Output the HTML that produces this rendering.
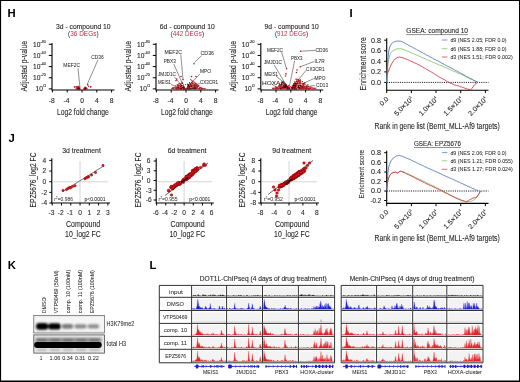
<!DOCTYPE html>
<html><head><meta charset="utf-8"><style>
html,body{margin:0;padding:0;background:#fff;}
svg{display:block;will-change:transform;}
text{font-family:"Liberation Sans", sans-serif;}
</style></head><body>
<svg width="520" height="382" viewBox="0 0 520 382">
<rect x="0.00" y="0.00" width="520.00" height="382.00" fill="#000" stroke="none" stroke-width="1" />
<rect x="1.10" y="1.00" width="517.90" height="379.50" fill="#fff" stroke="none" stroke-width="1" />
<text x="7.60" y="16.69" font-size="11.3" font-weight="bold" fill="#000">H</text>
<text x="349.40" y="17.09" font-size="11.3" font-weight="bold" fill="#000">I</text>
<text x="8.60" y="141.89" font-size="11.3" font-weight="bold" fill="#000">J</text>
<text x="7.80" y="269.09" font-size="11.3" font-weight="bold" fill="#000">K</text>
<text x="149.40" y="268.89" font-size="11.3" font-weight="bold" fill="#000">L</text>
<text x="56.00" y="28.76" font-size="6.6" fill="#231f20" stroke="#231f20" stroke-width="0.1" font-weight="normal" textLength="54.60" lengthAdjust="spacingAndGlyphs" >3d - compound 10</text>
<text x="68.00" y="36.16" font-size="6.6" textLength="30.60" lengthAdjust="spacingAndGlyphs" fill="#231f20">(<tspan fill="#c1304e">36 DEGs</tspan>)</text>
<text transform="translate(26.78,91.50) rotate(-90)" x="0" y="0" font-size="8.6" fill="#231f20" stroke="#231f20" stroke-width="0.1" textLength="50.50" lengthAdjust="spacingAndGlyphs">Adjusted p-value</text>
<line x1="52.00" y1="43.00" x2="52.00" y2="90.50" stroke="#000" stroke-width="1.1" />
<line x1="48.80" y1="44.30" x2="52.00" y2="44.30" stroke="#000" stroke-width="1" />
<text x="33.00" y="46.60" font-size="6.4" fill="#231f20" stroke="#231f20" stroke-width="0.1" textLength="7.4" lengthAdjust="spacingAndGlyphs">10</text>
<text x="40.60" y="42.70" font-size="3.6" fill="#231f20" stroke="#231f20" stroke-width="0.08" textLength="5.2" lengthAdjust="spacingAndGlyphs">-80</text>
<line x1="48.80" y1="55.45" x2="52.00" y2="55.45" stroke="#000" stroke-width="1" />
<text x="33.00" y="57.75" font-size="6.4" fill="#231f20" stroke="#231f20" stroke-width="0.1" textLength="7.4" lengthAdjust="spacingAndGlyphs">10</text>
<text x="40.60" y="53.85" font-size="3.6" fill="#231f20" stroke="#231f20" stroke-width="0.08" textLength="5.2" lengthAdjust="spacingAndGlyphs">-60</text>
<line x1="48.80" y1="66.60" x2="52.00" y2="66.60" stroke="#000" stroke-width="1" />
<text x="33.00" y="68.90" font-size="6.4" fill="#231f20" stroke="#231f20" stroke-width="0.1" textLength="7.4" lengthAdjust="spacingAndGlyphs">10</text>
<text x="40.60" y="65.00" font-size="3.6" fill="#231f20" stroke="#231f20" stroke-width="0.08" textLength="5.2" lengthAdjust="spacingAndGlyphs">-40</text>
<line x1="48.80" y1="77.75" x2="52.00" y2="77.75" stroke="#000" stroke-width="1" />
<text x="33.00" y="80.05" font-size="6.4" fill="#231f20" stroke="#231f20" stroke-width="0.1" textLength="7.4" lengthAdjust="spacingAndGlyphs">10</text>
<text x="40.60" y="76.15" font-size="3.6" fill="#231f20" stroke="#231f20" stroke-width="0.08" textLength="5.2" lengthAdjust="spacingAndGlyphs">-20</text>
<line x1="48.80" y1="88.90" x2="52.00" y2="88.90" stroke="#000" stroke-width="1" />
<text x="35.60" y="91.20" font-size="6.4" fill="#231f20" stroke="#231f20" stroke-width="0.1" textLength="7.4" lengthAdjust="spacingAndGlyphs">10</text>
<text x="43.20" y="87.30" font-size="3.6" fill="#231f20" stroke="#231f20" stroke-width="0.08" textLength="2.6" lengthAdjust="spacingAndGlyphs">0</text>
<line x1="52.00" y1="90.00" x2="114.50" y2="90.00" stroke="#000" stroke-width="1.1" />
<line x1="52.40" y1="90.00" x2="52.40" y2="92.50" stroke="#000" stroke-width="1" />
<text x="51.70" y="102.80" font-size="6.7" fill="#231f20" stroke="#231f20" stroke-width="0.1" font-weight="normal" text-anchor="middle">-8</text>
<line x1="67.20" y1="90.00" x2="67.20" y2="92.50" stroke="#000" stroke-width="1" />
<text x="66.50" y="102.80" font-size="6.7" fill="#231f20" stroke="#231f20" stroke-width="0.1" font-weight="normal" text-anchor="middle">-4</text>
<line x1="82.00" y1="90.00" x2="82.00" y2="92.50" stroke="#000" stroke-width="1" />
<text x="82.00" y="102.80" font-size="6.7" fill="#231f20" stroke="#231f20" stroke-width="0.1" font-weight="normal" text-anchor="middle">0</text>
<line x1="96.80" y1="90.00" x2="96.80" y2="92.50" stroke="#000" stroke-width="1" />
<text x="96.80" y="102.80" font-size="6.7" fill="#231f20" stroke="#231f20" stroke-width="0.1" font-weight="normal" text-anchor="middle">4</text>
<line x1="111.60" y1="90.00" x2="111.60" y2="92.50" stroke="#000" stroke-width="1" />
<text x="111.60" y="102.80" font-size="6.7" fill="#231f20" stroke="#231f20" stroke-width="0.1" font-weight="normal" text-anchor="middle">8</text>
<text x="56.90" y="114.85" font-size="8.8" fill="#231f20" stroke="#231f20" stroke-width="0.1" font-weight="normal" textLength="51.90" lengthAdjust="spacingAndGlyphs" >Log2 fold change</text>
<text x="63.30" y="67.13" font-size="5.4" fill="#231f20" stroke="#231f20" stroke-width="0.04" font-weight="normal" textLength="16.70" lengthAdjust="spacingAndGlyphs" >MEF2C</text>
<line x1="78.00" y1="68.30" x2="80.00" y2="88.10" stroke="#222" stroke-width="0.5" />
<text x="91.30" y="58.63" font-size="5.4" fill="#231f20" stroke="#231f20" stroke-width="0.04" font-weight="normal" textLength="12.30" lengthAdjust="spacingAndGlyphs" >CD36</text>
<line x1="98.00" y1="59.80" x2="87.40" y2="84.00" stroke="#222" stroke-width="0.5" />
<circle cx="87.70" cy="84.80" r="0.8" fill="#b21f24"/>
<circle cx="90.60" cy="86.80" r="0.8" fill="#b21f24"/>
<circle cx="74.50" cy="87.00" r="0.8" fill="#b21f24"/>
<path d="M75.2,89.6 C76.5,86.5 77.5,85.6 78.6,85.8 C79.6,86.2 80.3,87.5 80.8,89.6 Z" fill="#c8121a"/>
<path d="M82.8,89.6 C83.8,87.5 84.6,86.3 85.3,86.4 C86.2,86.6 87.2,88 88.4,89.6 Z" fill="#c8121a"/>
<path d="M77,89.6 L78.8,87.2 L80.4,89.6 Z M83.6,89.6 L85.2,87.6 L86.6,89.6 Z" fill="#3a0606"/>
<circle cx="74.90" cy="87.00" r="0.7" fill="#c8121a"/>
<circle cx="87.50" cy="84.60" r="0.7" fill="#c8121a"/>
<circle cx="88.60" cy="86.20" r="0.7" fill="#c8121a"/>
<circle cx="90.80" cy="87.00" r="0.7" fill="#c8121a"/>
<circle cx="76.20" cy="86.80" r="0.7" fill="#c8121a"/>
<text x="159.80" y="28.76" font-size="6.6" fill="#231f20" stroke="#231f20" stroke-width="0.1" font-weight="normal" textLength="55.00" lengthAdjust="spacingAndGlyphs" >6d - compound 10</text>
<text x="170.70" y="36.16" font-size="6.6" textLength="33.30" lengthAdjust="spacingAndGlyphs" fill="#231f20">(<tspan fill="#c1304e">442 DEGs</tspan>)</text>
<text transform="translate(130.78,91.50) rotate(-90)" x="0" y="0" font-size="8.6" fill="#231f20" stroke="#231f20" stroke-width="0.1" textLength="50.50" lengthAdjust="spacingAndGlyphs">Adjusted p-value</text>
<line x1="156.00" y1="43.00" x2="156.00" y2="90.50" stroke="#000" stroke-width="1.1" />
<line x1="152.80" y1="44.30" x2="156.00" y2="44.30" stroke="#000" stroke-width="1" />
<text x="137.00" y="46.60" font-size="6.4" fill="#231f20" stroke="#231f20" stroke-width="0.1" textLength="7.4" lengthAdjust="spacingAndGlyphs">10</text>
<text x="144.60" y="42.70" font-size="3.6" fill="#231f20" stroke="#231f20" stroke-width="0.08" textLength="5.2" lengthAdjust="spacingAndGlyphs">-80</text>
<line x1="152.80" y1="55.45" x2="156.00" y2="55.45" stroke="#000" stroke-width="1" />
<text x="137.00" y="57.75" font-size="6.4" fill="#231f20" stroke="#231f20" stroke-width="0.1" textLength="7.4" lengthAdjust="spacingAndGlyphs">10</text>
<text x="144.60" y="53.85" font-size="3.6" fill="#231f20" stroke="#231f20" stroke-width="0.08" textLength="5.2" lengthAdjust="spacingAndGlyphs">-60</text>
<line x1="152.80" y1="66.60" x2="156.00" y2="66.60" stroke="#000" stroke-width="1" />
<text x="137.00" y="68.90" font-size="6.4" fill="#231f20" stroke="#231f20" stroke-width="0.1" textLength="7.4" lengthAdjust="spacingAndGlyphs">10</text>
<text x="144.60" y="65.00" font-size="3.6" fill="#231f20" stroke="#231f20" stroke-width="0.08" textLength="5.2" lengthAdjust="spacingAndGlyphs">-40</text>
<line x1="152.80" y1="77.75" x2="156.00" y2="77.75" stroke="#000" stroke-width="1" />
<text x="137.00" y="80.05" font-size="6.4" fill="#231f20" stroke="#231f20" stroke-width="0.1" textLength="7.4" lengthAdjust="spacingAndGlyphs">10</text>
<text x="144.60" y="76.15" font-size="3.6" fill="#231f20" stroke="#231f20" stroke-width="0.08" textLength="5.2" lengthAdjust="spacingAndGlyphs">-20</text>
<line x1="152.80" y1="88.90" x2="156.00" y2="88.90" stroke="#000" stroke-width="1" />
<text x="139.60" y="91.20" font-size="6.4" fill="#231f20" stroke="#231f20" stroke-width="0.1" textLength="7.4" lengthAdjust="spacingAndGlyphs">10</text>
<text x="147.20" y="87.30" font-size="3.6" fill="#231f20" stroke="#231f20" stroke-width="0.08" textLength="2.6" lengthAdjust="spacingAndGlyphs">0</text>
<line x1="156.00" y1="90.00" x2="218.50" y2="90.00" stroke="#000" stroke-width="1.1" />
<line x1="156.40" y1="90.00" x2="156.40" y2="92.50" stroke="#000" stroke-width="1" />
<text x="155.70" y="102.80" font-size="6.7" fill="#231f20" stroke="#231f20" stroke-width="0.1" font-weight="normal" text-anchor="middle">-8</text>
<line x1="171.20" y1="90.00" x2="171.20" y2="92.50" stroke="#000" stroke-width="1" />
<text x="170.50" y="102.80" font-size="6.7" fill="#231f20" stroke="#231f20" stroke-width="0.1" font-weight="normal" text-anchor="middle">-4</text>
<line x1="186.00" y1="90.00" x2="186.00" y2="92.50" stroke="#000" stroke-width="1" />
<text x="186.00" y="102.80" font-size="6.7" fill="#231f20" stroke="#231f20" stroke-width="0.1" font-weight="normal" text-anchor="middle">0</text>
<line x1="200.80" y1="90.00" x2="200.80" y2="92.50" stroke="#000" stroke-width="1" />
<text x="200.80" y="102.80" font-size="6.7" fill="#231f20" stroke="#231f20" stroke-width="0.1" font-weight="normal" text-anchor="middle">4</text>
<line x1="215.60" y1="90.00" x2="215.60" y2="92.50" stroke="#000" stroke-width="1" />
<text x="215.60" y="102.80" font-size="6.7" fill="#231f20" stroke="#231f20" stroke-width="0.1" font-weight="normal" text-anchor="middle">8</text>
<text x="160.90" y="114.85" font-size="8.8" fill="#231f20" stroke="#231f20" stroke-width="0.1" font-weight="normal" textLength="51.90" lengthAdjust="spacingAndGlyphs" >Log2 fold change</text>
<path d="M186.00,89.60 L183.60,84.88 L182.40,89.60 Z" fill="#1e0c0c"/>
<circle cx="185.44" cy="88.76" r="0.62" fill="#b21f24"/>
<circle cx="181.75" cy="87.32" r="0.62" fill="#b21f24"/>
<circle cx="179.03" cy="85.87" r="0.62" fill="#b21f24"/>
<circle cx="178.83" cy="83.85" r="0.62" fill="#b21f24"/>
<circle cx="179.77" cy="88.78" r="0.62" fill="#b21f24"/>
<circle cx="184.90" cy="88.85" r="0.62" fill="#b21f24"/>
<circle cx="180.84" cy="84.23" r="0.62" fill="#b21f24"/>
<circle cx="184.41" cy="87.52" r="0.62" fill="#b21f24"/>
<circle cx="183.43" cy="84.99" r="0.62" fill="#b21f24"/>
<circle cx="182.90" cy="86.90" r="0.62" fill="#b21f24"/>
<circle cx="181.14" cy="88.56" r="0.62" fill="#b21f24"/>
<circle cx="175.78" cy="87.76" r="0.62" fill="#b21f24"/>
<circle cx="175.83" cy="85.63" r="0.62" fill="#b21f24"/>
<circle cx="180.70" cy="86.24" r="0.62" fill="#b21f24"/>
<circle cx="177.62" cy="87.69" r="0.62" fill="#b21f24"/>
<circle cx="178.62" cy="87.45" r="0.62" fill="#b21f24"/>
<circle cx="181.11" cy="83.49" r="0.62" fill="#b21f24"/>
<circle cx="178.35" cy="88.09" r="0.62" fill="#b21f24"/>
<circle cx="177.29" cy="84.63" r="0.62" fill="#b21f24"/>
<circle cx="180.38" cy="86.56" r="0.62" fill="#b21f24"/>
<circle cx="182.59" cy="83.45" r="0.62" fill="#b21f24"/>
<circle cx="175.85" cy="88.10" r="0.62" fill="#b21f24"/>
<circle cx="179.80" cy="85.31" r="0.62" fill="#b21f24"/>
<circle cx="179.54" cy="87.85" r="0.62" fill="#b21f24"/>
<circle cx="179.79" cy="83.52" r="0.62" fill="#b21f24"/>
<circle cx="181.99" cy="89.30" r="0.62" fill="#b21f24"/>
<circle cx="182.17" cy="82.28" r="0.62" fill="#b21f24"/>
<circle cx="182.99" cy="88.52" r="0.62" fill="#b21f24"/>
<circle cx="176.66" cy="87.74" r="0.62" fill="#b21f24"/>
<circle cx="176.40" cy="89.05" r="0.62" fill="#b21f24"/>
<circle cx="181.54" cy="86.47" r="0.62" fill="#b21f24"/>
<circle cx="180.58" cy="87.79" r="0.62" fill="#b21f24"/>
<circle cx="183.31" cy="87.55" r="0.62" fill="#b21f24"/>
<circle cx="180.70" cy="85.01" r="0.62" fill="#b21f24"/>
<circle cx="180.39" cy="88.01" r="0.62" fill="#b21f24"/>
<circle cx="178.09" cy="84.58" r="0.62" fill="#b21f24"/>
<circle cx="176.34" cy="88.31" r="0.62" fill="#b21f24"/>
<circle cx="179.37" cy="89.02" r="0.62" fill="#b21f24"/>
<circle cx="184.72" cy="89.23" r="0.62" fill="#b21f24"/>
<circle cx="185.51" cy="84.53" r="0.62" fill="#b21f24"/>
<circle cx="179.54" cy="88.06" r="0.62" fill="#b21f24"/>
<circle cx="181.66" cy="85.73" r="0.62" fill="#b21f24"/>
<circle cx="177.84" cy="85.83" r="0.62" fill="#b21f24"/>
<circle cx="182.62" cy="85.50" r="0.62" fill="#b21f24"/>
<circle cx="183.40" cy="88.67" r="0.62" fill="#b21f24"/>
<circle cx="177.56" cy="85.89" r="0.62" fill="#b21f24"/>
<circle cx="182.20" cy="82.87" r="0.62" fill="#b21f24"/>
<circle cx="177.58" cy="85.65" r="0.62" fill="#b21f24"/>
<circle cx="177.82" cy="86.11" r="0.62" fill="#b21f24"/>
<circle cx="175.88" cy="87.36" r="0.62" fill="#b21f24"/>
<circle cx="180.27" cy="84.36" r="0.62" fill="#b21f24"/>
<circle cx="178.17" cy="89.16" r="0.62" fill="#b21f24"/>
<circle cx="182.07" cy="87.87" r="0.62" fill="#b21f24"/>
<circle cx="178.44" cy="86.69" r="0.62" fill="#b21f24"/>
<circle cx="181.09" cy="89.30" r="0.62" fill="#b21f24"/>
<circle cx="176.90" cy="89.16" r="0.62" fill="#b21f24"/>
<circle cx="178.58" cy="85.46" r="0.62" fill="#b21f24"/>
<circle cx="185.15" cy="88.65" r="0.62" fill="#b21f24"/>
<circle cx="183.74" cy="86.18" r="0.62" fill="#b21f24"/>
<circle cx="181.55" cy="85.75" r="0.62" fill="#b21f24"/>
<circle cx="177.98" cy="88.45" r="0.6" fill="#b21f24"/>
<circle cx="174.01" cy="88.68" r="0.6" fill="#b21f24"/>
<circle cx="176.46" cy="88.43" r="0.6" fill="#b21f24"/>
<circle cx="172.61" cy="88.03" r="0.6" fill="#b21f24"/>
<circle cx="172.81" cy="88.00" r="0.6" fill="#b21f24"/>
<circle cx="178.53" cy="88.72" r="0.6" fill="#b21f24"/>
<circle cx="176.80" cy="88.69" r="0.6" fill="#b21f24"/>
<circle cx="177.35" cy="88.19" r="0.6" fill="#b21f24"/>
<circle cx="172.93" cy="88.30" r="0.6" fill="#b21f24"/>
<circle cx="173.84" cy="88.88" r="0.6" fill="#b21f24"/>
<circle cx="178.00" cy="87.80" r="0.6" fill="#b21f24"/>
<circle cx="179.88" cy="88.50" r="0.6" fill="#b21f24"/>
<circle cx="180.60" cy="88.90" r="0.6" fill="#b21f24"/>
<circle cx="173.14" cy="87.81" r="0.6" fill="#b21f24"/>
<circle cx="175.37" cy="88.85" r="0.6" fill="#b21f24"/>
<circle cx="183.06" cy="87.44" r="0.6" fill="#1e0808"/>
<circle cx="182.21" cy="87.27" r="0.6" fill="#1e0808"/>
<circle cx="180.12" cy="86.70" r="0.6" fill="#1e0808"/>
<circle cx="181.08" cy="88.41" r="0.6" fill="#1e0808"/>
<circle cx="183.78" cy="88.74" r="0.6" fill="#1e0808"/>
<circle cx="181.34" cy="88.50" r="0.6" fill="#1e0808"/>
<circle cx="181.44" cy="85.24" r="0.6" fill="#1e0808"/>
<path d="M186.00,89.60 L188.50,83.78 L191.10,89.60 Z" fill="#1e0c0c"/>
<circle cx="195.48" cy="87.42" r="0.62" fill="#b21f24"/>
<circle cx="189.37" cy="88.80" r="0.62" fill="#b21f24"/>
<circle cx="187.51" cy="84.11" r="0.62" fill="#b21f24"/>
<circle cx="194.87" cy="87.35" r="0.62" fill="#b21f24"/>
<circle cx="188.31" cy="85.60" r="0.62" fill="#b21f24"/>
<circle cx="197.54" cy="87.76" r="0.62" fill="#b21f24"/>
<circle cx="189.86" cy="87.56" r="0.62" fill="#b21f24"/>
<circle cx="195.63" cy="83.20" r="0.62" fill="#b21f24"/>
<circle cx="193.61" cy="87.68" r="0.62" fill="#b21f24"/>
<circle cx="192.54" cy="85.83" r="0.62" fill="#b21f24"/>
<circle cx="195.25" cy="85.73" r="0.62" fill="#b21f24"/>
<circle cx="200.42" cy="87.65" r="0.62" fill="#b21f24"/>
<circle cx="194.77" cy="87.58" r="0.62" fill="#b21f24"/>
<circle cx="196.61" cy="87.87" r="0.62" fill="#b21f24"/>
<circle cx="197.74" cy="86.38" r="0.62" fill="#b21f24"/>
<circle cx="185.09" cy="88.41" r="0.62" fill="#b21f24"/>
<circle cx="190.83" cy="85.84" r="0.62" fill="#b21f24"/>
<circle cx="192.05" cy="85.82" r="0.62" fill="#b21f24"/>
<circle cx="199.75" cy="89.13" r="0.62" fill="#b21f24"/>
<circle cx="196.64" cy="86.01" r="0.62" fill="#b21f24"/>
<circle cx="192.97" cy="81.29" r="0.62" fill="#b21f24"/>
<circle cx="194.23" cy="84.64" r="0.62" fill="#b21f24"/>
<circle cx="196.27" cy="88.55" r="0.62" fill="#b21f24"/>
<circle cx="190.62" cy="84.52" r="0.62" fill="#b21f24"/>
<circle cx="196.67" cy="83.97" r="0.62" fill="#b21f24"/>
<circle cx="197.95" cy="86.48" r="0.62" fill="#b21f24"/>
<circle cx="198.22" cy="85.48" r="0.62" fill="#b21f24"/>
<circle cx="196.84" cy="85.29" r="0.62" fill="#b21f24"/>
<circle cx="193.14" cy="87.49" r="0.62" fill="#b21f24"/>
<circle cx="191.93" cy="86.14" r="0.62" fill="#b21f24"/>
<circle cx="199.99" cy="88.33" r="0.62" fill="#b21f24"/>
<circle cx="188.50" cy="86.07" r="0.62" fill="#b21f24"/>
<circle cx="194.42" cy="83.97" r="0.62" fill="#b21f24"/>
<circle cx="195.48" cy="83.47" r="0.62" fill="#b21f24"/>
<circle cx="190.93" cy="88.89" r="0.62" fill="#b21f24"/>
<circle cx="194.07" cy="85.03" r="0.62" fill="#b21f24"/>
<circle cx="192.14" cy="87.84" r="0.62" fill="#b21f24"/>
<circle cx="192.09" cy="82.43" r="0.62" fill="#b21f24"/>
<circle cx="188.37" cy="85.06" r="0.62" fill="#b21f24"/>
<circle cx="187.79" cy="86.09" r="0.62" fill="#b21f24"/>
<circle cx="197.72" cy="85.73" r="0.62" fill="#b21f24"/>
<circle cx="191.58" cy="85.10" r="0.62" fill="#b21f24"/>
<circle cx="191.12" cy="85.43" r="0.62" fill="#b21f24"/>
<circle cx="186.72" cy="88.25" r="0.62" fill="#b21f24"/>
<circle cx="188.45" cy="87.58" r="0.62" fill="#b21f24"/>
<circle cx="193.09" cy="83.33" r="0.62" fill="#b21f24"/>
<circle cx="198.62" cy="86.72" r="0.62" fill="#b21f24"/>
<circle cx="202.05" cy="88.61" r="0.62" fill="#b21f24"/>
<circle cx="194.40" cy="87.17" r="0.62" fill="#b21f24"/>
<circle cx="190.83" cy="86.31" r="0.62" fill="#b21f24"/>
<circle cx="193.44" cy="83.17" r="0.62" fill="#b21f24"/>
<circle cx="196.51" cy="87.27" r="0.62" fill="#b21f24"/>
<circle cx="190.38" cy="85.34" r="0.62" fill="#b21f24"/>
<circle cx="198.94" cy="85.29" r="0.62" fill="#b21f24"/>
<circle cx="194.56" cy="85.05" r="0.62" fill="#b21f24"/>
<circle cx="193.05" cy="84.76" r="0.62" fill="#b21f24"/>
<circle cx="188.07" cy="89.07" r="0.62" fill="#b21f24"/>
<circle cx="191.19" cy="85.25" r="0.62" fill="#b21f24"/>
<circle cx="190.76" cy="79.51" r="0.62" fill="#b21f24"/>
<circle cx="191.61" cy="88.19" r="0.62" fill="#b21f24"/>
<circle cx="192.67" cy="88.29" r="0.62" fill="#b21f24"/>
<circle cx="191.91" cy="82.48" r="0.62" fill="#b21f24"/>
<circle cx="201.57" cy="89.21" r="0.62" fill="#b21f24"/>
<circle cx="190.90" cy="83.69" r="0.62" fill="#b21f24"/>
<circle cx="191.76" cy="80.74" r="0.62" fill="#b21f24"/>
<circle cx="190.23" cy="86.52" r="0.62" fill="#b21f24"/>
<circle cx="189.02" cy="88.01" r="0.62" fill="#b21f24"/>
<circle cx="189.22" cy="89.07" r="0.62" fill="#b21f24"/>
<circle cx="188.17" cy="86.96" r="0.62" fill="#b21f24"/>
<circle cx="201.66" cy="88.89" r="0.62" fill="#b21f24"/>
<circle cx="192.29" cy="83.39" r="0.62" fill="#b21f24"/>
<circle cx="194.42" cy="85.55" r="0.62" fill="#b21f24"/>
<circle cx="193.82" cy="87.29" r="0.62" fill="#b21f24"/>
<circle cx="187.54" cy="87.70" r="0.62" fill="#b21f24"/>
<circle cx="194.19" cy="86.29" r="0.62" fill="#b21f24"/>
<circle cx="189.43" cy="86.67" r="0.62" fill="#b21f24"/>
<circle cx="192.02" cy="84.79" r="0.62" fill="#b21f24"/>
<circle cx="199.96" cy="87.52" r="0.62" fill="#b21f24"/>
<circle cx="189.75" cy="83.59" r="0.62" fill="#b21f24"/>
<circle cx="196.25" cy="86.92" r="0.62" fill="#b21f24"/>
<circle cx="187.26" cy="88.90" r="0.62" fill="#b21f24"/>
<circle cx="192.77" cy="81.02" r="0.62" fill="#b21f24"/>
<circle cx="193.20" cy="88.40" r="0.62" fill="#b21f24"/>
<circle cx="196.46" cy="86.09" r="0.62" fill="#b21f24"/>
<circle cx="194.55" cy="82.11" r="0.62" fill="#b21f24"/>
<circle cx="196.15" cy="86.29" r="0.62" fill="#b21f24"/>
<circle cx="200.11" cy="87.36" r="0.62" fill="#b21f24"/>
<circle cx="195.84" cy="87.13" r="0.62" fill="#b21f24"/>
<circle cx="192.98" cy="85.14" r="0.62" fill="#b21f24"/>
<circle cx="194.40" cy="86.95" r="0.62" fill="#b21f24"/>
<circle cx="197.46" cy="87.05" r="0.62" fill="#b21f24"/>
<circle cx="194.52" cy="84.75" r="0.62" fill="#b21f24"/>
<circle cx="191.37" cy="85.64" r="0.62" fill="#b21f24"/>
<circle cx="201.06" cy="89.30" r="0.62" fill="#b21f24"/>
<circle cx="191.84" cy="85.43" r="0.62" fill="#b21f24"/>
<circle cx="195.40" cy="84.71" r="0.62" fill="#b21f24"/>
<circle cx="191.70" cy="84.16" r="0.62" fill="#b21f24"/>
<circle cx="187.66" cy="84.73" r="0.62" fill="#b21f24"/>
<circle cx="196.84" cy="84.36" r="0.62" fill="#b21f24"/>
<circle cx="193.40" cy="87.26" r="0.62" fill="#b21f24"/>
<circle cx="195.39" cy="88.16" r="0.6" fill="#b21f24"/>
<circle cx="203.95" cy="88.29" r="0.6" fill="#b21f24"/>
<circle cx="201.75" cy="88.37" r="0.6" fill="#b21f24"/>
<circle cx="195.79" cy="88.74" r="0.6" fill="#b21f24"/>
<circle cx="193.59" cy="88.20" r="0.6" fill="#b21f24"/>
<circle cx="194.56" cy="88.25" r="0.6" fill="#b21f24"/>
<circle cx="197.79" cy="88.48" r="0.6" fill="#b21f24"/>
<circle cx="205.17" cy="88.53" r="0.6" fill="#b21f24"/>
<circle cx="198.85" cy="88.54" r="0.6" fill="#b21f24"/>
<circle cx="195.54" cy="88.73" r="0.6" fill="#b21f24"/>
<circle cx="199.59" cy="88.02" r="0.6" fill="#b21f24"/>
<circle cx="193.95" cy="87.87" r="0.6" fill="#b21f24"/>
<circle cx="201.40" cy="88.94" r="0.6" fill="#b21f24"/>
<circle cx="201.81" cy="88.52" r="0.6" fill="#b21f24"/>
<circle cx="199.36" cy="88.88" r="0.6" fill="#b21f24"/>
<circle cx="199.31" cy="88.38" r="0.6" fill="#b21f24"/>
<circle cx="202.78" cy="88.30" r="0.6" fill="#b21f24"/>
<circle cx="201.79" cy="88.12" r="0.6" fill="#b21f24"/>
<circle cx="195.62" cy="88.97" r="0.6" fill="#b21f24"/>
<circle cx="198.90" cy="88.84" r="0.6" fill="#b21f24"/>
<circle cx="194.61" cy="88.61" r="0.6" fill="#b21f24"/>
<circle cx="199.66" cy="88.26" r="0.6" fill="#b21f24"/>
<circle cx="201.04" cy="87.87" r="0.6" fill="#b21f24"/>
<circle cx="194.10" cy="88.33" r="0.6" fill="#b21f24"/>
<circle cx="193.90" cy="88.20" r="0.6" fill="#b21f24"/>
<circle cx="189.20" cy="86.09" r="0.6" fill="#1e0808"/>
<circle cx="194.95" cy="86.93" r="0.6" fill="#1e0808"/>
<circle cx="188.51" cy="85.50" r="0.6" fill="#1e0808"/>
<circle cx="191.29" cy="86.64" r="0.6" fill="#1e0808"/>
<circle cx="190.96" cy="88.49" r="0.6" fill="#1e0808"/>
<circle cx="195.71" cy="88.29" r="0.6" fill="#1e0808"/>
<circle cx="188.85" cy="84.77" r="0.6" fill="#1e0808"/>
<circle cx="189.60" cy="86.58" r="0.6" fill="#1e0808"/>
<circle cx="192.20" cy="88.31" r="0.6" fill="#1e0808"/>
<circle cx="189.69" cy="82.57" r="0.6" fill="#1e0808"/>
<circle cx="190.24" cy="84.61" r="0.6" fill="#1e0808"/>
<circle cx="194.03" cy="88.95" r="0.6" fill="#1e0808"/>
<text x="164.60" y="53.83" font-size="5.4" fill="#231f20" stroke="#231f20" stroke-width="0.04" font-weight="normal" textLength="17.40" lengthAdjust="spacingAndGlyphs" >MEF2C</text>
<line x1="180.80" y1="54.50" x2="183.00" y2="79.20" stroke="#222" stroke-width="0.5" />
<circle cx="183.00" cy="79.60" r="0.8" fill="#b21f24"/>
<text x="200.60" y="54.63" font-size="5.4" fill="#231f20" stroke="#231f20" stroke-width="0.04" font-weight="normal" textLength="13.40" lengthAdjust="spacingAndGlyphs" >CD36</text>
<line x1="201.50" y1="55.60" x2="194.60" y2="62.50" stroke="#222" stroke-width="0.5" />
<circle cx="194.00" cy="63.70" r="0.8" fill="#b21f24"/>
<text x="163.70" y="62.73" font-size="5.4" fill="#231f20" stroke="#231f20" stroke-width="0.04" font-weight="normal" textLength="12.10" lengthAdjust="spacingAndGlyphs" >PBX3</text>
<line x1="173.80" y1="64.00" x2="182.50" y2="83.80" stroke="#222" stroke-width="0.5" />
<text x="200.00" y="73.13" font-size="5.4" fill="#231f20" stroke="#231f20" stroke-width="0.04" font-weight="normal" textLength="11.00" lengthAdjust="spacingAndGlyphs" >MPO</text>
<line x1="199.80" y1="74.00" x2="189.40" y2="85.00" stroke="#222" stroke-width="0.5" />
<circle cx="191.50" cy="76.50" r="0.8" fill="#b21f24"/>
<circle cx="196.00" cy="76.50" r="0.8" fill="#b21f24"/>
<text x="157.90" y="76.13" font-size="5.4" fill="#231f20" stroke="#231f20" stroke-width="0.04" font-weight="normal" textLength="18.10" lengthAdjust="spacingAndGlyphs" >JMJD1C</text>
<line x1="174.40" y1="77.00" x2="181.30" y2="85.00" stroke="#222" stroke-width="0.5" />
<circle cx="181.00" cy="76.50" r="0.8" fill="#b21f24"/>
<circle cx="176.80" cy="79.00" r="0.8" fill="#b21f24"/>
<circle cx="176.00" cy="80.50" r="0.8" fill="#b21f24"/>
<text x="158.00" y="84.43" font-size="5.4" fill="#231f20" stroke="#231f20" stroke-width="0.04" font-weight="normal" textLength="13.00" lengthAdjust="spacingAndGlyphs" >MEIS1</text>
<line x1="171.00" y1="84.40" x2="179.00" y2="87.90" stroke="#222" stroke-width="0.5" />
<circle cx="174.00" cy="87.50" r="0.8" fill="#b21f24"/>
<circle cx="172.00" cy="88.50" r="0.8" fill="#b21f24"/>
<text x="200.00" y="83.93" font-size="5.4" fill="#231f20" stroke="#231f20" stroke-width="0.04" font-weight="normal" textLength="18.00" lengthAdjust="spacingAndGlyphs" >CX3CR1</text>
<line x1="199.80" y1="83.30" x2="192.30" y2="86.70" stroke="#222" stroke-width="0.5" />
<circle cx="202.00" cy="88.50" r="0.8" fill="#b21f24"/>
<circle cx="204.00" cy="88.80" r="0.8" fill="#b21f24"/>
<text x="264.60" y="28.76" font-size="6.6" fill="#231f20" stroke="#231f20" stroke-width="0.1" font-weight="normal" textLength="54.20" lengthAdjust="spacingAndGlyphs" >9d - compound 10</text>
<text x="275.00" y="36.16" font-size="6.6" textLength="33.00" lengthAdjust="spacingAndGlyphs" fill="#231f20">(<tspan fill="#c1304e">912 DEGs</tspan>)</text>
<text transform="translate(235.58,91.50) rotate(-90)" x="0" y="0" font-size="8.6" fill="#231f20" stroke="#231f20" stroke-width="0.1" textLength="50.50" lengthAdjust="spacingAndGlyphs">Adjusted p-value</text>
<line x1="260.80" y1="43.00" x2="260.80" y2="90.50" stroke="#000" stroke-width="1.1" />
<line x1="257.60" y1="44.30" x2="260.80" y2="44.30" stroke="#000" stroke-width="1" />
<text x="241.80" y="46.60" font-size="6.4" fill="#231f20" stroke="#231f20" stroke-width="0.1" textLength="7.4" lengthAdjust="spacingAndGlyphs">10</text>
<text x="249.40" y="42.70" font-size="3.6" fill="#231f20" stroke="#231f20" stroke-width="0.08" textLength="5.2" lengthAdjust="spacingAndGlyphs">-80</text>
<line x1="257.60" y1="55.45" x2="260.80" y2="55.45" stroke="#000" stroke-width="1" />
<text x="241.80" y="57.75" font-size="6.4" fill="#231f20" stroke="#231f20" stroke-width="0.1" textLength="7.4" lengthAdjust="spacingAndGlyphs">10</text>
<text x="249.40" y="53.85" font-size="3.6" fill="#231f20" stroke="#231f20" stroke-width="0.08" textLength="5.2" lengthAdjust="spacingAndGlyphs">-60</text>
<line x1="257.60" y1="66.60" x2="260.80" y2="66.60" stroke="#000" stroke-width="1" />
<text x="241.80" y="68.90" font-size="6.4" fill="#231f20" stroke="#231f20" stroke-width="0.1" textLength="7.4" lengthAdjust="spacingAndGlyphs">10</text>
<text x="249.40" y="65.00" font-size="3.6" fill="#231f20" stroke="#231f20" stroke-width="0.08" textLength="5.2" lengthAdjust="spacingAndGlyphs">-40</text>
<line x1="257.60" y1="77.75" x2="260.80" y2="77.75" stroke="#000" stroke-width="1" />
<text x="241.80" y="80.05" font-size="6.4" fill="#231f20" stroke="#231f20" stroke-width="0.1" textLength="7.4" lengthAdjust="spacingAndGlyphs">10</text>
<text x="249.40" y="76.15" font-size="3.6" fill="#231f20" stroke="#231f20" stroke-width="0.08" textLength="5.2" lengthAdjust="spacingAndGlyphs">-20</text>
<line x1="257.60" y1="88.90" x2="260.80" y2="88.90" stroke="#000" stroke-width="1" />
<text x="244.40" y="91.20" font-size="6.4" fill="#231f20" stroke="#231f20" stroke-width="0.1" textLength="7.4" lengthAdjust="spacingAndGlyphs">10</text>
<text x="252.00" y="87.30" font-size="3.6" fill="#231f20" stroke="#231f20" stroke-width="0.08" textLength="2.6" lengthAdjust="spacingAndGlyphs">0</text>
<line x1="260.80" y1="90.00" x2="323.30" y2="90.00" stroke="#000" stroke-width="1.1" />
<line x1="261.20" y1="90.00" x2="261.20" y2="92.50" stroke="#000" stroke-width="1" />
<text x="260.50" y="102.80" font-size="6.7" fill="#231f20" stroke="#231f20" stroke-width="0.1" font-weight="normal" text-anchor="middle">-8</text>
<line x1="276.00" y1="90.00" x2="276.00" y2="92.50" stroke="#000" stroke-width="1" />
<text x="275.30" y="102.80" font-size="6.7" fill="#231f20" stroke="#231f20" stroke-width="0.1" font-weight="normal" text-anchor="middle">-4</text>
<line x1="290.80" y1="90.00" x2="290.80" y2="92.50" stroke="#000" stroke-width="1" />
<text x="290.80" y="102.80" font-size="6.7" fill="#231f20" stroke="#231f20" stroke-width="0.1" font-weight="normal" text-anchor="middle">0</text>
<line x1="305.60" y1="90.00" x2="305.60" y2="92.50" stroke="#000" stroke-width="1" />
<text x="305.60" y="102.80" font-size="6.7" fill="#231f20" stroke="#231f20" stroke-width="0.1" font-weight="normal" text-anchor="middle">4</text>
<line x1="320.40" y1="90.00" x2="320.40" y2="92.50" stroke="#000" stroke-width="1" />
<text x="320.40" y="102.80" font-size="6.7" fill="#231f20" stroke="#231f20" stroke-width="0.1" font-weight="normal" text-anchor="middle">8</text>
<text x="265.70" y="114.85" font-size="8.8" fill="#231f20" stroke="#231f20" stroke-width="0.1" font-weight="normal" textLength="51.90" lengthAdjust="spacingAndGlyphs" >Log2 fold change</text>
<path d="M290.80,89.60 L286.90,84.88 L286.00,89.60 Z" fill="#1e0c0c"/>
<circle cx="279.58" cy="87.81" r="0.62" fill="#b21f24"/>
<circle cx="286.20" cy="84.40" r="0.62" fill="#b21f24"/>
<circle cx="285.82" cy="87.04" r="0.62" fill="#b21f24"/>
<circle cx="280.89" cy="87.51" r="0.62" fill="#b21f24"/>
<circle cx="284.70" cy="86.12" r="0.62" fill="#b21f24"/>
<circle cx="284.59" cy="83.16" r="0.62" fill="#b21f24"/>
<circle cx="288.48" cy="86.23" r="0.62" fill="#b21f24"/>
<circle cx="286.32" cy="85.57" r="0.62" fill="#b21f24"/>
<circle cx="281.35" cy="84.94" r="0.62" fill="#b21f24"/>
<circle cx="282.71" cy="82.72" r="0.62" fill="#b21f24"/>
<circle cx="281.09" cy="88.38" r="0.62" fill="#b21f24"/>
<circle cx="280.12" cy="85.84" r="0.62" fill="#b21f24"/>
<circle cx="285.36" cy="84.63" r="0.62" fill="#b21f24"/>
<circle cx="289.34" cy="87.61" r="0.62" fill="#b21f24"/>
<circle cx="289.90" cy="87.52" r="0.62" fill="#b21f24"/>
<circle cx="282.30" cy="82.96" r="0.62" fill="#b21f24"/>
<circle cx="288.85" cy="85.42" r="0.62" fill="#b21f24"/>
<circle cx="276.96" cy="88.52" r="0.62" fill="#b21f24"/>
<circle cx="281.74" cy="83.57" r="0.62" fill="#b21f24"/>
<circle cx="285.16" cy="83.86" r="0.62" fill="#b21f24"/>
<circle cx="287.04" cy="88.03" r="0.62" fill="#b21f24"/>
<circle cx="287.01" cy="86.59" r="0.62" fill="#b21f24"/>
<circle cx="282.42" cy="87.30" r="0.62" fill="#b21f24"/>
<circle cx="275.89" cy="89.30" r="0.62" fill="#b21f24"/>
<circle cx="279.22" cy="88.40" r="0.62" fill="#b21f24"/>
<circle cx="280.65" cy="86.03" r="0.62" fill="#b21f24"/>
<circle cx="281.43" cy="88.96" r="0.62" fill="#b21f24"/>
<circle cx="284.97" cy="87.12" r="0.62" fill="#b21f24"/>
<circle cx="285.54" cy="85.29" r="0.62" fill="#b21f24"/>
<circle cx="280.62" cy="88.69" r="0.62" fill="#b21f24"/>
<circle cx="279.07" cy="85.70" r="0.62" fill="#b21f24"/>
<circle cx="284.57" cy="86.83" r="0.62" fill="#b21f24"/>
<circle cx="287.68" cy="87.23" r="0.62" fill="#b21f24"/>
<circle cx="280.66" cy="84.95" r="0.62" fill="#b21f24"/>
<circle cx="278.18" cy="86.79" r="0.62" fill="#b21f24"/>
<circle cx="283.31" cy="82.80" r="0.62" fill="#b21f24"/>
<circle cx="284.99" cy="86.26" r="0.62" fill="#b21f24"/>
<circle cx="282.27" cy="87.33" r="0.62" fill="#b21f24"/>
<circle cx="283.33" cy="86.03" r="0.62" fill="#b21f24"/>
<circle cx="275.86" cy="88.66" r="0.62" fill="#b21f24"/>
<circle cx="281.18" cy="88.44" r="0.62" fill="#b21f24"/>
<circle cx="284.08" cy="83.95" r="0.62" fill="#b21f24"/>
<circle cx="285.26" cy="86.82" r="0.62" fill="#b21f24"/>
<circle cx="279.21" cy="87.91" r="0.62" fill="#b21f24"/>
<circle cx="277.12" cy="87.97" r="0.62" fill="#b21f24"/>
<circle cx="281.33" cy="85.68" r="0.62" fill="#b21f24"/>
<circle cx="277.17" cy="87.76" r="0.62" fill="#b21f24"/>
<circle cx="286.04" cy="84.57" r="0.62" fill="#b21f24"/>
<circle cx="285.76" cy="86.47" r="0.62" fill="#b21f24"/>
<circle cx="283.13" cy="87.06" r="0.62" fill="#b21f24"/>
<circle cx="281.69" cy="84.42" r="0.62" fill="#b21f24"/>
<circle cx="286.47" cy="87.69" r="0.62" fill="#b21f24"/>
<circle cx="284.40" cy="88.33" r="0.62" fill="#b21f24"/>
<circle cx="284.22" cy="87.09" r="0.62" fill="#b21f24"/>
<circle cx="284.76" cy="84.25" r="0.62" fill="#b21f24"/>
<circle cx="281.55" cy="83.54" r="0.62" fill="#b21f24"/>
<circle cx="283.64" cy="86.12" r="0.62" fill="#b21f24"/>
<circle cx="277.91" cy="87.20" r="0.62" fill="#b21f24"/>
<circle cx="283.29" cy="81.96" r="0.62" fill="#b21f24"/>
<circle cx="285.97" cy="89.30" r="0.62" fill="#b21f24"/>
<circle cx="279.94" cy="85.79" r="0.62" fill="#b21f24"/>
<circle cx="288.53" cy="88.75" r="0.62" fill="#b21f24"/>
<circle cx="288.98" cy="89.18" r="0.62" fill="#b21f24"/>
<circle cx="282.70" cy="87.33" r="0.62" fill="#b21f24"/>
<circle cx="280.68" cy="85.10" r="0.62" fill="#b21f24"/>
<circle cx="280.80" cy="87.50" r="0.62" fill="#b21f24"/>
<circle cx="286.65" cy="88.98" r="0.62" fill="#b21f24"/>
<circle cx="279.50" cy="86.57" r="0.62" fill="#b21f24"/>
<circle cx="280.38" cy="85.79" r="0.62" fill="#b21f24"/>
<circle cx="280.88" cy="84.76" r="0.62" fill="#b21f24"/>
<circle cx="282.97" cy="85.79" r="0.62" fill="#b21f24"/>
<circle cx="285.02" cy="84.47" r="0.62" fill="#b21f24"/>
<circle cx="286.60" cy="88.90" r="0.62" fill="#b21f24"/>
<circle cx="276.06" cy="87.01" r="0.62" fill="#b21f24"/>
<circle cx="283.77" cy="86.67" r="0.62" fill="#b21f24"/>
<circle cx="280.98" cy="88.24" r="0.62" fill="#b21f24"/>
<circle cx="284.32" cy="83.34" r="0.62" fill="#b21f24"/>
<circle cx="278.06" cy="88.27" r="0.62" fill="#b21f24"/>
<circle cx="275.74" cy="87.08" r="0.62" fill="#b21f24"/>
<circle cx="283.75" cy="88.49" r="0.62" fill="#b21f24"/>
<circle cx="281.09" cy="86.98" r="0.62" fill="#b21f24"/>
<circle cx="288.37" cy="87.32" r="0.62" fill="#b21f24"/>
<circle cx="284.67" cy="86.11" r="0.62" fill="#b21f24"/>
<circle cx="279.01" cy="86.53" r="0.62" fill="#b21f24"/>
<circle cx="281.16" cy="86.75" r="0.62" fill="#b21f24"/>
<circle cx="282.86" cy="88.27" r="0.62" fill="#b21f24"/>
<circle cx="281.97" cy="82.46" r="0.62" fill="#b21f24"/>
<circle cx="279.53" cy="86.64" r="0.62" fill="#b21f24"/>
<circle cx="277.35" cy="88.80" r="0.62" fill="#b21f24"/>
<circle cx="281.38" cy="88.71" r="0.62" fill="#b21f24"/>
<circle cx="285.36" cy="88.36" r="0.62" fill="#b21f24"/>
<circle cx="284.00" cy="85.25" r="0.62" fill="#b21f24"/>
<circle cx="279.42" cy="84.33" r="0.62" fill="#b21f24"/>
<circle cx="282.00" cy="84.74" r="0.62" fill="#b21f24"/>
<circle cx="281.25" cy="85.90" r="0.62" fill="#b21f24"/>
<circle cx="283.23" cy="85.36" r="0.62" fill="#b21f24"/>
<circle cx="279.02" cy="85.32" r="0.62" fill="#b21f24"/>
<circle cx="281.21" cy="87.77" r="0.62" fill="#b21f24"/>
<circle cx="279.90" cy="86.41" r="0.62" fill="#b21f24"/>
<circle cx="283.59" cy="86.44" r="0.62" fill="#b21f24"/>
<circle cx="276.30" cy="87.85" r="0.6" fill="#b21f24"/>
<circle cx="274.15" cy="88.71" r="0.6" fill="#b21f24"/>
<circle cx="282.12" cy="88.69" r="0.6" fill="#b21f24"/>
<circle cx="282.15" cy="88.15" r="0.6" fill="#b21f24"/>
<circle cx="274.10" cy="87.92" r="0.6" fill="#b21f24"/>
<circle cx="281.34" cy="87.96" r="0.6" fill="#b21f24"/>
<circle cx="280.64" cy="88.49" r="0.6" fill="#b21f24"/>
<circle cx="275.65" cy="88.90" r="0.6" fill="#b21f24"/>
<circle cx="283.29" cy="88.00" r="0.6" fill="#b21f24"/>
<circle cx="280.90" cy="88.57" r="0.6" fill="#b21f24"/>
<circle cx="277.44" cy="88.19" r="0.6" fill="#b21f24"/>
<circle cx="284.32" cy="88.60" r="0.6" fill="#b21f24"/>
<circle cx="279.17" cy="88.42" r="0.6" fill="#b21f24"/>
<circle cx="281.88" cy="88.30" r="0.6" fill="#b21f24"/>
<circle cx="272.94" cy="88.53" r="0.6" fill="#b21f24"/>
<circle cx="277.87" cy="88.86" r="0.6" fill="#b21f24"/>
<circle cx="281.10" cy="88.20" r="0.6" fill="#b21f24"/>
<circle cx="283.05" cy="87.94" r="0.6" fill="#b21f24"/>
<circle cx="273.49" cy="88.88" r="0.6" fill="#b21f24"/>
<circle cx="273.10" cy="88.55" r="0.6" fill="#b21f24"/>
<circle cx="275.13" cy="88.09" r="0.6" fill="#b21f24"/>
<circle cx="280.85" cy="88.19" r="0.6" fill="#b21f24"/>
<circle cx="276.55" cy="88.03" r="0.6" fill="#b21f24"/>
<circle cx="281.21" cy="88.09" r="0.6" fill="#b21f24"/>
<circle cx="272.86" cy="88.19" r="0.6" fill="#b21f24"/>
<circle cx="286.60" cy="86.19" r="0.6" fill="#1e0808"/>
<circle cx="284.16" cy="86.41" r="0.6" fill="#1e0808"/>
<circle cx="285.66" cy="87.52" r="0.6" fill="#1e0808"/>
<circle cx="285.67" cy="86.03" r="0.6" fill="#1e0808"/>
<circle cx="284.73" cy="87.14" r="0.6" fill="#1e0808"/>
<circle cx="285.09" cy="84.69" r="0.6" fill="#1e0808"/>
<circle cx="285.84" cy="85.56" r="0.6" fill="#1e0808"/>
<circle cx="280.81" cy="88.64" r="0.6" fill="#1e0808"/>
<circle cx="284.02" cy="85.49" r="0.6" fill="#1e0808"/>
<circle cx="283.62" cy="86.89" r="0.6" fill="#1e0808"/>
<circle cx="282.80" cy="87.15" r="0.6" fill="#1e0808"/>
<circle cx="287.12" cy="87.36" r="0.6" fill="#1e0808"/>
<path d="M290.80,89.60 L294.05,82.95 L297.40,89.60 Z" fill="#1e0c0c"/>
<circle cx="307.02" cy="87.49" r="0.62" fill="#b21f24"/>
<circle cx="306.52" cy="86.72" r="0.62" fill="#b21f24"/>
<circle cx="296.87" cy="79.39" r="0.62" fill="#b21f24"/>
<circle cx="306.16" cy="86.99" r="0.62" fill="#b21f24"/>
<circle cx="297.99" cy="84.88" r="0.62" fill="#b21f24"/>
<circle cx="297.76" cy="87.94" r="0.62" fill="#b21f24"/>
<circle cx="298.42" cy="86.93" r="0.62" fill="#b21f24"/>
<circle cx="300.71" cy="81.67" r="0.62" fill="#b21f24"/>
<circle cx="297.50" cy="82.72" r="0.62" fill="#b21f24"/>
<circle cx="303.52" cy="84.24" r="0.62" fill="#b21f24"/>
<circle cx="297.03" cy="79.21" r="0.62" fill="#b21f24"/>
<circle cx="303.82" cy="88.18" r="0.62" fill="#b21f24"/>
<circle cx="293.46" cy="84.50" r="0.62" fill="#b21f24"/>
<circle cx="302.15" cy="86.89" r="0.62" fill="#b21f24"/>
<circle cx="307.34" cy="88.38" r="0.62" fill="#b21f24"/>
<circle cx="304.63" cy="83.93" r="0.62" fill="#b21f24"/>
<circle cx="301.59" cy="88.08" r="0.62" fill="#b21f24"/>
<circle cx="294.82" cy="84.02" r="0.62" fill="#b21f24"/>
<circle cx="301.07" cy="86.89" r="0.62" fill="#b21f24"/>
<circle cx="292.46" cy="86.10" r="0.62" fill="#b21f24"/>
<circle cx="297.92" cy="81.25" r="0.62" fill="#b21f24"/>
<circle cx="301.49" cy="87.02" r="0.62" fill="#b21f24"/>
<circle cx="307.50" cy="84.83" r="0.62" fill="#b21f24"/>
<circle cx="304.12" cy="86.79" r="0.62" fill="#b21f24"/>
<circle cx="292.86" cy="87.99" r="0.62" fill="#b21f24"/>
<circle cx="302.51" cy="86.52" r="0.62" fill="#b21f24"/>
<circle cx="302.01" cy="83.27" r="0.62" fill="#b21f24"/>
<circle cx="306.18" cy="87.49" r="0.62" fill="#b21f24"/>
<circle cx="305.96" cy="86.45" r="0.62" fill="#b21f24"/>
<circle cx="300.08" cy="82.45" r="0.62" fill="#b21f24"/>
<circle cx="298.60" cy="80.48" r="0.62" fill="#b21f24"/>
<circle cx="295.57" cy="86.90" r="0.62" fill="#b21f24"/>
<circle cx="293.80" cy="89.30" r="0.62" fill="#b21f24"/>
<circle cx="291.00" cy="88.54" r="0.62" fill="#b21f24"/>
<circle cx="295.92" cy="81.61" r="0.62" fill="#b21f24"/>
<circle cx="312.28" cy="88.97" r="0.62" fill="#b21f24"/>
<circle cx="297.05" cy="83.39" r="0.62" fill="#b21f24"/>
<circle cx="292.67" cy="87.16" r="0.62" fill="#b21f24"/>
<circle cx="304.48" cy="86.46" r="0.62" fill="#b21f24"/>
<circle cx="298.66" cy="85.47" r="0.62" fill="#b21f24"/>
<circle cx="294.34" cy="83.77" r="0.62" fill="#b21f24"/>
<circle cx="295.03" cy="82.53" r="0.62" fill="#b21f24"/>
<circle cx="293.67" cy="87.42" r="0.62" fill="#b21f24"/>
<circle cx="309.82" cy="87.79" r="0.62" fill="#b21f24"/>
<circle cx="294.07" cy="86.78" r="0.62" fill="#b21f24"/>
<circle cx="306.42" cy="85.56" r="0.62" fill="#b21f24"/>
<circle cx="299.22" cy="81.62" r="0.62" fill="#b21f24"/>
<circle cx="302.56" cy="81.51" r="0.62" fill="#b21f24"/>
<circle cx="298.80" cy="85.48" r="0.62" fill="#b21f24"/>
<circle cx="304.88" cy="88.38" r="0.62" fill="#b21f24"/>
<circle cx="303.61" cy="86.94" r="0.62" fill="#b21f24"/>
<circle cx="301.12" cy="85.35" r="0.62" fill="#b21f24"/>
<circle cx="297.31" cy="83.52" r="0.62" fill="#b21f24"/>
<circle cx="299.44" cy="82.89" r="0.62" fill="#b21f24"/>
<circle cx="298.30" cy="79.65" r="0.62" fill="#b21f24"/>
<circle cx="304.64" cy="87.01" r="0.62" fill="#b21f24"/>
<circle cx="301.75" cy="85.59" r="0.62" fill="#b21f24"/>
<circle cx="310.47" cy="88.39" r="0.62" fill="#b21f24"/>
<circle cx="305.62" cy="88.30" r="0.62" fill="#b21f24"/>
<circle cx="305.88" cy="87.27" r="0.62" fill="#b21f24"/>
<circle cx="296.69" cy="81.29" r="0.62" fill="#b21f24"/>
<circle cx="298.41" cy="81.97" r="0.62" fill="#b21f24"/>
<circle cx="298.54" cy="83.33" r="0.62" fill="#b21f24"/>
<circle cx="300.44" cy="80.15" r="0.62" fill="#b21f24"/>
<circle cx="299.02" cy="80.54" r="0.62" fill="#b21f24"/>
<circle cx="298.85" cy="79.88" r="0.62" fill="#b21f24"/>
<circle cx="294.63" cy="87.05" r="0.62" fill="#b21f24"/>
<circle cx="296.62" cy="83.41" r="0.62" fill="#b21f24"/>
<circle cx="308.71" cy="86.80" r="0.62" fill="#b21f24"/>
<circle cx="296.77" cy="81.56" r="0.62" fill="#b21f24"/>
<circle cx="303.36" cy="87.59" r="0.62" fill="#b21f24"/>
<circle cx="301.90" cy="85.68" r="0.62" fill="#b21f24"/>
<circle cx="305.19" cy="89.06" r="0.62" fill="#b21f24"/>
<circle cx="296.87" cy="86.20" r="0.62" fill="#b21f24"/>
<circle cx="290.68" cy="86.72" r="0.62" fill="#b21f24"/>
<circle cx="304.93" cy="82.69" r="0.62" fill="#b21f24"/>
<circle cx="302.58" cy="87.84" r="0.62" fill="#b21f24"/>
<circle cx="292.14" cy="89.30" r="0.62" fill="#b21f24"/>
<circle cx="294.01" cy="86.48" r="0.62" fill="#b21f24"/>
<circle cx="302.98" cy="83.96" r="0.62" fill="#b21f24"/>
<circle cx="301.46" cy="86.78" r="0.62" fill="#b21f24"/>
<circle cx="308.60" cy="86.52" r="0.62" fill="#b21f24"/>
<circle cx="295.86" cy="85.31" r="0.62" fill="#b21f24"/>
<circle cx="294.69" cy="85.55" r="0.62" fill="#b21f24"/>
<circle cx="296.48" cy="85.52" r="0.62" fill="#b21f24"/>
<circle cx="303.08" cy="84.69" r="0.62" fill="#b21f24"/>
<circle cx="303.81" cy="85.15" r="0.62" fill="#b21f24"/>
<circle cx="298.11" cy="85.65" r="0.62" fill="#b21f24"/>
<circle cx="302.92" cy="87.47" r="0.62" fill="#b21f24"/>
<circle cx="295.71" cy="87.78" r="0.62" fill="#b21f24"/>
<circle cx="295.84" cy="88.75" r="0.62" fill="#b21f24"/>
<circle cx="291.71" cy="87.19" r="0.62" fill="#b21f24"/>
<circle cx="303.65" cy="88.72" r="0.62" fill="#b21f24"/>
<circle cx="299.57" cy="80.95" r="0.62" fill="#b21f24"/>
<circle cx="299.81" cy="87.87" r="0.62" fill="#b21f24"/>
<circle cx="295.59" cy="88.36" r="0.62" fill="#b21f24"/>
<circle cx="295.68" cy="86.28" r="0.62" fill="#b21f24"/>
<circle cx="300.60" cy="83.03" r="0.62" fill="#b21f24"/>
<circle cx="296.04" cy="84.70" r="0.62" fill="#b21f24"/>
<circle cx="294.92" cy="84.57" r="0.62" fill="#b21f24"/>
<circle cx="305.11" cy="84.78" r="0.62" fill="#b21f24"/>
<circle cx="292.34" cy="85.34" r="0.62" fill="#b21f24"/>
<circle cx="303.35" cy="84.51" r="0.62" fill="#b21f24"/>
<circle cx="309.31" cy="89.22" r="0.62" fill="#b21f24"/>
<circle cx="298.66" cy="81.30" r="0.62" fill="#b21f24"/>
<circle cx="294.66" cy="81.92" r="0.62" fill="#b21f24"/>
<circle cx="299.74" cy="82.36" r="0.62" fill="#b21f24"/>
<circle cx="305.60" cy="88.39" r="0.62" fill="#b21f24"/>
<circle cx="292.06" cy="87.54" r="0.62" fill="#b21f24"/>
<circle cx="308.35" cy="88.88" r="0.62" fill="#b21f24"/>
<circle cx="300.41" cy="85.08" r="0.62" fill="#b21f24"/>
<circle cx="301.42" cy="85.82" r="0.62" fill="#b21f24"/>
<circle cx="296.55" cy="80.96" r="0.62" fill="#b21f24"/>
<circle cx="292.71" cy="86.64" r="0.62" fill="#b21f24"/>
<circle cx="300.00" cy="87.16" r="0.62" fill="#b21f24"/>
<circle cx="296.82" cy="81.30" r="0.62" fill="#b21f24"/>
<circle cx="299.62" cy="83.64" r="0.62" fill="#b21f24"/>
<circle cx="297.64" cy="81.62" r="0.62" fill="#b21f24"/>
<circle cx="295.84" cy="79.19" r="0.62" fill="#b21f24"/>
<circle cx="292.95" cy="87.06" r="0.62" fill="#b21f24"/>
<circle cx="300.12" cy="79.95" r="0.62" fill="#b21f24"/>
<circle cx="301.05" cy="88.76" r="0.62" fill="#b21f24"/>
<circle cx="294.97" cy="82.60" r="0.62" fill="#b21f24"/>
<circle cx="293.60" cy="88.47" r="0.62" fill="#b21f24"/>
<circle cx="297.73" cy="87.39" r="0.62" fill="#b21f24"/>
<circle cx="306.47" cy="89.30" r="0.62" fill="#b21f24"/>
<circle cx="300.62" cy="83.45" r="0.62" fill="#b21f24"/>
<circle cx="300.78" cy="81.04" r="0.62" fill="#b21f24"/>
<circle cx="303.64" cy="83.37" r="0.62" fill="#b21f24"/>
<circle cx="308.13" cy="86.38" r="0.62" fill="#b21f24"/>
<circle cx="311.14" cy="87.07" r="0.62" fill="#b21f24"/>
<circle cx="297.81" cy="87.34" r="0.62" fill="#b21f24"/>
<circle cx="304.18" cy="88.55" r="0.62" fill="#b21f24"/>
<circle cx="310.62" cy="87.06" r="0.62" fill="#b21f24"/>
<circle cx="303.32" cy="85.28" r="0.62" fill="#b21f24"/>
<circle cx="304.59" cy="83.70" r="0.62" fill="#b21f24"/>
<circle cx="303.61" cy="85.82" r="0.62" fill="#b21f24"/>
<circle cx="307.98" cy="84.89" r="0.62" fill="#b21f24"/>
<circle cx="294.88" cy="89.09" r="0.62" fill="#b21f24"/>
<circle cx="294.13" cy="86.03" r="0.62" fill="#b21f24"/>
<circle cx="306.84" cy="86.78" r="0.62" fill="#b21f24"/>
<circle cx="302.86" cy="83.78" r="0.62" fill="#b21f24"/>
<circle cx="300.35" cy="89.15" r="0.62" fill="#b21f24"/>
<circle cx="301.31" cy="87.39" r="0.62" fill="#b21f24"/>
<circle cx="308.51" cy="89.30" r="0.62" fill="#b21f24"/>
<circle cx="296.52" cy="84.59" r="0.62" fill="#b21f24"/>
<circle cx="297.25" cy="82.19" r="0.62" fill="#b21f24"/>
<circle cx="303.33" cy="86.04" r="0.62" fill="#b21f24"/>
<circle cx="295.47" cy="85.00" r="0.62" fill="#b21f24"/>
<circle cx="300.10" cy="86.36" r="0.62" fill="#b21f24"/>
<circle cx="298.35" cy="88.25" r="0.62" fill="#b21f24"/>
<circle cx="294.41" cy="83.72" r="0.62" fill="#b21f24"/>
<circle cx="296.13" cy="86.78" r="0.62" fill="#b21f24"/>
<circle cx="298.39" cy="81.09" r="0.62" fill="#b21f24"/>
<circle cx="296.52" cy="83.61" r="0.62" fill="#b21f24"/>
<circle cx="300.92" cy="87.13" r="0.62" fill="#b21f24"/>
<circle cx="293.47" cy="84.80" r="0.62" fill="#b21f24"/>
<circle cx="300.39" cy="85.94" r="0.62" fill="#b21f24"/>
<circle cx="300.41" cy="85.02" r="0.62" fill="#b21f24"/>
<circle cx="298.38" cy="89.09" r="0.62" fill="#b21f24"/>
<circle cx="312.03" cy="87.81" r="0.6" fill="#b21f24"/>
<circle cx="300.69" cy="88.99" r="0.6" fill="#b21f24"/>
<circle cx="307.52" cy="88.49" r="0.6" fill="#b21f24"/>
<circle cx="314.36" cy="88.01" r="0.6" fill="#b21f24"/>
<circle cx="305.07" cy="88.50" r="0.6" fill="#b21f24"/>
<circle cx="309.22" cy="87.94" r="0.6" fill="#b21f24"/>
<circle cx="302.93" cy="88.53" r="0.6" fill="#b21f24"/>
<circle cx="301.06" cy="88.23" r="0.6" fill="#b21f24"/>
<circle cx="300.04" cy="87.88" r="0.6" fill="#b21f24"/>
<circle cx="308.24" cy="88.31" r="0.6" fill="#b21f24"/>
<circle cx="301.01" cy="88.72" r="0.6" fill="#b21f24"/>
<circle cx="307.33" cy="87.97" r="0.6" fill="#b21f24"/>
<circle cx="308.49" cy="88.66" r="0.6" fill="#b21f24"/>
<circle cx="315.80" cy="88.21" r="0.6" fill="#b21f24"/>
<circle cx="308.32" cy="88.76" r="0.6" fill="#b21f24"/>
<circle cx="304.53" cy="87.92" r="0.6" fill="#b21f24"/>
<circle cx="301.79" cy="88.36" r="0.6" fill="#b21f24"/>
<circle cx="309.83" cy="88.57" r="0.6" fill="#b21f24"/>
<circle cx="312.28" cy="87.91" r="0.6" fill="#b21f24"/>
<circle cx="313.75" cy="88.11" r="0.6" fill="#b21f24"/>
<circle cx="302.96" cy="88.93" r="0.6" fill="#b21f24"/>
<circle cx="306.74" cy="88.63" r="0.6" fill="#b21f24"/>
<circle cx="302.80" cy="87.95" r="0.6" fill="#b21f24"/>
<circle cx="303.17" cy="88.01" r="0.6" fill="#b21f24"/>
<circle cx="315.07" cy="88.86" r="0.6" fill="#b21f24"/>
<circle cx="314.67" cy="88.52" r="0.6" fill="#b21f24"/>
<circle cx="303.10" cy="88.78" r="0.6" fill="#b21f24"/>
<circle cx="300.22" cy="88.40" r="0.6" fill="#b21f24"/>
<circle cx="305.94" cy="87.98" r="0.6" fill="#b21f24"/>
<circle cx="313.34" cy="88.93" r="0.6" fill="#b21f24"/>
<circle cx="306.22" cy="88.53" r="0.6" fill="#b21f24"/>
<circle cx="302.53" cy="88.70" r="0.6" fill="#b21f24"/>
<circle cx="303.95" cy="88.17" r="0.6" fill="#b21f24"/>
<circle cx="305.21" cy="88.87" r="0.6" fill="#b21f24"/>
<circle cx="303.24" cy="88.47" r="0.6" fill="#b21f24"/>
<circle cx="308.92" cy="88.71" r="0.6" fill="#b21f24"/>
<circle cx="311.14" cy="88.74" r="0.6" fill="#b21f24"/>
<circle cx="310.67" cy="88.27" r="0.6" fill="#b21f24"/>
<circle cx="302.50" cy="88.10" r="0.6" fill="#b21f24"/>
<circle cx="306.10" cy="88.35" r="0.6" fill="#b21f24"/>
<circle cx="298.36" cy="85.90" r="0.6" fill="#1e0808"/>
<circle cx="293.67" cy="85.59" r="0.6" fill="#1e0808"/>
<circle cx="293.93" cy="87.36" r="0.6" fill="#1e0808"/>
<circle cx="299.60" cy="85.07" r="0.6" fill="#1e0808"/>
<circle cx="295.69" cy="83.37" r="0.6" fill="#1e0808"/>
<circle cx="297.34" cy="83.72" r="0.6" fill="#1e0808"/>
<circle cx="291.84" cy="87.59" r="0.6" fill="#1e0808"/>
<circle cx="293.84" cy="83.96" r="0.6" fill="#1e0808"/>
<circle cx="295.75" cy="85.28" r="0.6" fill="#1e0808"/>
<circle cx="302.27" cy="86.82" r="0.6" fill="#1e0808"/>
<circle cx="298.43" cy="86.94" r="0.6" fill="#1e0808"/>
<circle cx="299.42" cy="88.17" r="0.6" fill="#1e0808"/>
<circle cx="299.52" cy="87.85" r="0.6" fill="#1e0808"/>
<circle cx="295.00" cy="85.45" r="0.6" fill="#1e0808"/>
<circle cx="300.42" cy="85.56" r="0.6" fill="#1e0808"/>
<circle cx="295.41" cy="85.79" r="0.6" fill="#1e0808"/>
<circle cx="293.16" cy="87.44" r="0.6" fill="#1e0808"/>
<circle cx="298.78" cy="87.16" r="0.6" fill="#1e0808"/>
<circle cx="295.63" cy="83.63" r="0.6" fill="#1e0808"/>
<text x="267.00" y="51.93" font-size="5.4" fill="#231f20" stroke="#231f20" stroke-width="0.04" font-weight="normal" textLength="16.00" lengthAdjust="spacingAndGlyphs" >MEF2C</text>
<line x1="281.60" y1="52.20" x2="286.60" y2="68.80" stroke="#222" stroke-width="0.5" />
<circle cx="286.60" cy="68.80" r="0.8" fill="#b21f24"/>
<circle cx="286.00" cy="73.90" r="0.8" fill="#b21f24"/>
<circle cx="285.50" cy="76.00" r="0.8" fill="#b21f24"/>
<text x="315.60" y="52.13" font-size="5.4" fill="#231f20" stroke="#231f20" stroke-width="0.04" font-weight="normal" textLength="12.40" lengthAdjust="spacingAndGlyphs" >CD36</text>
<line x1="315.50" y1="50.40" x2="300.60" y2="51.20" stroke="#222" stroke-width="0.5" />
<circle cx="300.60" cy="51.20" r="0.8" fill="#b21f24"/>
<text x="291.00" y="60.23" font-size="5.4" fill="#231f20" stroke="#231f20" stroke-width="0.04" font-weight="normal" textLength="11.50" lengthAdjust="spacingAndGlyphs" >PBX3</text>
<line x1="294.60" y1="60.90" x2="288.80" y2="89.00" stroke="#222" stroke-width="0.5" />
<text x="264.00" y="63.93" font-size="5.4" fill="#231f20" stroke="#231f20" stroke-width="0.04" font-weight="normal" textLength="18.00" lengthAdjust="spacingAndGlyphs" >JMJD1C</text>
<line x1="274.40" y1="65.20" x2="288.10" y2="88.30" stroke="#222" stroke-width="0.5" />
<text x="314.60" y="62.93" font-size="5.4" fill="#231f20" stroke="#231f20" stroke-width="0.04" font-weight="normal" textLength="10.00" lengthAdjust="spacingAndGlyphs" >IL7R</text>
<line x1="314.00" y1="61.60" x2="300.30" y2="66.70" stroke="#222" stroke-width="0.5" />
<circle cx="300.30" cy="66.70" r="0.8" fill="#b21f24"/>
<circle cx="297.00" cy="70.00" r="0.8" fill="#b21f24"/>
<circle cx="296.50" cy="72.50" r="0.8" fill="#b21f24"/>
<text x="306.00" y="71.33" font-size="5.4" fill="#231f20" stroke="#231f20" stroke-width="0.04" font-weight="normal" textLength="18.60" lengthAdjust="spacingAndGlyphs" >CX3CR1</text>
<line x1="306.10" y1="70.30" x2="296.70" y2="81.80" stroke="#222" stroke-width="0.5" />
<text x="264.60" y="75.53" font-size="5.4" fill="#231f20" stroke="#231f20" stroke-width="0.04" font-weight="normal" textLength="13.40" lengthAdjust="spacingAndGlyphs" >MEIS1</text>
<line x1="275.80" y1="76.00" x2="286.00" y2="84.00" stroke="#222" stroke-width="0.5" />
<text x="314.60" y="79.63" font-size="5.4" fill="#231f20" stroke="#231f20" stroke-width="0.04" font-weight="normal" textLength="11.00" lengthAdjust="spacingAndGlyphs" >MPO</text>
<line x1="314.80" y1="78.20" x2="301.80" y2="84.00" stroke="#222" stroke-width="0.5" />
<text x="262.00" y="85.43" font-size="5.4" fill="#231f20" stroke="#231f20" stroke-width="0.04" font-weight="normal" textLength="22.00" lengthAdjust="spacingAndGlyphs" >HOXA6</text>
<line x1="271.50" y1="84.00" x2="277.30" y2="87.50" stroke="#222" stroke-width="0.5" />
<text x="316.00" y="86.93" font-size="5.4" fill="#231f20" stroke="#231f20" stroke-width="0.04" font-weight="normal" textLength="12.00" lengthAdjust="spacingAndGlyphs" >CD13</text>
<line x1="314.80" y1="85.40" x2="306.10" y2="86.80" stroke="#222" stroke-width="0.5" />
<text x="406.30" y="32.83" font-size="6.8" fill="#231f20" stroke="#231f20" stroke-width="0.1" font-weight="normal" textLength="61.70" lengthAdjust="spacingAndGlyphs" >GSEA: compound 10</text>
<line x1="406.30" y1="34.60" x2="468.00" y2="34.60" stroke="#231f20" stroke-width="0.5" />
<line x1="441.80" y1="40.00" x2="447.40" y2="40.00" stroke="#4a6fb5" stroke-width="0.7" />
<text x="450.40" y="42.00" font-size="5.6" fill="#231f20" stroke="#231f20" stroke-width="0.04" font-weight="normal" textLength="56.10" lengthAdjust="spacingAndGlyphs" >d9 (NES 2.05; FDR 0.0)</text>
<line x1="441.80" y1="48.70" x2="447.40" y2="48.70" stroke="#79c05a" stroke-width="0.7" />
<text x="450.40" y="50.70" font-size="5.6" fill="#231f20" stroke="#231f20" stroke-width="0.04" font-weight="normal" textLength="56.10" lengthAdjust="spacingAndGlyphs" >d6 (NES 1.88; FDR 0.0)</text>
<line x1="441.80" y1="57.00" x2="447.40" y2="57.00" stroke="#d0283c" stroke-width="0.7" />
<text x="450.40" y="59.00" font-size="5.6" fill="#231f20" stroke="#231f20" stroke-width="0.04" font-weight="normal" textLength="62.30" lengthAdjust="spacingAndGlyphs" >d3 (NES 1.51; FDR 0.002)</text>
<line x1="386.70" y1="38.20" x2="386.70" y2="90.70" stroke="#000" stroke-width="1.1" />
<line x1="384.20" y1="40.20" x2="386.70" y2="40.20" stroke="#000" stroke-width="1" />
<text x="381.10" y="42.56" font-size="6.6" fill="#231f20" stroke="#231f20" stroke-width="0.1" text-anchor="end" textLength="10.0" lengthAdjust="spacingAndGlyphs">0.8</text>
<line x1="384.20" y1="50.80" x2="386.70" y2="50.80" stroke="#000" stroke-width="1" />
<text x="381.10" y="53.16" font-size="6.6" fill="#231f20" stroke="#231f20" stroke-width="0.1" text-anchor="end" textLength="10.0" lengthAdjust="spacingAndGlyphs">0.6</text>
<line x1="384.20" y1="61.30" x2="386.70" y2="61.30" stroke="#000" stroke-width="1" />
<text x="381.10" y="63.66" font-size="6.6" fill="#231f20" stroke="#231f20" stroke-width="0.1" text-anchor="end" textLength="10.0" lengthAdjust="spacingAndGlyphs">0.4</text>
<line x1="384.20" y1="71.90" x2="386.70" y2="71.90" stroke="#000" stroke-width="1" />
<text x="381.10" y="74.26" font-size="6.6" fill="#231f20" stroke="#231f20" stroke-width="0.1" text-anchor="end" textLength="10.0" lengthAdjust="spacingAndGlyphs">0.2</text>
<line x1="384.20" y1="82.40" x2="386.70" y2="82.40" stroke="#000" stroke-width="1" />
<text x="381.10" y="84.76" font-size="6.6" fill="#231f20" stroke="#231f20" stroke-width="0.1" text-anchor="end" textLength="10.0" lengthAdjust="spacingAndGlyphs">0.0</text>
<line x1="386.70" y1="82.40" x2="488.50" y2="82.40" stroke="#000" stroke-width="0.9" stroke-dasharray="1.1,1.1"/>
<line x1="386.70" y1="90.20" x2="488.50" y2="90.20" stroke="#000" stroke-width="1.1" />
<line x1="386.70" y1="90.20" x2="386.70" y2="93.00" stroke="#000" stroke-width="1" />
<text transform="translate(389.10,99.40) rotate(-45)" x="0" y="0" font-size="7.0" fill="#231f20" stroke="#231f20" stroke-width="0.1" text-anchor="end">0.0</text>
<line x1="411.37" y1="90.20" x2="411.37" y2="93.00" stroke="#000" stroke-width="1" />
<text transform="translate(413.77,99.40) rotate(-45)" x="0" y="0" font-size="7.0" fill="#231f20" stroke="#231f20" stroke-width="0.1" text-anchor="end">5.0×10<tspan font-size="3.8" dy="-2.8" stroke-width="0.05">3</tspan></text>
<line x1="436.04" y1="90.20" x2="436.04" y2="93.00" stroke="#000" stroke-width="1" />
<text transform="translate(438.44,99.40) rotate(-45)" x="0" y="0" font-size="7.0" fill="#231f20" stroke="#231f20" stroke-width="0.1" text-anchor="end">1.0×10<tspan font-size="3.8" dy="-2.8" stroke-width="0.05">4</tspan></text>
<line x1="460.71" y1="90.20" x2="460.71" y2="93.00" stroke="#000" stroke-width="1" />
<text transform="translate(463.11,99.40) rotate(-45)" x="0" y="0" font-size="7.0" fill="#231f20" stroke="#231f20" stroke-width="0.1" text-anchor="end">1.5×10<tspan font-size="3.8" dy="-2.8" stroke-width="0.05">4</tspan></text>
<line x1="485.38" y1="90.20" x2="485.38" y2="93.00" stroke="#000" stroke-width="1" />
<text transform="translate(487.78,99.40) rotate(-45)" x="0" y="0" font-size="7.0" fill="#231f20" stroke="#231f20" stroke-width="0.1" text-anchor="end">2.0×10<tspan font-size="3.8" dy="-2.8" stroke-width="0.05">4</tspan></text>
<text x="374.60" y="128.61" font-size="8.4" fill="#231f20" stroke="#231f20" stroke-width="0.1" font-weight="normal" textLength="125.20" lengthAdjust="spacingAndGlyphs" >Rank in gene list (Bernt_MLL-Af9 targets)</text>
<text transform="translate(366.38,90.40) rotate(-90)" x="0" y="0" font-size="8.6" fill="#231f20" stroke="#231f20" stroke-width="0.1" textLength="53.10" lengthAdjust="spacingAndGlyphs">Enrichment score</text>
<path d="M386.70,82.58 L387.14,75.00 L387.80,65.82 L388.29,61.82 L388.85,58.82 L389.50,56.09 L389.94,54.77 L390.42,53.60 L390.93,52.89 L391.46,52.19 L392.00,51.53 L392.47,50.88 L392.96,50.60 L393.47,50.27 L393.98,50.14 L394.49,50.02 L395.00,49.78 L395.50,49.42 L396.00,49.23 L396.50,49.04 L397.00,48.86 L397.50,48.78 L398.00,48.89 L398.49,48.76 L398.96,48.73 L399.44,48.89 L399.93,48.73 L400.44,48.76 L401.00,48.69 L401.38,48.66 L401.67,48.81 L401.94,48.78 L402.25,48.99 L402.65,49.30 L403.20,49.37 L403.97,49.46 L405.00,50.16 L405.33,50.25 L405.67,50.37 L406.03,50.59 L406.41,50.69 L406.81,50.87 L407.22,50.87 L407.64,51.30 L408.08,51.48 L408.53,51.35 L409.00,51.79 L409.48,51.98 L409.97,52.09 L410.47,52.34 L410.98,52.54 L411.50,52.94 L412.03,53.01 L412.57,53.37 L413.11,53.42 L413.66,53.88 L414.22,54.13 L414.79,54.20 L415.35,54.49 L415.93,54.88 L416.50,55.06 L417.08,55.22 L417.66,55.37 L418.25,55.66 L418.83,56.07 L419.42,56.11 L420.00,56.66 L420.44,56.60 L420.89,57.05 L421.34,57.01 L421.80,57.47 L422.26,57.57 L422.73,57.70 L423.20,57.91 L423.68,58.17 L424.16,58.36 L424.65,58.47 L425.14,58.64 L425.63,58.98 L426.13,59.37 L426.63,59.46 L427.13,59.47 L427.64,59.99 L428.15,60.17 L428.66,60.47 L429.17,60.41 L429.69,60.86 L430.20,60.81 L430.72,61.28 L431.24,61.36 L431.76,61.57 L432.28,62.06 L432.80,61.98 L433.32,62.37 L433.84,62.74 L434.36,62.72 L434.88,62.94 L435.40,63.43 L435.92,63.48 L436.44,63.82 L436.95,63.78 L437.47,64.13 L437.98,64.28 L438.49,64.71 L438.99,64.69 L439.50,65.26 L440.00,65.11 L440.50,65.61 L441.01,65.55 L441.53,65.87 L442.05,66.32 L442.57,66.28 L443.10,66.52 L443.63,66.95 L444.16,67.06 L444.70,67.16 L445.23,67.77 L445.77,67.67 L446.31,67.85 L446.86,68.21 L447.40,68.55 L447.94,68.84 L448.48,68.82 L449.02,69.14 L449.56,69.25 L450.09,69.65 L450.62,70.01 L451.15,70.22 L451.68,70.52 L452.20,70.68 L452.72,70.95 L453.23,71.11 L453.74,71.24 L454.24,71.36 L454.74,71.74 L455.22,71.82 L455.70,71.94 L456.18,72.29 L456.64,72.66 L457.10,72.56 L457.54,72.94 L457.98,73.06 L458.41,73.29 L458.82,73.33 L459.23,73.84 L459.62,73.73 L460.00,74.04 L460.73,74.30 L461.42,74.45 L462.07,74.97 L462.68,75.09 L463.26,75.33 L463.81,75.58 L464.34,75.89 L464.84,76.11 L465.32,76.56 L465.78,76.73 L466.23,77.15 L466.66,77.34 L467.08,77.58 L467.50,77.48 L467.91,77.77 L468.32,77.89 L468.73,78.23 L469.15,78.44 L469.57,78.72 L470.00,78.88 L470.59,78.98 L471.18,79.32 L471.78,79.63 L472.37,79.70 L472.96,79.98 L473.54,80.39 L474.10,80.52 L474.64,81.01 L475.16,81.05 L475.65,81.21 L476.10,81.45 L476.52,81.65 L476.89,81.81 L477.22,82.08 L477.50,82.20" fill="none" stroke="#79c05a" stroke-width="0.9" stroke-linejoin="round"/>
<path d="M386.70,75.40 L387.12,74.44 L387.74,72.80 L388.50,71.04 L388.93,70.00 L389.41,68.59 L389.93,67.31 L390.46,66.38 L390.99,64.95 L391.50,63.89 L392.00,63.27 L392.50,62.21 L393.00,61.57 L393.50,60.71 L394.00,60.13 L394.50,59.36 L395.00,59.06 L395.50,58.73 L396.00,58.24 L396.50,58.04 L397.00,57.77 L397.50,57.33 L397.99,57.45 L398.48,57.30 L398.97,57.14 L399.46,57.03 L399.97,57.40 L400.50,57.29 L400.86,57.40 L401.10,57.44 L401.31,57.36 L401.60,57.48 L402.07,57.40 L402.84,57.85 L404.00,58.18 L404.31,58.50 L404.63,58.61 L404.97,58.44 L405.32,58.60 L405.67,58.77 L406.05,59.22 L406.43,59.17 L406.83,59.41 L407.23,59.44 L407.65,59.70 L408.09,59.83 L408.53,60.00 L408.99,60.28 L409.46,60.48 L409.94,60.81 L410.43,60.94 L410.94,61.25 L411.45,61.45 L411.99,61.74 L412.53,61.86 L413.08,61.91 L413.65,62.45 L414.23,62.77 L414.82,63.03 L415.43,63.18 L416.04,63.54 L416.67,63.66 L417.31,64.23 L417.97,64.46 L418.63,64.69 L419.31,64.96 L420.00,65.64 L420.40,65.91 L420.81,65.78 L421.23,66.29 L421.66,66.38 L422.11,66.53 L422.56,66.84 L423.03,67.30 L423.51,67.61 L423.99,67.56 L424.48,68.07 L424.99,68.14 L425.50,68.70 L426.01,68.85 L426.54,69.38 L427.07,69.73 L427.60,69.86 L428.14,70.38 L428.69,70.43 L429.24,70.66 L429.79,71.20 L430.35,71.31 L430.91,71.71 L431.47,72.13 L432.04,72.55 L432.60,72.71 L433.17,73.00 L433.74,73.67 L434.30,73.79 L434.87,74.39 L435.44,74.71 L436.00,74.84 L436.56,75.21 L437.12,75.57 L437.68,75.95 L438.24,76.26 L438.79,76.58 L439.33,76.93 L439.87,77.38 L440.41,77.53 L440.94,77.81 L441.46,78.23 L441.98,78.35 L442.49,78.67 L442.99,79.24 L443.49,79.34 L443.97,79.63 L444.45,79.70 L444.91,80.12 L445.37,80.45 L445.82,80.48 L446.25,80.96 L446.67,81.21 L447.09,81.21 L447.48,81.65 L447.87,81.80 L448.24,82.08 L448.60,82.14 L449.48,82.74 L450.30,83.16 L451.06,83.24 L451.77,83.58 L452.43,84.12 L453.04,84.50 L453.62,84.44 L454.15,84.73 L454.66,84.96 L455.14,85.01 L455.59,85.17 L456.02,85.28 L456.43,85.42 L456.83,85.61 L457.22,85.60 L457.60,85.73 L457.98,85.99 L458.37,85.79 L458.76,86.12 L459.16,86.31 L459.57,86.27 L460.00,86.39 L460.60,86.84 L461.20,86.83 L461.78,87.02 L462.36,87.32 L462.92,87.63 L463.47,87.58 L464.00,87.86 L464.52,88.05 L465.03,88.42 L465.52,88.42 L465.98,88.74 L466.43,88.61 L466.86,88.81 L467.26,89.06 L467.64,89.26 L468.00,89.18 L468.79,89.30 L469.37,89.42 L469.81,89.67 L470.19,89.53 L470.56,89.66 L471.00,89.44 L471.49,88.76 L471.98,88.22 L472.47,87.74 L472.96,86.93 L473.47,86.27 L474.00,85.44 L474.50,84.83 L475.07,84.34 L475.65,84.00 L476.22,83.27 L476.74,82.83 L477.18,82.46 L477.50,82.20" fill="none" stroke="#d0283c" stroke-width="0.9" stroke-linejoin="round"/>
<path d="M386.70,82.25 L387.06,73.09 L387.60,62.11 L388.23,54.96 L389.00,50.00 L389.45,48.10 L389.93,46.76 L390.45,45.70 L391.00,44.44 L391.47,43.72 L391.96,43.49 L392.48,42.88 L392.99,42.64 L393.50,42.00 L393.99,41.89 L394.48,41.78 L394.96,41.42 L395.47,41.58 L396.00,41.46 L396.47,41.04 L396.96,40.99 L397.47,41.17 L397.98,41.33 L398.49,41.12 L399.00,41.09 L399.44,41.19 L399.81,41.03 L400.19,41.12 L400.63,41.28 L401.21,41.48 L402.00,41.69 L402.34,41.84 L402.68,42.00 L403.02,42.25 L403.37,42.36 L403.73,42.43 L404.11,42.96 L404.51,43.06 L404.94,43.32 L405.40,43.39 L405.90,43.98 L406.45,44.22 L407.04,44.25 L407.69,44.69 L408.39,45.22 L409.16,45.63 L410.00,46.17 L410.36,46.16 L410.73,46.52 L411.11,46.67 L411.51,46.73 L411.93,47.07 L412.35,47.42 L412.79,47.64 L413.23,47.74 L413.69,48.02 L414.16,48.05 L414.63,48.39 L415.12,48.88 L415.61,48.99 L416.11,49.17 L416.62,49.59 L417.14,49.93 L417.66,50.20 L418.18,50.37 L418.71,50.68 L419.25,51.00 L419.79,51.40 L420.33,51.59 L420.88,51.83 L421.42,52.17 L421.97,52.28 L422.52,52.58 L423.07,53.14 L423.62,53.55 L424.17,53.69 L424.72,53.91 L425.26,54.12 L425.81,54.54 L426.35,55.03 L426.89,55.23 L427.42,55.43 L427.95,55.84 L428.47,55.87 L428.99,56.26 L429.50,56.71 L430.00,56.83 L430.50,57.05 L431.00,57.24 L431.50,57.62 L432.00,58.06 L432.50,57.94 L433.00,58.52 L433.50,58.81 L434.00,59.10 L434.50,59.31 L435.00,59.61 L435.50,59.76 L436.00,60.04 L436.50,60.26 L437.00,60.37 L437.50,60.97 L438.00,61.12 L438.50,61.23 L439.00,61.62 L439.50,61.88 L440.00,62.10 L440.50,62.36 L441.00,62.71 L441.50,63.01 L442.00,63.27 L442.50,63.48 L443.00,63.57 L443.50,63.92 L444.00,64.16 L444.50,64.59 L445.00,64.97 L445.50,65.21 L446.00,65.48 L446.50,65.76 L447.00,65.80 L447.50,66.30 L448.00,66.50 L448.50,66.53 L449.00,66.77 L449.50,67.04 L450.00,67.60 L450.50,67.67 L451.01,67.89 L451.53,68.37 L452.06,68.54 L452.59,68.71 L453.12,69.03 L453.66,69.47 L454.20,69.61 L454.75,69.95 L455.29,70.42 L455.84,70.61 L456.39,70.85 L456.95,71.21 L457.50,71.32 L458.05,71.76 L458.60,72.07 L459.15,72.27 L459.70,72.53 L460.24,73.14 L460.78,73.27 L461.32,73.44 L461.85,73.88 L462.38,74.25 L462.90,74.21 L463.42,74.49 L463.92,74.81 L464.43,75.31 L464.92,75.35 L465.40,75.82 L465.88,76.07 L466.34,76.26 L466.80,76.38 L467.24,76.92 L467.68,77.08 L468.10,77.19 L468.51,77.29 L468.90,77.67 L469.28,77.77 L469.65,78.04 L470.00,78.13 L470.88,78.72 L471.68,78.92 L472.42,79.41 L473.09,80.04 L473.70,80.33 L474.26,80.40 L474.77,80.89 L475.22,80.91 L475.64,81.39 L476.02,81.51 L476.36,81.56 L476.68,81.66 L476.97,81.72 L477.24,82.21 L477.50,82.20" fill="none" stroke="#4a6fb5" stroke-width="0.9" stroke-linejoin="round"/>
<text x="414.00" y="145.73" font-size="6.8" fill="#231f20" stroke="#231f20" stroke-width="0.1" font-weight="normal" textLength="46.90" lengthAdjust="spacingAndGlyphs" >GSEA: EPZ5676</text>
<line x1="414.00" y1="147.50" x2="460.90" y2="147.50" stroke="#231f20" stroke-width="0.5" />
<line x1="441.80" y1="152.60" x2="447.40" y2="152.60" stroke="#4a6fb5" stroke-width="0.7" />
<text x="450.40" y="154.60" font-size="5.6" fill="#231f20" stroke="#231f20" stroke-width="0.04" font-weight="normal" textLength="56.10" lengthAdjust="spacingAndGlyphs" >d9 (NES 2.06; FDR 0.0)</text>
<line x1="441.80" y1="160.80" x2="447.40" y2="160.80" stroke="#79c05a" stroke-width="0.7" />
<text x="450.40" y="162.80" font-size="5.6" fill="#231f20" stroke="#231f20" stroke-width="0.04" font-weight="normal" textLength="62.40" lengthAdjust="spacingAndGlyphs" >d6 (NES 1.21; FDR 0.055)</text>
<line x1="441.80" y1="169.30" x2="447.40" y2="169.30" stroke="#d0283c" stroke-width="0.7" />
<text x="450.40" y="171.30" font-size="5.6" fill="#231f20" stroke="#231f20" stroke-width="0.04" font-weight="normal" textLength="62.40" lengthAdjust="spacingAndGlyphs" >d3 (NES 1.27; FDR 0.024)</text>
<line x1="386.70" y1="150.70" x2="386.70" y2="203.90" stroke="#000" stroke-width="1.1" />
<line x1="384.20" y1="152.70" x2="386.70" y2="152.70" stroke="#000" stroke-width="1" />
<text x="381.10" y="155.06" font-size="6.6" fill="#231f20" stroke="#231f20" stroke-width="0.1" text-anchor="end" textLength="10.0" lengthAdjust="spacingAndGlyphs">0.8</text>
<line x1="384.20" y1="162.40" x2="386.70" y2="162.40" stroke="#000" stroke-width="1" />
<text x="381.10" y="164.76" font-size="6.6" fill="#231f20" stroke="#231f20" stroke-width="0.1" text-anchor="end" textLength="10.0" lengthAdjust="spacingAndGlyphs">0.6</text>
<line x1="384.20" y1="172.00" x2="386.70" y2="172.00" stroke="#000" stroke-width="1" />
<text x="381.10" y="174.36" font-size="6.6" fill="#231f20" stroke="#231f20" stroke-width="0.1" text-anchor="end" textLength="10.0" lengthAdjust="spacingAndGlyphs">0.4</text>
<line x1="384.20" y1="181.50" x2="386.70" y2="181.50" stroke="#000" stroke-width="1" />
<text x="381.10" y="183.86" font-size="6.6" fill="#231f20" stroke="#231f20" stroke-width="0.1" text-anchor="end" textLength="10.0" lengthAdjust="spacingAndGlyphs">0.2</text>
<line x1="384.20" y1="191.00" x2="386.70" y2="191.00" stroke="#000" stroke-width="1" />
<text x="381.10" y="193.36" font-size="6.6" fill="#231f20" stroke="#231f20" stroke-width="0.1" text-anchor="end" textLength="10.0" lengthAdjust="spacingAndGlyphs">0.0</text>
<line x1="384.20" y1="200.50" x2="386.70" y2="200.50" stroke="#000" stroke-width="1" />
<text x="381.10" y="202.86" font-size="6.6" fill="#231f20" stroke="#231f20" stroke-width="0.1" text-anchor="end" textLength="10.6" lengthAdjust="spacingAndGlyphs">-0.2</text>
<line x1="386.70" y1="191.00" x2="488.50" y2="191.00" stroke="#000" stroke-width="0.9" stroke-dasharray="1.1,1.1"/>
<line x1="386.70" y1="203.40" x2="488.50" y2="203.40" stroke="#000" stroke-width="1.1" />
<line x1="386.70" y1="203.40" x2="386.70" y2="206.20" stroke="#000" stroke-width="1" />
<text transform="translate(389.10,212.60) rotate(-45)" x="0" y="0" font-size="7.0" fill="#231f20" stroke="#231f20" stroke-width="0.1" text-anchor="end">0.0</text>
<line x1="411.37" y1="203.40" x2="411.37" y2="206.20" stroke="#000" stroke-width="1" />
<text transform="translate(413.77,212.60) rotate(-45)" x="0" y="0" font-size="7.0" fill="#231f20" stroke="#231f20" stroke-width="0.1" text-anchor="end">5.0×10<tspan font-size="3.8" dy="-2.8" stroke-width="0.05">3</tspan></text>
<line x1="436.04" y1="203.40" x2="436.04" y2="206.20" stroke="#000" stroke-width="1" />
<text transform="translate(438.44,212.60) rotate(-45)" x="0" y="0" font-size="7.0" fill="#231f20" stroke="#231f20" stroke-width="0.1" text-anchor="end">1.0×10<tspan font-size="3.8" dy="-2.8" stroke-width="0.05">4</tspan></text>
<line x1="460.71" y1="203.40" x2="460.71" y2="206.20" stroke="#000" stroke-width="1" />
<text transform="translate(463.11,212.60) rotate(-45)" x="0" y="0" font-size="7.0" fill="#231f20" stroke="#231f20" stroke-width="0.1" text-anchor="end">1.5×10<tspan font-size="3.8" dy="-2.8" stroke-width="0.05">4</tspan></text>
<line x1="485.38" y1="203.40" x2="485.38" y2="206.20" stroke="#000" stroke-width="1" />
<text transform="translate(487.78,212.60) rotate(-45)" x="0" y="0" font-size="7.0" fill="#231f20" stroke="#231f20" stroke-width="0.1" text-anchor="end">2.0×10<tspan font-size="3.8" dy="-2.8" stroke-width="0.05">4</tspan></text>
<text x="374.60" y="240.61" font-size="8.4" fill="#231f20" stroke="#231f20" stroke-width="0.1" font-weight="normal" textLength="125.20" lengthAdjust="spacingAndGlyphs" >Rank in gene list (Bernt_MLL-Af9 targets)</text>
<text transform="translate(363.76,198.60) rotate(-90)" x="0" y="0" font-size="8.0" fill="#231f20" stroke="#231f20" stroke-width="0.1" textLength="48.60" lengthAdjust="spacingAndGlyphs">Enrichment score</text>
<path d="M386.70,188.05 L387.16,184.48 L388.00,180.12 L388.39,178.99 L388.84,177.73 L389.33,176.67 L389.86,175.27 L390.42,174.53 L391.00,173.98 L391.46,173.42 L391.95,173.18 L392.47,172.60 L393.00,172.55 L393.53,172.32 L394.05,172.34 L394.54,172.28 L395.00,172.01 L395.57,172.11 L396.11,172.29 L396.62,172.77 L397.11,172.94 L397.57,172.85 L398.00,173.12 L398.52,172.55 L398.94,172.19 L399.38,171.45 L400.00,171.10 L400.32,171.39 L400.58,171.08 L400.83,171.05 L401.12,171.38 L401.53,171.43 L402.11,171.38 L402.91,171.95 L404.00,172.22 L404.32,172.40 L404.66,172.36 L405.02,172.80 L405.39,172.86 L405.78,173.14 L406.19,173.28 L406.61,173.23 L407.04,173.44 L407.49,173.56 L407.95,173.76 L408.42,173.94 L408.90,174.25 L409.40,174.59 L409.90,174.58 L410.41,175.08 L410.94,175.19 L411.47,175.42 L412.01,175.87 L412.55,175.98 L413.11,176.17 L413.66,176.50 L414.23,176.85 L414.80,176.86 L415.37,177.49 L415.94,177.38 L416.52,177.94 L417.10,178.25 L417.68,178.20 L418.26,178.78 L418.84,178.89 L419.42,179.25 L420.00,179.30 L420.45,179.53 L420.90,179.81 L421.36,180.34 L421.83,180.27 L422.31,180.72 L422.80,181.03 L423.29,181.28 L423.79,181.28 L424.30,181.53 L424.81,181.85 L425.32,182.21 L425.84,182.20 L426.36,182.71 L426.89,182.99 L427.42,183.28 L427.95,183.22 L428.48,183.85 L429.02,183.77 L429.55,184.14 L430.09,184.51 L430.62,184.90 L431.16,184.94 L431.69,185.44 L432.23,185.56 L432.76,185.73 L433.29,186.00 L433.81,186.21 L434.33,186.43 L434.85,186.73 L435.36,187.20 L435.87,187.58 L436.38,187.50 L436.87,187.71 L437.36,188.33 L437.85,188.40 L438.32,188.59 L438.79,188.76 L439.25,189.14 L439.70,189.47 L440.15,189.54 L440.58,189.75 L441.00,189.82 L441.62,190.49 L442.23,190.45 L442.82,190.95 L443.40,191.39 L443.97,191.41 L444.54,191.96 L445.09,192.34 L445.63,192.51 L446.16,192.86 L446.68,192.87 L447.19,193.29 L447.70,193.45 L448.20,194.00 L448.69,194.06 L449.17,194.39 L449.65,194.87 L450.12,195.07 L450.58,195.37 L451.04,195.41 L451.50,195.67 L451.95,196.01 L452.39,196.15 L452.83,196.31 L453.27,196.58 L453.71,196.71 L454.14,197.02 L454.57,197.48 L455.00,197.68 L455.59,197.84 L456.18,198.08 L456.75,198.30 L457.30,198.49 L457.85,198.83 L458.39,199.30 L458.92,199.60 L459.43,199.65 L459.94,200.06 L460.44,200.29 L460.93,200.48 L461.41,200.68 L461.88,200.92 L462.35,200.95 L462.80,201.25 L463.26,201.24 L463.70,201.47 L464.14,201.71 L464.57,201.78 L465.00,201.72 L465.60,202.08 L466.17,202.02 L466.73,202.02 L467.28,201.79 L467.80,201.97 L468.31,201.79 L468.81,201.87 L469.30,201.69 L469.77,201.71 L470.23,201.50 L470.69,201.41 L471.13,201.08 L471.57,201.03 L472.00,200.90 L472.59,200.67 L473.15,200.19 L473.69,200.07 L474.22,199.74 L474.72,199.29 L475.20,199.00 L475.67,198.57 L476.13,197.95 L476.57,197.49 L477.00,196.87 L477.61,196.34 L478.21,195.45 L478.79,194.26 L479.32,193.34 L479.80,192.43 L480.20,191.65 L480.50,191.00" fill="none" stroke="#79c05a" stroke-width="0.9" stroke-linejoin="round"/>
<path d="M386.70,188.15 L387.16,184.55 L388.00,179.99 L388.39,178.69 L388.84,177.38 L389.33,176.58 L389.86,175.44 L390.42,174.68 L391.00,173.74 L391.46,173.50 L391.95,172.91 L392.47,172.91 L393.00,172.68 L393.53,172.38 L394.05,172.34 L394.54,172.34 L395.00,172.05 L395.57,172.25 L396.11,172.53 L396.62,172.49 L397.11,172.98 L397.57,173.08 L398.00,173.17 L398.52,172.60 L398.94,171.92 L399.38,171.73 L400.00,171.45 L400.32,171.24 L400.58,171.03 L400.83,171.09 L401.12,171.36 L401.53,171.32 L402.11,171.88 L402.91,172.05 L404.00,172.35 L404.32,172.73 L404.66,172.74 L405.01,173.19 L405.38,173.36 L405.77,173.35 L406.17,173.62 L406.59,173.85 L407.02,174.12 L407.46,174.42 L407.91,174.18 L408.38,174.58 L408.86,174.94 L409.35,175.04 L409.85,175.44 L410.36,175.45 L410.88,176.11 L411.40,176.20 L411.94,176.27 L412.48,176.82 L413.03,176.92 L413.59,177.15 L414.15,177.58 L414.72,177.69 L415.30,178.02 L415.88,178.64 L416.46,178.85 L417.04,178.80 L417.63,179.47 L418.22,179.39 L418.81,179.84 L419.41,180.41 L420.00,180.56 L420.44,180.62 L420.88,180.87 L421.34,181.10 L421.81,181.19 L422.28,181.85 L422.77,181.61 L423.26,182.03 L423.76,182.43 L424.26,182.50 L424.77,183.04 L425.29,182.92 L425.81,183.53 L426.34,183.74 L426.87,183.88 L427.40,184.24 L427.94,184.28 L428.48,184.72 L429.02,184.96 L429.56,185.08 L430.10,185.31 L430.64,185.69 L431.19,185.80 L431.73,185.89 L432.27,186.48 L432.81,186.50 L433.35,186.86 L433.88,187.26 L434.41,187.21 L434.94,187.38 L435.46,187.68 L435.98,188.16 L436.49,188.29 L436.99,188.48 L437.49,188.81 L437.98,189.28 L438.47,189.18 L438.94,189.48 L439.41,189.94 L439.87,190.03 L440.32,190.07 L440.75,190.38 L441.18,190.59 L441.60,190.63 L442.00,190.94 L442.66,191.23 L443.30,191.79 L443.92,191.86 L444.52,192.33 L445.09,192.78 L445.66,193.04 L446.20,193.04 L446.73,193.43 L447.24,193.56 L447.75,193.86 L448.24,194.16 L448.72,194.56 L449.19,194.88 L449.65,194.80 L450.11,194.89 L450.56,195.35 L451.00,195.38 L451.44,195.59 L451.88,196.18 L452.32,196.07 L452.76,196.58 L453.20,196.61 L453.64,197.11 L454.09,197.27 L454.54,197.08 L455.00,197.35 L455.55,197.96 L456.10,198.03 L456.66,198.17 L457.22,198.59 L457.78,198.84 L458.33,198.90 L458.89,199.12 L459.44,199.15 L459.99,199.50 L460.53,199.60 L461.06,200.04 L461.59,200.22 L462.10,200.17 L462.60,200.58 L463.09,200.48 L463.56,200.63 L464.01,201.03 L464.45,201.06 L464.87,201.38 L465.27,201.34 L465.65,201.45 L466.00,201.21 L466.84,201.60 L467.52,201.12 L468.06,201.15 L468.50,200.99 L468.88,200.64 L469.23,200.28 L469.60,199.73 L470.00,199.60 L470.55,199.37 L471.06,198.77 L471.53,198.92 L472.00,198.65 L472.48,198.19 L473.00,198.14 L473.47,197.85 L473.95,197.71 L474.44,197.91 L474.94,197.53 L475.45,197.79 L475.97,197.64 L476.50,196.89 L477.00,196.67 L477.56,195.50 L478.14,195.03 L478.72,193.83 L479.27,193.26 L479.77,192.16 L480.19,191.71 L480.50,191.00" fill="none" stroke="#d0283c" stroke-width="0.9" stroke-linejoin="round"/>
<path d="M386.70,190.92 L387.22,181.94 L388.00,171.97 L388.43,168.84 L388.89,166.46 L389.41,164.67 L390.00,163.13 L390.43,162.06 L390.89,161.18 L391.38,160.27 L391.89,159.71 L392.43,159.03 L393.00,158.40 L393.45,157.94 L393.93,157.55 L394.43,157.36 L394.94,156.96 L395.46,156.62 L395.98,156.33 L396.49,155.90 L397.00,155.74 L397.47,155.69 L397.88,155.61 L398.28,155.58 L398.69,155.56 L399.13,155.35 L399.65,155.59 L400.26,155.75 L401.00,155.90 L401.37,155.92 L401.78,156.14 L402.20,156.17 L402.64,156.59 L403.11,156.75 L403.59,156.84 L404.09,156.97 L404.60,157.36 L405.12,157.48 L405.66,157.80 L406.20,158.02 L406.74,158.15 L407.29,158.37 L407.84,158.66 L408.38,158.86 L408.93,159.02 L409.47,159.30 L410.00,159.69 L410.47,159.67 L410.91,159.88 L411.35,160.26 L411.78,160.35 L412.20,160.63 L412.61,160.81 L413.03,160.98 L413.45,161.38 L413.88,161.35 L414.31,161.63 L414.76,161.79 L415.23,162.15 L415.72,162.28 L416.23,162.56 L416.77,162.94 L417.34,163.09 L417.95,163.45 L418.59,163.86 L419.27,163.94 L420.00,164.27 L420.38,164.50 L420.77,164.84 L421.18,164.98 L421.60,165.06 L422.02,165.29 L422.46,165.45 L422.90,165.74 L423.36,165.82 L423.82,166.24 L424.30,166.51 L424.78,166.75 L425.26,166.91 L425.76,167.21 L426.26,167.16 L426.77,167.47 L427.28,167.91 L427.80,168.09 L428.32,168.22 L428.85,168.63 L429.38,168.77 L429.91,169.08 L430.44,169.17 L430.98,169.38 L431.52,169.71 L432.06,169.86 L432.60,170.18 L433.14,170.61 L433.69,170.67 L434.23,170.82 L434.77,171.07 L435.30,171.36 L435.84,171.79 L436.37,171.91 L436.90,172.13 L437.43,172.31 L437.96,172.81 L438.47,172.88 L438.99,173.05 L439.50,173.24 L440.00,173.47 L440.50,173.73 L441.00,174.11 L441.50,174.18 L442.01,174.37 L442.51,174.74 L443.01,174.89 L443.52,175.34 L444.02,175.31 L444.53,175.66 L445.04,175.96 L445.54,176.08 L446.05,176.48 L446.55,176.55 L447.06,176.71 L447.57,176.99 L448.07,177.10 L448.58,177.45 L449.08,177.62 L449.59,178.04 L450.09,178.25 L450.60,178.38 L451.10,178.46 L451.61,178.75 L452.11,178.98 L452.61,179.19 L453.11,179.42 L453.61,179.84 L454.11,179.84 L454.61,180.04 L455.11,180.53 L455.60,180.64 L456.10,180.99 L456.59,181.03 L457.08,181.40 L457.57,181.55 L458.06,181.81 L458.55,182.02 L459.03,182.16 L459.52,182.26 L460.00,182.51 L460.53,182.95 L461.06,183.20 L461.61,183.45 L462.16,183.53 L462.72,183.88 L463.29,184.18 L463.86,184.39 L464.44,184.70 L465.02,184.88 L465.60,185.18 L466.18,185.46 L466.77,185.60 L467.35,186.06 L467.93,186.33 L468.51,186.33 L469.09,186.86 L469.66,187.12 L470.22,187.29 L470.78,187.35 L471.33,187.86 L471.87,187.87 L472.40,188.37 L472.92,188.51 L473.43,188.56 L473.92,188.82 L474.40,189.18 L474.87,189.37 L475.32,189.63 L475.76,189.88 L476.17,189.86 L476.57,189.97 L476.95,190.42 L477.30,190.31 L477.64,190.72 L477.95,190.63 L478.24,190.97 L478.50,191.00" fill="none" stroke="#4a6fb5" stroke-width="0.9" stroke-linejoin="round"/>
<text x="62.30" y="153.23" font-size="6.8" fill="#231f20" stroke="#231f20" stroke-width="0.1" font-weight="normal" textLength="38.50" lengthAdjust="spacingAndGlyphs" >3d treatment</text>
<line x1="80.04" y1="161.00" x2="80.04" y2="203.00" stroke="#d4d4d4" stroke-width="1.0" />
<line x1="53.30" y1="181.80" x2="107.80" y2="181.80" stroke="#d4d4d4" stroke-width="1.0" />
<line x1="51.80" y1="158.30" x2="51.80" y2="203.50" stroke="#000" stroke-width="1.1" />
<line x1="49.30" y1="160.40" x2="51.80" y2="160.40" stroke="#000" stroke-width="1" />
<text x="44.30" y="162.76" font-size="6.6" fill="#231f20" stroke="#231f20" stroke-width="0.1" font-weight="normal" text-anchor="middle">4</text>
<line x1="49.30" y1="171.05" x2="51.80" y2="171.05" stroke="#000" stroke-width="1" />
<text x="44.30" y="173.41" font-size="6.6" fill="#231f20" stroke="#231f20" stroke-width="0.1" font-weight="normal" text-anchor="middle">2</text>
<line x1="49.30" y1="181.70" x2="51.80" y2="181.70" stroke="#000" stroke-width="1" />
<text x="44.30" y="184.06" font-size="6.6" fill="#231f20" stroke="#231f20" stroke-width="0.1" font-weight="normal" text-anchor="middle">0</text>
<line x1="49.30" y1="192.35" x2="51.80" y2="192.35" stroke="#000" stroke-width="1" />
<text x="44.30" y="194.71" font-size="6.6" fill="#231f20" stroke="#231f20" stroke-width="0.1" font-weight="normal" text-anchor="middle">-2</text>
<line x1="49.30" y1="203.00" x2="51.80" y2="203.00" stroke="#000" stroke-width="1" />
<text x="44.30" y="205.36" font-size="6.6" fill="#231f20" stroke="#231f20" stroke-width="0.1" font-weight="normal" text-anchor="middle">-4</text>
<line x1="51.80" y1="203.00" x2="110.08" y2="203.00" stroke="#000" stroke-width="1.1" />
<line x1="52.20" y1="203.00" x2="52.20" y2="205.50" stroke="#000" stroke-width="1" />
<text x="51.40" y="215.16" font-size="6.6" fill="#231f20" stroke="#231f20" stroke-width="0.1" font-weight="normal" text-anchor="middle">-3</text>
<line x1="61.48" y1="203.00" x2="61.48" y2="205.50" stroke="#000" stroke-width="1" />
<text x="60.68" y="215.16" font-size="6.6" fill="#231f20" stroke="#231f20" stroke-width="0.1" font-weight="normal" text-anchor="middle">-2</text>
<line x1="70.76" y1="203.00" x2="70.76" y2="205.50" stroke="#000" stroke-width="1" />
<text x="69.96" y="215.16" font-size="6.6" fill="#231f20" stroke="#231f20" stroke-width="0.1" font-weight="normal" text-anchor="middle">-1</text>
<line x1="80.04" y1="203.00" x2="80.04" y2="205.50" stroke="#000" stroke-width="1" />
<text x="80.04" y="215.16" font-size="6.6" fill="#231f20" stroke="#231f20" stroke-width="0.1" font-weight="normal" text-anchor="middle">0</text>
<line x1="89.32" y1="203.00" x2="89.32" y2="205.50" stroke="#000" stroke-width="1" />
<text x="89.32" y="215.16" font-size="6.6" fill="#231f20" stroke="#231f20" stroke-width="0.1" font-weight="normal" text-anchor="middle">1</text>
<line x1="98.60" y1="203.00" x2="98.60" y2="205.50" stroke="#000" stroke-width="1" />
<text x="98.60" y="215.16" font-size="6.6" fill="#231f20" stroke="#231f20" stroke-width="0.1" font-weight="normal" text-anchor="middle">2</text>
<line x1="107.88" y1="203.00" x2="107.88" y2="205.50" stroke="#000" stroke-width="1" />
<text x="107.88" y="215.16" font-size="6.6" fill="#231f20" stroke="#231f20" stroke-width="0.1" font-weight="normal" text-anchor="middle">3</text>
<text x="66.00" y="226.95" font-size="8.8" fill="#231f20" stroke="#231f20" stroke-width="0.1" font-weight="normal" textLength="34.20" lengthAdjust="spacingAndGlyphs" >Compound</text>
<text x="65.10" y="236.95" font-size="8.8" fill="#231f20" stroke="#231f20" stroke-width="0.1" font-weight="normal" textLength="35.70" lengthAdjust="spacingAndGlyphs" >10_log2 FC</text>
<text transform="translate(36.48,207.50) rotate(-90)" x="0" y="0" font-size="8.6" fill="#231f20" stroke="#231f20" stroke-width="0.1" textLength="55.00" lengthAdjust="spacingAndGlyphs">EPZ5676_log2 FC</text>
<text x="54.20" y="200.52" font-size="4.8" fill="#231f20" textLength="18.70" lengthAdjust="spacingAndGlyphs">r<tspan font-size="3.2" dy="-1.6">2</tspan><tspan dy="1.6">=</tspan>0.986</text>
<text x="84.40" y="200.52" font-size="4.8" fill="#231f20" stroke="#231f20" stroke-width="0.04" font-weight="normal" textLength="21.20" lengthAdjust="spacingAndGlyphs" >p&lt;0.0001</text>
<line x1="62.70" y1="191.50" x2="103.30" y2="166.20" stroke="#222" stroke-width="0.6" />
<circle cx="63.00" cy="190.50" r="1.2" fill="#e8121a" stroke="#6a0606" stroke-width="0.4"/>
<circle cx="66.50" cy="189.50" r="1.2" fill="#e8121a" stroke="#6a0606" stroke-width="0.4"/>
<circle cx="68.00" cy="188.50" r="1.2" fill="#e8121a" stroke="#6a0606" stroke-width="0.4"/>
<circle cx="69.50" cy="187.50" r="1.2" fill="#e8121a" stroke="#6a0606" stroke-width="0.4"/>
<circle cx="70.50" cy="187.80" r="1.2" fill="#e8121a" stroke="#6a0606" stroke-width="0.4"/>
<circle cx="72.50" cy="186.50" r="1.2" fill="#e8121a" stroke="#6a0606" stroke-width="0.4"/>
<circle cx="75.00" cy="185.80" r="1.2" fill="#e8121a" stroke="#6a0606" stroke-width="0.4"/>
<circle cx="85.00" cy="178.80" r="1.2" fill="#e8121a" stroke="#6a0606" stroke-width="0.4"/>
<circle cx="86.50" cy="177.80" r="1.2" fill="#e8121a" stroke="#6a0606" stroke-width="0.4"/>
<circle cx="88.50" cy="176.80" r="1.2" fill="#e8121a" stroke="#6a0606" stroke-width="0.4"/>
<circle cx="88.00" cy="177.00" r="1.2" fill="#e8121a" stroke="#6a0606" stroke-width="0.4"/>
<circle cx="91.50" cy="175.00" r="1.2" fill="#e8121a" stroke="#6a0606" stroke-width="0.4"/>
<circle cx="95.50" cy="172.50" r="1.2" fill="#e8121a" stroke="#6a0606" stroke-width="0.4"/>
<circle cx="103.00" cy="165.50" r="1.2" fill="#e8121a" stroke="#6a0606" stroke-width="0.4"/>
<text x="167.70" y="153.23" font-size="6.8" fill="#231f20" stroke="#231f20" stroke-width="0.1" font-weight="normal" textLength="38.80" lengthAdjust="spacingAndGlyphs" >6d treatment</text>
<line x1="184.11" y1="161.00" x2="184.11" y2="203.00" stroke="#d4d4d4" stroke-width="1.0" />
<line x1="157.70" y1="181.80" x2="212.20" y2="181.80" stroke="#d4d4d4" stroke-width="1.0" />
<line x1="156.20" y1="158.30" x2="156.20" y2="203.50" stroke="#000" stroke-width="1.1" />
<line x1="153.70" y1="161.00" x2="156.20" y2="161.00" stroke="#000" stroke-width="1" />
<text x="148.70" y="163.36" font-size="6.6" fill="#231f20" stroke="#231f20" stroke-width="0.1" font-weight="normal" text-anchor="middle">6</text>
<line x1="153.70" y1="170.75" x2="156.20" y2="170.75" stroke="#000" stroke-width="1" />
<text x="148.70" y="173.11" font-size="6.6" fill="#231f20" stroke="#231f20" stroke-width="0.1" font-weight="normal" text-anchor="middle">3</text>
<line x1="153.70" y1="180.50" x2="156.20" y2="180.50" stroke="#000" stroke-width="1" />
<text x="148.70" y="182.86" font-size="6.6" fill="#231f20" stroke="#231f20" stroke-width="0.1" font-weight="normal" text-anchor="middle">0</text>
<line x1="153.70" y1="190.25" x2="156.20" y2="190.25" stroke="#000" stroke-width="1" />
<text x="148.70" y="192.61" font-size="6.6" fill="#231f20" stroke="#231f20" stroke-width="0.1" font-weight="normal" text-anchor="middle">-3</text>
<line x1="153.70" y1="200.00" x2="156.20" y2="200.00" stroke="#000" stroke-width="1" />
<text x="148.70" y="202.36" font-size="6.6" fill="#231f20" stroke="#231f20" stroke-width="0.1" font-weight="normal" text-anchor="middle">-6</text>
<line x1="156.20" y1="203.00" x2="213.82" y2="203.00" stroke="#000" stroke-width="1.1" />
<line x1="156.60" y1="203.00" x2="156.60" y2="205.50" stroke="#000" stroke-width="1" />
<text x="155.80" y="215.16" font-size="6.6" fill="#231f20" stroke="#231f20" stroke-width="0.1" font-weight="normal" text-anchor="middle">-6</text>
<line x1="165.77" y1="203.00" x2="165.77" y2="205.50" stroke="#000" stroke-width="1" />
<text x="164.97" y="215.16" font-size="6.6" fill="#231f20" stroke="#231f20" stroke-width="0.1" font-weight="normal" text-anchor="middle">-4</text>
<line x1="174.94" y1="203.00" x2="174.94" y2="205.50" stroke="#000" stroke-width="1" />
<text x="174.14" y="215.16" font-size="6.6" fill="#231f20" stroke="#231f20" stroke-width="0.1" font-weight="normal" text-anchor="middle">-2</text>
<line x1="184.11" y1="203.00" x2="184.11" y2="205.50" stroke="#000" stroke-width="1" />
<text x="184.11" y="215.16" font-size="6.6" fill="#231f20" stroke="#231f20" stroke-width="0.1" font-weight="normal" text-anchor="middle">0</text>
<line x1="193.28" y1="203.00" x2="193.28" y2="205.50" stroke="#000" stroke-width="1" />
<text x="193.28" y="215.16" font-size="6.6" fill="#231f20" stroke="#231f20" stroke-width="0.1" font-weight="normal" text-anchor="middle">2</text>
<line x1="202.45" y1="203.00" x2="202.45" y2="205.50" stroke="#000" stroke-width="1" />
<text x="202.45" y="215.16" font-size="6.6" fill="#231f20" stroke="#231f20" stroke-width="0.1" font-weight="normal" text-anchor="middle">4</text>
<line x1="211.62" y1="203.00" x2="211.62" y2="205.50" stroke="#000" stroke-width="1" />
<text x="211.62" y="215.16" font-size="6.6" fill="#231f20" stroke="#231f20" stroke-width="0.1" font-weight="normal" text-anchor="middle">6</text>
<text x="170.40" y="226.95" font-size="8.8" fill="#231f20" stroke="#231f20" stroke-width="0.1" font-weight="normal" textLength="34.20" lengthAdjust="spacingAndGlyphs" >Compound</text>
<text x="169.50" y="236.95" font-size="8.8" fill="#231f20" stroke="#231f20" stroke-width="0.1" font-weight="normal" textLength="35.70" lengthAdjust="spacingAndGlyphs" >10_log2 FC</text>
<text transform="translate(140.78,207.50) rotate(-90)" x="0" y="0" font-size="8.6" fill="#231f20" stroke="#231f20" stroke-width="0.1" textLength="55.00" lengthAdjust="spacingAndGlyphs">EPZ5676_log2 FC</text>
<text x="158.50" y="200.52" font-size="4.8" fill="#231f20" textLength="19.20" lengthAdjust="spacingAndGlyphs">r<tspan font-size="3.2" dy="-1.6">2</tspan><tspan dy="1.6">=</tspan>0.955</text>
<text x="189.20" y="200.52" font-size="4.8" fill="#231f20" stroke="#231f20" stroke-width="0.04" font-weight="normal" textLength="21.20" lengthAdjust="spacingAndGlyphs" >p&lt;0.0001</text>
<line x1="165.00" y1="195.50" x2="208.00" y2="163.00" stroke="#222" stroke-width="0.7" />
<circle cx="176.91" cy="183.93" r="1.3" fill="#e8121a" stroke="#6a0606" stroke-width="0.4"/>
<circle cx="173.75" cy="187.54" r="1.3" fill="#e8121a" stroke="#6a0606" stroke-width="0.4"/>
<circle cx="174.39" cy="186.30" r="1.3" fill="#e8121a" stroke="#6a0606" stroke-width="0.4"/>
<circle cx="178.89" cy="182.62" r="1.3" fill="#e8121a" stroke="#6a0606" stroke-width="0.4"/>
<circle cx="173.88" cy="186.56" r="1.3" fill="#e8121a" stroke="#6a0606" stroke-width="0.4"/>
<circle cx="183.29" cy="182.29" r="1.3" fill="#e8121a" stroke="#6a0606" stroke-width="0.4"/>
<circle cx="172.37" cy="187.22" r="1.3" fill="#e8121a" stroke="#6a0606" stroke-width="0.4"/>
<circle cx="176.75" cy="185.03" r="1.3" fill="#e8121a" stroke="#6a0606" stroke-width="0.4"/>
<circle cx="172.35" cy="188.19" r="1.3" fill="#e8121a" stroke="#6a0606" stroke-width="0.4"/>
<circle cx="172.97" cy="188.84" r="1.3" fill="#e8121a" stroke="#6a0606" stroke-width="0.4"/>
<circle cx="173.51" cy="186.86" r="1.3" fill="#e8121a" stroke="#6a0606" stroke-width="0.4"/>
<circle cx="175.49" cy="185.38" r="1.3" fill="#e8121a" stroke="#6a0606" stroke-width="0.4"/>
<circle cx="180.48" cy="183.14" r="1.3" fill="#e8121a" stroke="#6a0606" stroke-width="0.4"/>
<circle cx="182.17" cy="181.35" r="1.3" fill="#e8121a" stroke="#6a0606" stroke-width="0.4"/>
<circle cx="179.24" cy="182.92" r="1.3" fill="#e8121a" stroke="#6a0606" stroke-width="0.4"/>
<circle cx="170.74" cy="187.53" r="1.3" fill="#e8121a" stroke="#6a0606" stroke-width="0.4"/>
<circle cx="183.21" cy="180.37" r="1.3" fill="#e8121a" stroke="#6a0606" stroke-width="0.4"/>
<circle cx="175.48" cy="184.93" r="1.3" fill="#e8121a" stroke="#6a0606" stroke-width="0.4"/>
<circle cx="173.96" cy="187.20" r="1.3" fill="#e8121a" stroke="#6a0606" stroke-width="0.4"/>
<circle cx="177.45" cy="184.44" r="1.3" fill="#e8121a" stroke="#6a0606" stroke-width="0.4"/>
<circle cx="171.74" cy="188.08" r="1.3" fill="#e8121a" stroke="#6a0606" stroke-width="0.4"/>
<circle cx="178.88" cy="184.22" r="1.3" fill="#e8121a" stroke="#6a0606" stroke-width="0.4"/>
<circle cx="176.37" cy="185.13" r="1.3" fill="#e8121a" stroke="#6a0606" stroke-width="0.4"/>
<circle cx="179.47" cy="184.30" r="1.3" fill="#e8121a" stroke="#6a0606" stroke-width="0.4"/>
<circle cx="173.01" cy="187.63" r="1.3" fill="#e8121a" stroke="#6a0606" stroke-width="0.4"/>
<circle cx="179.87" cy="183.88" r="1.3" fill="#e8121a" stroke="#6a0606" stroke-width="0.4"/>
<circle cx="175.21" cy="186.29" r="1.3" fill="#e8121a" stroke="#6a0606" stroke-width="0.4"/>
<circle cx="183.69" cy="179.25" r="1.3" fill="#e8121a" stroke="#6a0606" stroke-width="0.4"/>
<circle cx="173.74" cy="187.28" r="1.3" fill="#e8121a" stroke="#6a0606" stroke-width="0.4"/>
<circle cx="172.88" cy="186.57" r="1.3" fill="#e8121a" stroke="#6a0606" stroke-width="0.4"/>
<circle cx="173.15" cy="187.83" r="1.3" fill="#e8121a" stroke="#6a0606" stroke-width="0.4"/>
<circle cx="176.18" cy="185.44" r="1.3" fill="#e8121a" stroke="#6a0606" stroke-width="0.4"/>
<circle cx="171.25" cy="186.37" r="1.3" fill="#e8121a" stroke="#6a0606" stroke-width="0.4"/>
<circle cx="183.98" cy="180.37" r="1.3" fill="#e8121a" stroke="#6a0606" stroke-width="0.4"/>
<circle cx="174.71" cy="185.86" r="1.3" fill="#e8121a" stroke="#6a0606" stroke-width="0.4"/>
<circle cx="180.44" cy="183.30" r="1.3" fill="#e8121a" stroke="#6a0606" stroke-width="0.4"/>
<circle cx="177.38" cy="184.08" r="1.3" fill="#e8121a" stroke="#6a0606" stroke-width="0.4"/>
<circle cx="183.13" cy="181.20" r="1.3" fill="#e8121a" stroke="#6a0606" stroke-width="0.4"/>
<circle cx="175.13" cy="186.17" r="1.3" fill="#e8121a" stroke="#6a0606" stroke-width="0.4"/>
<circle cx="183.23" cy="179.95" r="1.3" fill="#e8121a" stroke="#6a0606" stroke-width="0.4"/>
<circle cx="180.96" cy="182.83" r="1.3" fill="#e8121a" stroke="#6a0606" stroke-width="0.4"/>
<circle cx="174.17" cy="185.69" r="1.3" fill="#e8121a" stroke="#6a0606" stroke-width="0.4"/>
<circle cx="173.15" cy="187.51" r="1.3" fill="#e8121a" stroke="#6a0606" stroke-width="0.4"/>
<circle cx="175.59" cy="184.58" r="1.3" fill="#e8121a" stroke="#6a0606" stroke-width="0.4"/>
<circle cx="177.72" cy="182.80" r="1.3" fill="#e8121a" stroke="#6a0606" stroke-width="0.4"/>
<circle cx="169.00" cy="191.00" r="1.3" fill="#e8121a" stroke="#6a0606" stroke-width="0.4"/>
<circle cx="171.50" cy="195.00" r="1.3" fill="#e8121a" stroke="#6a0606" stroke-width="0.4"/>
<circle cx="168.50" cy="190.50" r="1.3" fill="#e8121a" stroke="#6a0606" stroke-width="0.4"/>
<circle cx="196.47" cy="168.97" r="1.3" fill="#e8121a" stroke="#6a0606" stroke-width="0.4"/>
<circle cx="191.73" cy="174.06" r="1.3" fill="#e8121a" stroke="#6a0606" stroke-width="0.4"/>
<circle cx="192.93" cy="172.72" r="1.3" fill="#e8121a" stroke="#6a0606" stroke-width="0.4"/>
<circle cx="194.29" cy="171.28" r="1.3" fill="#e8121a" stroke="#6a0606" stroke-width="0.4"/>
<circle cx="193.29" cy="172.75" r="1.3" fill="#e8121a" stroke="#6a0606" stroke-width="0.4"/>
<circle cx="195.92" cy="170.38" r="1.3" fill="#e8121a" stroke="#6a0606" stroke-width="0.4"/>
<circle cx="195.25" cy="170.58" r="1.3" fill="#e8121a" stroke="#6a0606" stroke-width="0.4"/>
<circle cx="191.04" cy="174.98" r="1.3" fill="#e8121a" stroke="#6a0606" stroke-width="0.4"/>
<circle cx="193.49" cy="170.95" r="1.3" fill="#e8121a" stroke="#6a0606" stroke-width="0.4"/>
<circle cx="186.35" cy="177.04" r="1.3" fill="#e8121a" stroke="#6a0606" stroke-width="0.4"/>
<circle cx="190.74" cy="175.18" r="1.3" fill="#e8121a" stroke="#6a0606" stroke-width="0.4"/>
<circle cx="188.74" cy="175.78" r="1.3" fill="#e8121a" stroke="#6a0606" stroke-width="0.4"/>
<circle cx="187.18" cy="178.08" r="1.3" fill="#e8121a" stroke="#6a0606" stroke-width="0.4"/>
<circle cx="193.23" cy="170.24" r="1.3" fill="#e8121a" stroke="#6a0606" stroke-width="0.4"/>
<circle cx="189.80" cy="176.30" r="1.3" fill="#e8121a" stroke="#6a0606" stroke-width="0.4"/>
<circle cx="191.60" cy="175.08" r="1.3" fill="#e8121a" stroke="#6a0606" stroke-width="0.4"/>
<circle cx="189.97" cy="175.79" r="1.3" fill="#e8121a" stroke="#6a0606" stroke-width="0.4"/>
<circle cx="197.02" cy="169.80" r="1.3" fill="#e8121a" stroke="#6a0606" stroke-width="0.4"/>
<circle cx="189.28" cy="176.65" r="1.3" fill="#e8121a" stroke="#6a0606" stroke-width="0.4"/>
<circle cx="187.38" cy="177.82" r="1.3" fill="#e8121a" stroke="#6a0606" stroke-width="0.4"/>
<circle cx="194.55" cy="172.24" r="1.3" fill="#e8121a" stroke="#6a0606" stroke-width="0.4"/>
<circle cx="192.25" cy="173.13" r="1.3" fill="#e8121a" stroke="#6a0606" stroke-width="0.4"/>
<circle cx="189.76" cy="175.28" r="1.3" fill="#e8121a" stroke="#6a0606" stroke-width="0.4"/>
<circle cx="187.60" cy="175.81" r="1.3" fill="#e8121a" stroke="#6a0606" stroke-width="0.4"/>
<circle cx="189.08" cy="174.66" r="1.3" fill="#e8121a" stroke="#6a0606" stroke-width="0.4"/>
<circle cx="196.99" cy="167.78" r="1.3" fill="#e8121a" stroke="#6a0606" stroke-width="0.4"/>
<circle cx="188.82" cy="175.58" r="1.3" fill="#e8121a" stroke="#6a0606" stroke-width="0.4"/>
<circle cx="191.82" cy="173.61" r="1.3" fill="#e8121a" stroke="#6a0606" stroke-width="0.4"/>
<circle cx="187.62" cy="178.14" r="1.3" fill="#e8121a" stroke="#6a0606" stroke-width="0.4"/>
<circle cx="188.57" cy="177.98" r="1.3" fill="#e8121a" stroke="#6a0606" stroke-width="0.4"/>
<circle cx="188.25" cy="177.25" r="1.3" fill="#e8121a" stroke="#6a0606" stroke-width="0.4"/>
<circle cx="188.84" cy="176.29" r="1.3" fill="#e8121a" stroke="#6a0606" stroke-width="0.4"/>
<circle cx="189.81" cy="176.69" r="1.3" fill="#e8121a" stroke="#6a0606" stroke-width="0.4"/>
<circle cx="194.91" cy="169.25" r="1.3" fill="#e8121a" stroke="#6a0606" stroke-width="0.4"/>
<circle cx="189.86" cy="174.55" r="1.3" fill="#e8121a" stroke="#6a0606" stroke-width="0.4"/>
<circle cx="190.65" cy="174.51" r="1.3" fill="#e8121a" stroke="#6a0606" stroke-width="0.4"/>
<circle cx="189.66" cy="175.26" r="1.3" fill="#e8121a" stroke="#6a0606" stroke-width="0.4"/>
<circle cx="189.52" cy="177.19" r="1.3" fill="#e8121a" stroke="#6a0606" stroke-width="0.4"/>
<circle cx="192.09" cy="175.04" r="1.3" fill="#e8121a" stroke="#6a0606" stroke-width="0.4"/>
<circle cx="195.48" cy="170.18" r="1.3" fill="#e8121a" stroke="#6a0606" stroke-width="0.4"/>
<circle cx="194.70" cy="171.29" r="1.3" fill="#e8121a" stroke="#6a0606" stroke-width="0.4"/>
<circle cx="195.56" cy="170.23" r="1.3" fill="#e8121a" stroke="#6a0606" stroke-width="0.4"/>
<circle cx="196.27" cy="170.43" r="1.3" fill="#e8121a" stroke="#6a0606" stroke-width="0.4"/>
<circle cx="185.54" cy="179.56" r="1.3" fill="#e8121a" stroke="#6a0606" stroke-width="0.4"/>
<circle cx="194.54" cy="171.49" r="1.3" fill="#e8121a" stroke="#6a0606" stroke-width="0.4"/>
<circle cx="188.66" cy="176.93" r="1.3" fill="#e8121a" stroke="#6a0606" stroke-width="0.4"/>
<circle cx="193.36" cy="173.70" r="1.3" fill="#e8121a" stroke="#6a0606" stroke-width="0.4"/>
<circle cx="192.09" cy="172.77" r="1.3" fill="#e8121a" stroke="#6a0606" stroke-width="0.4"/>
<circle cx="192.46" cy="172.60" r="1.3" fill="#e8121a" stroke="#6a0606" stroke-width="0.4"/>
<circle cx="193.28" cy="171.51" r="1.3" fill="#e8121a" stroke="#6a0606" stroke-width="0.4"/>
<circle cx="190.38" cy="174.48" r="1.3" fill="#e8121a" stroke="#6a0606" stroke-width="0.4"/>
<circle cx="195.69" cy="171.34" r="1.3" fill="#e8121a" stroke="#6a0606" stroke-width="0.4"/>
<circle cx="190.37" cy="174.77" r="1.3" fill="#e8121a" stroke="#6a0606" stroke-width="0.4"/>
<circle cx="196.45" cy="168.67" r="1.3" fill="#e8121a" stroke="#6a0606" stroke-width="0.4"/>
<circle cx="189.40" cy="174.10" r="1.3" fill="#e8121a" stroke="#6a0606" stroke-width="0.4"/>
<circle cx="195.84" cy="170.45" r="1.3" fill="#e8121a" stroke="#6a0606" stroke-width="0.4"/>
<circle cx="186.50" cy="178.52" r="1.3" fill="#e8121a" stroke="#6a0606" stroke-width="0.4"/>
<circle cx="185.46" cy="179.41" r="1.3" fill="#e8121a" stroke="#6a0606" stroke-width="0.4"/>
<circle cx="192.46" cy="170.57" r="1.3" fill="#e8121a" stroke="#6a0606" stroke-width="0.4"/>
<circle cx="195.44" cy="168.90" r="1.3" fill="#e8121a" stroke="#6a0606" stroke-width="0.4"/>
<circle cx="186.98" cy="179.42" r="1.3" fill="#e8121a" stroke="#6a0606" stroke-width="0.4"/>
<circle cx="192.20" cy="174.60" r="1.3" fill="#e8121a" stroke="#6a0606" stroke-width="0.4"/>
<circle cx="190.21" cy="174.24" r="1.3" fill="#e8121a" stroke="#6a0606" stroke-width="0.4"/>
<circle cx="188.58" cy="177.68" r="1.3" fill="#e8121a" stroke="#6a0606" stroke-width="0.4"/>
<circle cx="197.00" cy="170.24" r="1.3" fill="#e8121a" stroke="#6a0606" stroke-width="0.4"/>
<circle cx="197.32" cy="168.84" r="1.3" fill="#e8121a" stroke="#6a0606" stroke-width="0.4"/>
<circle cx="196.10" cy="168.48" r="1.3" fill="#e8121a" stroke="#6a0606" stroke-width="0.4"/>
<circle cx="185.98" cy="179.47" r="1.3" fill="#e8121a" stroke="#6a0606" stroke-width="0.4"/>
<circle cx="193.21" cy="172.01" r="1.3" fill="#e8121a" stroke="#6a0606" stroke-width="0.4"/>
<circle cx="190.28" cy="174.71" r="1.3" fill="#e8121a" stroke="#6a0606" stroke-width="0.4"/>
<circle cx="197.61" cy="168.14" r="1.3" fill="#e8121a" stroke="#6a0606" stroke-width="0.4"/>
<circle cx="192.78" cy="171.97" r="1.3" fill="#e8121a" stroke="#6a0606" stroke-width="0.4"/>
<circle cx="188.58" cy="176.22" r="1.3" fill="#e8121a" stroke="#6a0606" stroke-width="0.4"/>
<circle cx="186.16" cy="176.39" r="1.3" fill="#e8121a" stroke="#6a0606" stroke-width="0.4"/>
<circle cx="195.21" cy="171.30" r="1.3" fill="#e8121a" stroke="#6a0606" stroke-width="0.4"/>
<circle cx="185.29" cy="178.29" r="1.3" fill="#e8121a" stroke="#6a0606" stroke-width="0.4"/>
<circle cx="186.91" cy="176.67" r="1.3" fill="#e8121a" stroke="#6a0606" stroke-width="0.4"/>
<circle cx="192.76" cy="172.70" r="1.3" fill="#e8121a" stroke="#6a0606" stroke-width="0.4"/>
<circle cx="189.50" cy="176.24" r="1.3" fill="#e8121a" stroke="#6a0606" stroke-width="0.4"/>
<circle cx="191.49" cy="173.54" r="1.3" fill="#e8121a" stroke="#6a0606" stroke-width="0.4"/>
<circle cx="200.50" cy="167.50" r="1.3" fill="#e8121a" stroke="#6a0606" stroke-width="0.4"/>
<circle cx="203.50" cy="165.50" r="1.3" fill="#e8121a" stroke="#6a0606" stroke-width="0.4"/>
<circle cx="205.30" cy="165.20" r="1.3" fill="#e8121a" stroke="#6a0606" stroke-width="0.4"/>
<circle cx="204.00" cy="164.00" r="1.3" fill="#e8121a" stroke="#6a0606" stroke-width="0.4"/>
<line x1="181.00" y1="182.50" x2="188.00" y2="177.50" stroke="#000" stroke-width="1.2" />
<text x="272.30" y="153.23" font-size="6.8" fill="#231f20" stroke="#231f20" stroke-width="0.1" font-weight="normal" textLength="38.90" lengthAdjust="spacingAndGlyphs" >9d treatment</text>
<line x1="289.00" y1="161.00" x2="289.00" y2="203.00" stroke="#d4d4d4" stroke-width="1.0" />
<line x1="262.30" y1="181.80" x2="316.80" y2="181.80" stroke="#d4d4d4" stroke-width="1.0" />
<line x1="260.80" y1="158.30" x2="260.80" y2="203.50" stroke="#000" stroke-width="1.1" />
<line x1="258.30" y1="160.40" x2="260.80" y2="160.40" stroke="#000" stroke-width="1" />
<text x="253.30" y="162.76" font-size="6.6" fill="#231f20" stroke="#231f20" stroke-width="0.1" font-weight="normal" text-anchor="middle">8</text>
<line x1="258.30" y1="171.05" x2="260.80" y2="171.05" stroke="#000" stroke-width="1" />
<text x="253.30" y="173.41" font-size="6.6" fill="#231f20" stroke="#231f20" stroke-width="0.1" font-weight="normal" text-anchor="middle">4</text>
<line x1="258.30" y1="181.70" x2="260.80" y2="181.70" stroke="#000" stroke-width="1" />
<text x="253.30" y="184.06" font-size="6.6" fill="#231f20" stroke="#231f20" stroke-width="0.1" font-weight="normal" text-anchor="middle">0</text>
<line x1="258.30" y1="192.35" x2="260.80" y2="192.35" stroke="#000" stroke-width="1" />
<text x="253.30" y="194.71" font-size="6.6" fill="#231f20" stroke="#231f20" stroke-width="0.1" font-weight="normal" text-anchor="middle">-4</text>
<line x1="258.30" y1="203.00" x2="260.80" y2="203.00" stroke="#000" stroke-width="1" />
<text x="253.30" y="205.36" font-size="6.6" fill="#231f20" stroke="#231f20" stroke-width="0.1" font-weight="normal" text-anchor="middle">-8</text>
<line x1="260.80" y1="203.00" x2="319.00" y2="203.00" stroke="#000" stroke-width="1.1" />
<line x1="261.20" y1="203.00" x2="261.20" y2="205.50" stroke="#000" stroke-width="1" />
<text x="260.40" y="215.16" font-size="6.6" fill="#231f20" stroke="#231f20" stroke-width="0.1" font-weight="normal" text-anchor="middle">-8</text>
<line x1="275.10" y1="203.00" x2="275.10" y2="205.50" stroke="#000" stroke-width="1" />
<text x="274.30" y="215.16" font-size="6.6" fill="#231f20" stroke="#231f20" stroke-width="0.1" font-weight="normal" text-anchor="middle">-4</text>
<line x1="289.00" y1="203.00" x2="289.00" y2="205.50" stroke="#000" stroke-width="1" />
<text x="289.00" y="215.16" font-size="6.6" fill="#231f20" stroke="#231f20" stroke-width="0.1" font-weight="normal" text-anchor="middle">0</text>
<line x1="302.90" y1="203.00" x2="302.90" y2="205.50" stroke="#000" stroke-width="1" />
<text x="302.90" y="215.16" font-size="6.6" fill="#231f20" stroke="#231f20" stroke-width="0.1" font-weight="normal" text-anchor="middle">4</text>
<line x1="316.80" y1="203.00" x2="316.80" y2="205.50" stroke="#000" stroke-width="1" />
<text x="316.80" y="215.16" font-size="6.6" fill="#231f20" stroke="#231f20" stroke-width="0.1" font-weight="normal" text-anchor="middle">8</text>
<text x="275.00" y="226.95" font-size="8.8" fill="#231f20" stroke="#231f20" stroke-width="0.1" font-weight="normal" textLength="34.20" lengthAdjust="spacingAndGlyphs" >Compound</text>
<text x="274.10" y="236.95" font-size="8.8" fill="#231f20" stroke="#231f20" stroke-width="0.1" font-weight="normal" textLength="35.70" lengthAdjust="spacingAndGlyphs" >10_log2 FC</text>
<text transform="translate(245.08,207.50) rotate(-90)" x="0" y="0" font-size="8.6" fill="#231f20" stroke="#231f20" stroke-width="0.1" textLength="55.00" lengthAdjust="spacingAndGlyphs">EPZ5676_log2 FC</text>
<text x="263.70" y="200.52" font-size="4.8" fill="#231f20" textLength="19.20" lengthAdjust="spacingAndGlyphs">r<tspan font-size="3.2" dy="-1.6">2</tspan><tspan dy="1.6">=</tspan>0.952</text>
<text x="294.40" y="200.52" font-size="4.8" fill="#231f20" stroke="#231f20" stroke-width="0.04" font-weight="normal" textLength="21.20" lengthAdjust="spacingAndGlyphs" >p&lt;0.0001</text>
<line x1="268.00" y1="194.50" x2="313.00" y2="160.50" stroke="#222" stroke-width="0.7" />
<circle cx="280.83" cy="185.07" r="1.3" fill="#e8121a" stroke="#6a0606" stroke-width="0.4"/>
<circle cx="287.91" cy="182.47" r="1.3" fill="#e8121a" stroke="#6a0606" stroke-width="0.4"/>
<circle cx="281.52" cy="186.17" r="1.3" fill="#e8121a" stroke="#6a0606" stroke-width="0.4"/>
<circle cx="280.31" cy="185.70" r="1.3" fill="#e8121a" stroke="#6a0606" stroke-width="0.4"/>
<circle cx="282.49" cy="184.20" r="1.3" fill="#e8121a" stroke="#6a0606" stroke-width="0.4"/>
<circle cx="285.17" cy="184.06" r="1.3" fill="#e8121a" stroke="#6a0606" stroke-width="0.4"/>
<circle cx="279.76" cy="186.78" r="1.3" fill="#e8121a" stroke="#6a0606" stroke-width="0.4"/>
<circle cx="286.20" cy="182.99" r="1.3" fill="#e8121a" stroke="#6a0606" stroke-width="0.4"/>
<circle cx="288.05" cy="181.89" r="1.3" fill="#e8121a" stroke="#6a0606" stroke-width="0.4"/>
<circle cx="287.60" cy="181.29" r="1.3" fill="#e8121a" stroke="#6a0606" stroke-width="0.4"/>
<circle cx="284.93" cy="183.29" r="1.3" fill="#e8121a" stroke="#6a0606" stroke-width="0.4"/>
<circle cx="283.63" cy="184.41" r="1.3" fill="#e8121a" stroke="#6a0606" stroke-width="0.4"/>
<circle cx="285.55" cy="182.98" r="1.3" fill="#e8121a" stroke="#6a0606" stroke-width="0.4"/>
<circle cx="285.61" cy="182.20" r="1.3" fill="#e8121a" stroke="#6a0606" stroke-width="0.4"/>
<circle cx="279.85" cy="185.80" r="1.3" fill="#e8121a" stroke="#6a0606" stroke-width="0.4"/>
<circle cx="281.55" cy="186.08" r="1.3" fill="#e8121a" stroke="#6a0606" stroke-width="0.4"/>
<circle cx="281.81" cy="184.67" r="1.3" fill="#e8121a" stroke="#6a0606" stroke-width="0.4"/>
<circle cx="283.53" cy="185.18" r="1.3" fill="#e8121a" stroke="#6a0606" stroke-width="0.4"/>
<circle cx="281.82" cy="185.59" r="1.3" fill="#e8121a" stroke="#6a0606" stroke-width="0.4"/>
<circle cx="283.11" cy="185.64" r="1.3" fill="#e8121a" stroke="#6a0606" stroke-width="0.4"/>
<circle cx="289.15" cy="181.01" r="1.3" fill="#e8121a" stroke="#6a0606" stroke-width="0.4"/>
<circle cx="288.43" cy="182.17" r="1.3" fill="#e8121a" stroke="#6a0606" stroke-width="0.4"/>
<circle cx="286.35" cy="182.98" r="1.3" fill="#e8121a" stroke="#6a0606" stroke-width="0.4"/>
<circle cx="281.31" cy="184.92" r="1.3" fill="#e8121a" stroke="#6a0606" stroke-width="0.4"/>
<circle cx="287.49" cy="182.24" r="1.3" fill="#e8121a" stroke="#6a0606" stroke-width="0.4"/>
<circle cx="288.23" cy="181.60" r="1.3" fill="#e8121a" stroke="#6a0606" stroke-width="0.4"/>
<circle cx="280.31" cy="186.88" r="1.3" fill="#e8121a" stroke="#6a0606" stroke-width="0.4"/>
<circle cx="287.06" cy="183.17" r="1.3" fill="#e8121a" stroke="#6a0606" stroke-width="0.4"/>
<circle cx="284.54" cy="183.25" r="1.3" fill="#e8121a" stroke="#6a0606" stroke-width="0.4"/>
<circle cx="286.73" cy="182.67" r="1.3" fill="#e8121a" stroke="#6a0606" stroke-width="0.4"/>
<circle cx="280.46" cy="185.81" r="1.3" fill="#e8121a" stroke="#6a0606" stroke-width="0.4"/>
<circle cx="281.70" cy="186.39" r="1.3" fill="#e8121a" stroke="#6a0606" stroke-width="0.4"/>
<circle cx="284.56" cy="183.69" r="1.3" fill="#e8121a" stroke="#6a0606" stroke-width="0.4"/>
<circle cx="283.67" cy="184.32" r="1.3" fill="#e8121a" stroke="#6a0606" stroke-width="0.4"/>
<circle cx="279.13" cy="187.09" r="1.3" fill="#e8121a" stroke="#6a0606" stroke-width="0.4"/>
<circle cx="282.89" cy="185.11" r="1.3" fill="#e8121a" stroke="#6a0606" stroke-width="0.4"/>
<circle cx="279.97" cy="185.83" r="1.3" fill="#e8121a" stroke="#6a0606" stroke-width="0.4"/>
<circle cx="287.38" cy="182.92" r="1.3" fill="#e8121a" stroke="#6a0606" stroke-width="0.4"/>
<circle cx="283.88" cy="184.88" r="1.3" fill="#e8121a" stroke="#6a0606" stroke-width="0.4"/>
<circle cx="283.35" cy="184.04" r="1.3" fill="#e8121a" stroke="#6a0606" stroke-width="0.4"/>
<circle cx="279.40" cy="185.31" r="1.3" fill="#e8121a" stroke="#6a0606" stroke-width="0.4"/>
<circle cx="287.32" cy="182.84" r="1.3" fill="#e8121a" stroke="#6a0606" stroke-width="0.4"/>
<circle cx="288.30" cy="182.26" r="1.3" fill="#e8121a" stroke="#6a0606" stroke-width="0.4"/>
<circle cx="283.11" cy="184.93" r="1.3" fill="#e8121a" stroke="#6a0606" stroke-width="0.4"/>
<circle cx="281.25" cy="185.62" r="1.3" fill="#e8121a" stroke="#6a0606" stroke-width="0.4"/>
<circle cx="273.50" cy="187.00" r="1.3" fill="#e8121a" stroke="#6a0606" stroke-width="0.4"/>
<circle cx="275.00" cy="190.00" r="1.3" fill="#e8121a" stroke="#6a0606" stroke-width="0.4"/>
<circle cx="277.00" cy="193.00" r="1.3" fill="#e8121a" stroke="#6a0606" stroke-width="0.4"/>
<circle cx="276.50" cy="196.00" r="1.3" fill="#e8121a" stroke="#6a0606" stroke-width="0.4"/>
<circle cx="278.50" cy="190.00" r="1.3" fill="#e8121a" stroke="#6a0606" stroke-width="0.4"/>
<circle cx="296.75" cy="176.73" r="1.3" fill="#e8121a" stroke="#6a0606" stroke-width="0.4"/>
<circle cx="298.93" cy="174.97" r="1.3" fill="#e8121a" stroke="#6a0606" stroke-width="0.4"/>
<circle cx="293.29" cy="176.65" r="1.3" fill="#e8121a" stroke="#6a0606" stroke-width="0.4"/>
<circle cx="295.97" cy="176.03" r="1.3" fill="#e8121a" stroke="#6a0606" stroke-width="0.4"/>
<circle cx="292.13" cy="178.41" r="1.3" fill="#e8121a" stroke="#6a0606" stroke-width="0.4"/>
<circle cx="302.68" cy="171.56" r="1.3" fill="#e8121a" stroke="#6a0606" stroke-width="0.4"/>
<circle cx="296.02" cy="176.09" r="1.3" fill="#e8121a" stroke="#6a0606" stroke-width="0.4"/>
<circle cx="296.12" cy="174.47" r="1.3" fill="#e8121a" stroke="#6a0606" stroke-width="0.4"/>
<circle cx="304.62" cy="170.73" r="1.3" fill="#e8121a" stroke="#6a0606" stroke-width="0.4"/>
<circle cx="291.66" cy="178.46" r="1.3" fill="#e8121a" stroke="#6a0606" stroke-width="0.4"/>
<circle cx="302.89" cy="170.36" r="1.3" fill="#e8121a" stroke="#6a0606" stroke-width="0.4"/>
<circle cx="292.14" cy="179.47" r="1.3" fill="#e8121a" stroke="#6a0606" stroke-width="0.4"/>
<circle cx="292.70" cy="177.29" r="1.3" fill="#e8121a" stroke="#6a0606" stroke-width="0.4"/>
<circle cx="294.82" cy="176.29" r="1.3" fill="#e8121a" stroke="#6a0606" stroke-width="0.4"/>
<circle cx="298.98" cy="171.55" r="1.3" fill="#e8121a" stroke="#6a0606" stroke-width="0.4"/>
<circle cx="297.38" cy="175.14" r="1.3" fill="#e8121a" stroke="#6a0606" stroke-width="0.4"/>
<circle cx="297.50" cy="172.80" r="1.3" fill="#e8121a" stroke="#6a0606" stroke-width="0.4"/>
<circle cx="303.35" cy="171.02" r="1.3" fill="#e8121a" stroke="#6a0606" stroke-width="0.4"/>
<circle cx="297.08" cy="174.64" r="1.3" fill="#e8121a" stroke="#6a0606" stroke-width="0.4"/>
<circle cx="294.54" cy="177.20" r="1.3" fill="#e8121a" stroke="#6a0606" stroke-width="0.4"/>
<circle cx="291.78" cy="178.83" r="1.3" fill="#e8121a" stroke="#6a0606" stroke-width="0.4"/>
<circle cx="301.45" cy="173.34" r="1.3" fill="#e8121a" stroke="#6a0606" stroke-width="0.4"/>
<circle cx="302.63" cy="172.43" r="1.3" fill="#e8121a" stroke="#6a0606" stroke-width="0.4"/>
<circle cx="295.42" cy="174.28" r="1.3" fill="#e8121a" stroke="#6a0606" stroke-width="0.4"/>
<circle cx="301.80" cy="172.15" r="1.3" fill="#e8121a" stroke="#6a0606" stroke-width="0.4"/>
<circle cx="294.46" cy="177.49" r="1.3" fill="#e8121a" stroke="#6a0606" stroke-width="0.4"/>
<circle cx="298.46" cy="174.73" r="1.3" fill="#e8121a" stroke="#6a0606" stroke-width="0.4"/>
<circle cx="296.81" cy="175.28" r="1.3" fill="#e8121a" stroke="#6a0606" stroke-width="0.4"/>
<circle cx="295.72" cy="176.06" r="1.3" fill="#e8121a" stroke="#6a0606" stroke-width="0.4"/>
<circle cx="292.73" cy="177.98" r="1.3" fill="#e8121a" stroke="#6a0606" stroke-width="0.4"/>
<circle cx="296.27" cy="176.74" r="1.3" fill="#e8121a" stroke="#6a0606" stroke-width="0.4"/>
<circle cx="298.14" cy="174.69" r="1.3" fill="#e8121a" stroke="#6a0606" stroke-width="0.4"/>
<circle cx="303.01" cy="170.16" r="1.3" fill="#e8121a" stroke="#6a0606" stroke-width="0.4"/>
<circle cx="295.83" cy="175.32" r="1.3" fill="#e8121a" stroke="#6a0606" stroke-width="0.4"/>
<circle cx="298.83" cy="175.30" r="1.3" fill="#e8121a" stroke="#6a0606" stroke-width="0.4"/>
<circle cx="293.63" cy="178.58" r="1.3" fill="#e8121a" stroke="#6a0606" stroke-width="0.4"/>
<circle cx="294.20" cy="177.18" r="1.3" fill="#e8121a" stroke="#6a0606" stroke-width="0.4"/>
<circle cx="297.33" cy="174.66" r="1.3" fill="#e8121a" stroke="#6a0606" stroke-width="0.4"/>
<circle cx="300.27" cy="171.71" r="1.3" fill="#e8121a" stroke="#6a0606" stroke-width="0.4"/>
<circle cx="304.14" cy="171.64" r="1.3" fill="#e8121a" stroke="#6a0606" stroke-width="0.4"/>
<circle cx="292.13" cy="178.34" r="1.3" fill="#e8121a" stroke="#6a0606" stroke-width="0.4"/>
<circle cx="291.24" cy="177.20" r="1.3" fill="#e8121a" stroke="#6a0606" stroke-width="0.4"/>
<circle cx="294.19" cy="175.91" r="1.3" fill="#e8121a" stroke="#6a0606" stroke-width="0.4"/>
<circle cx="293.89" cy="177.01" r="1.3" fill="#e8121a" stroke="#6a0606" stroke-width="0.4"/>
<circle cx="296.08" cy="175.14" r="1.3" fill="#e8121a" stroke="#6a0606" stroke-width="0.4"/>
<circle cx="293.97" cy="178.49" r="1.3" fill="#e8121a" stroke="#6a0606" stroke-width="0.4"/>
<circle cx="295.82" cy="176.41" r="1.3" fill="#e8121a" stroke="#6a0606" stroke-width="0.4"/>
<circle cx="290.98" cy="180.07" r="1.3" fill="#e8121a" stroke="#6a0606" stroke-width="0.4"/>
<circle cx="300.91" cy="172.07" r="1.3" fill="#e8121a" stroke="#6a0606" stroke-width="0.4"/>
<circle cx="299.69" cy="171.92" r="1.3" fill="#e8121a" stroke="#6a0606" stroke-width="0.4"/>
<circle cx="295.03" cy="177.82" r="1.3" fill="#e8121a" stroke="#6a0606" stroke-width="0.4"/>
<circle cx="299.24" cy="174.70" r="1.3" fill="#e8121a" stroke="#6a0606" stroke-width="0.4"/>
<circle cx="298.94" cy="172.18" r="1.3" fill="#e8121a" stroke="#6a0606" stroke-width="0.4"/>
<circle cx="303.74" cy="169.86" r="1.3" fill="#e8121a" stroke="#6a0606" stroke-width="0.4"/>
<circle cx="297.14" cy="173.88" r="1.3" fill="#e8121a" stroke="#6a0606" stroke-width="0.4"/>
<circle cx="304.22" cy="168.55" r="1.3" fill="#e8121a" stroke="#6a0606" stroke-width="0.4"/>
<circle cx="293.71" cy="175.38" r="1.3" fill="#e8121a" stroke="#6a0606" stroke-width="0.4"/>
<circle cx="300.29" cy="172.58" r="1.3" fill="#e8121a" stroke="#6a0606" stroke-width="0.4"/>
<circle cx="297.93" cy="173.58" r="1.3" fill="#e8121a" stroke="#6a0606" stroke-width="0.4"/>
<circle cx="301.41" cy="172.66" r="1.3" fill="#e8121a" stroke="#6a0606" stroke-width="0.4"/>
<circle cx="295.74" cy="174.28" r="1.3" fill="#e8121a" stroke="#6a0606" stroke-width="0.4"/>
<circle cx="292.05" cy="178.81" r="1.3" fill="#e8121a" stroke="#6a0606" stroke-width="0.4"/>
<circle cx="296.99" cy="175.69" r="1.3" fill="#e8121a" stroke="#6a0606" stroke-width="0.4"/>
<circle cx="293.14" cy="178.06" r="1.3" fill="#e8121a" stroke="#6a0606" stroke-width="0.4"/>
<circle cx="293.30" cy="177.83" r="1.3" fill="#e8121a" stroke="#6a0606" stroke-width="0.4"/>
<circle cx="292.29" cy="178.59" r="1.3" fill="#e8121a" stroke="#6a0606" stroke-width="0.4"/>
<circle cx="296.36" cy="175.82" r="1.3" fill="#e8121a" stroke="#6a0606" stroke-width="0.4"/>
<circle cx="290.48" cy="179.27" r="1.3" fill="#e8121a" stroke="#6a0606" stroke-width="0.4"/>
<circle cx="293.09" cy="175.75" r="1.3" fill="#e8121a" stroke="#6a0606" stroke-width="0.4"/>
<circle cx="298.56" cy="172.73" r="1.3" fill="#e8121a" stroke="#6a0606" stroke-width="0.4"/>
<circle cx="301.30" cy="171.96" r="1.3" fill="#e8121a" stroke="#6a0606" stroke-width="0.4"/>
<circle cx="290.61" cy="178.29" r="1.3" fill="#e8121a" stroke="#6a0606" stroke-width="0.4"/>
<circle cx="297.32" cy="174.49" r="1.3" fill="#e8121a" stroke="#6a0606" stroke-width="0.4"/>
<circle cx="300.75" cy="171.85" r="1.3" fill="#e8121a" stroke="#6a0606" stroke-width="0.4"/>
<circle cx="294.93" cy="176.90" r="1.3" fill="#e8121a" stroke="#6a0606" stroke-width="0.4"/>
<circle cx="297.91" cy="174.60" r="1.3" fill="#e8121a" stroke="#6a0606" stroke-width="0.4"/>
<circle cx="301.17" cy="173.42" r="1.3" fill="#e8121a" stroke="#6a0606" stroke-width="0.4"/>
<circle cx="291.17" cy="179.19" r="1.3" fill="#e8121a" stroke="#6a0606" stroke-width="0.4"/>
<circle cx="293.55" cy="177.20" r="1.3" fill="#e8121a" stroke="#6a0606" stroke-width="0.4"/>
<circle cx="295.28" cy="177.18" r="1.3" fill="#e8121a" stroke="#6a0606" stroke-width="0.4"/>
<circle cx="290.98" cy="178.19" r="1.3" fill="#e8121a" stroke="#6a0606" stroke-width="0.4"/>
<circle cx="295.83" cy="175.24" r="1.3" fill="#e8121a" stroke="#6a0606" stroke-width="0.4"/>
<circle cx="295.18" cy="176.22" r="1.3" fill="#e8121a" stroke="#6a0606" stroke-width="0.4"/>
<circle cx="303.11" cy="171.11" r="1.3" fill="#e8121a" stroke="#6a0606" stroke-width="0.4"/>
<circle cx="300.90" cy="172.04" r="1.3" fill="#e8121a" stroke="#6a0606" stroke-width="0.4"/>
<circle cx="296.43" cy="175.40" r="1.3" fill="#e8121a" stroke="#6a0606" stroke-width="0.4"/>
<circle cx="298.23" cy="174.42" r="1.3" fill="#e8121a" stroke="#6a0606" stroke-width="0.4"/>
<circle cx="303.27" cy="171.36" r="1.3" fill="#e8121a" stroke="#6a0606" stroke-width="0.4"/>
<circle cx="300.65" cy="172.13" r="1.3" fill="#e8121a" stroke="#6a0606" stroke-width="0.4"/>
<circle cx="300.46" cy="171.21" r="1.3" fill="#e8121a" stroke="#6a0606" stroke-width="0.4"/>
<circle cx="309.50" cy="163.00" r="1.3" fill="#e8121a" stroke="#6a0606" stroke-width="0.4"/>
<circle cx="304.00" cy="163.00" r="1.3" fill="#e8121a" stroke="#6a0606" stroke-width="0.4"/>
<circle cx="307.50" cy="165.50" r="1.3" fill="#e8121a" stroke="#6a0606" stroke-width="0.4"/>
<circle cx="306.00" cy="168.00" r="1.3" fill="#e8121a" stroke="#6a0606" stroke-width="0.4"/>
<circle cx="301.00" cy="172.50" r="1.3" fill="#e8121a" stroke="#6a0606" stroke-width="0.4"/>
<line x1="286.00" y1="184.00" x2="292.00" y2="179.00" stroke="#000" stroke-width="1.2" />
<defs>
<filter id="bl1" x="-30%" y="-80%" width="160%" height="260%"><feGaussianBlur stdDeviation="1.0"/></filter>
<filter id="bl2" x="-30%" y="-80%" width="160%" height="260%"><feGaussianBlur stdDeviation="0.6"/></filter>
<linearGradient id="blotbg" x1="0" y1="0" x2="0" y2="1"><stop offset="0" stop-color="#e6e6e6"/><stop offset="0.15" stop-color="#f5f5f5"/><stop offset="0.85" stop-color="#f5f5f5"/><stop offset="1" stop-color="#e2e2e2"/></linearGradient>
</defs>
<text transform="translate(46.22,313.30) rotate(-90)" x="0" y="0" font-size="4.8" fill="#231f20" stroke="#231f20" stroke-width="0.04" textLength="15.90" lengthAdjust="spacingAndGlyphs">DMSO</text>
<text transform="translate(57.82,313.30) rotate(-90)" x="0" y="0" font-size="4.8" fill="#231f20" stroke="#231f20" stroke-width="0.04" textLength="42.90" lengthAdjust="spacingAndGlyphs">VTP50469 (50nM)</text>
<text transform="translate(70.02,313.30) rotate(-90)" x="0" y="0" font-size="4.8" fill="#231f20" stroke="#231f20" stroke-width="0.04" textLength="43.50" lengthAdjust="spacingAndGlyphs">comp. 10 (100nM)</text>
<text transform="translate(81.62,313.30) rotate(-90)" x="0" y="0" font-size="4.8" fill="#231f20" stroke="#231f20" stroke-width="0.04" textLength="43.30" lengthAdjust="spacingAndGlyphs">comp. 11 (100nM)</text>
<text transform="translate(93.82,313.30) rotate(-90)" x="0" y="0" font-size="4.8" fill="#231f20" stroke="#231f20" stroke-width="0.04" textLength="43.10" lengthAdjust="spacingAndGlyphs">EPZ5676 (100nM)</text>
<rect x="33.80" y="315.40" width="70.60" height="17.60" fill="url(#blotbg)" stroke="#5a5a5a" stroke-width="0.7" />
<g filter="url(#bl1)">
<rect x="36.00" y="323.10" width="12.20" height="6.60" rx="3.30" fill="#000"/>
<rect x="48.20" y="323.30" width="12.60" height="6.20" rx="3.10" fill="#000"/>
<rect x="61.80" y="324.10" width="11.40" height="4.60" rx="2.30" fill="#7a7a7a"/>
<rect x="74.40" y="324.30" width="12.20" height="4.20" rx="2.10" fill="#8a8a8a"/>
<rect x="87.60" y="324.30" width="11.60" height="4.20" rx="2.10" fill="#8e8e8e"/>
</g>
<rect x="33.80" y="334.90" width="70.60" height="18.20" fill="#e8e8e8" stroke="#4a4a4a" stroke-width="0.8" />
<g filter="url(#bl1)">
<rect x="35.5" y="337.8" width="66" height="4.6" fill="#8e8e8e"/>
<rect x="37.00" y="338.6" width="9.5" height="3.2" rx="1.2" fill="#707070"/>
<rect x="36.50" y="349.0" width="10.5" height="1.6" rx="0.8" fill="#a0a0a0"/>
<rect x="50.20" y="338.6" width="9.5" height="3.2" rx="1.2" fill="#707070"/>
<rect x="49.70" y="349.0" width="10.5" height="1.6" rx="0.8" fill="#a0a0a0"/>
<rect x="63.40" y="338.6" width="9.5" height="3.2" rx="1.2" fill="#707070"/>
<rect x="62.90" y="349.0" width="10.5" height="1.6" rx="0.8" fill="#a0a0a0"/>
<rect x="76.60" y="338.6" width="9.5" height="3.2" rx="1.2" fill="#707070"/>
<rect x="76.10" y="349.0" width="10.5" height="1.6" rx="0.8" fill="#a0a0a0"/>
<rect x="89.60" y="338.6" width="9.5" height="3.2" rx="1.2" fill="#707070"/>
<rect x="89.10" y="349.0" width="10.5" height="1.6" rx="0.8" fill="#a0a0a0"/>
</g>
<g filter="url(#bl2)">
<rect x="34.2" y="342.0" width="67.5" height="6.0" rx="2.4" fill="#000"/>
</g>
<text x="106.60" y="326.29" font-size="6.4" fill="#231f20" stroke="#231f20" stroke-width="0.04" font-weight="normal" textLength="27.70" lengthAdjust="spacingAndGlyphs" >H3K79me2</text>
<text x="106.60" y="346.09" font-size="6.4" fill="#231f20" stroke="#231f20" stroke-width="0.04" font-weight="normal" textLength="19.60" lengthAdjust="spacingAndGlyphs" >total H3</text>
<text x="39.80" y="360.22" font-size="6.2" fill="#231f20" stroke="#231f20" stroke-width="0.04" font-weight="normal" textLength="2.60" lengthAdjust="spacingAndGlyphs" >1</text>
<text x="49.50" y="360.22" font-size="6.2" fill="#231f20" stroke="#231f20" stroke-width="0.04" font-weight="normal" textLength="10.80" lengthAdjust="spacingAndGlyphs" >1.06</text>
<text x="62.20" y="360.22" font-size="6.2" fill="#231f20" stroke="#231f20" stroke-width="0.04" font-weight="normal" textLength="10.70" lengthAdjust="spacingAndGlyphs" >0.34</text>
<text x="74.90" y="360.22" font-size="6.2" fill="#231f20" stroke="#231f20" stroke-width="0.04" font-weight="normal" textLength="10.30" lengthAdjust="spacingAndGlyphs" >0.31</text>
<text x="88.00" y="360.22" font-size="6.2" fill="#231f20" stroke="#231f20" stroke-width="0.04" font-weight="normal" textLength="10.80" lengthAdjust="spacingAndGlyphs" >0.22</text>
<text x="199.80" y="280.73" font-size="6.8" fill="#231f20" stroke="#231f20" stroke-width="0.1" font-weight="normal" textLength="126.80" lengthAdjust="spacingAndGlyphs" >DOT1L-ChIPseq (4 days of drug treatment)</text>
<rect x="193.30" y="287.30" width="31.60" height="8.70" fill="#f3f3f3" stroke="none" stroke-width="1" />
<rect x="193.30" y="299.20" width="31.60" height="10.00" fill="#f3f3f3" stroke="none" stroke-width="1" />
<rect x="193.30" y="312.40" width="31.60" height="9.70" fill="#f3f3f3" stroke="none" stroke-width="1" />
<rect x="193.30" y="325.30" width="31.60" height="9.80" fill="#f3f3f3" stroke="none" stroke-width="1" />
<rect x="193.30" y="338.30" width="31.60" height="9.70" fill="#f3f3f3" stroke="none" stroke-width="1" />
<rect x="193.30" y="351.20" width="31.60" height="10.30" fill="#f3f3f3" stroke="none" stroke-width="1" />
<rect x="228.30" y="287.30" width="32.50" height="8.70" fill="#f3f3f3" stroke="none" stroke-width="1" />
<rect x="228.30" y="299.20" width="32.50" height="10.00" fill="#f3f3f3" stroke="none" stroke-width="1" />
<rect x="228.30" y="312.40" width="32.50" height="9.70" fill="#f3f3f3" stroke="none" stroke-width="1" />
<rect x="228.30" y="325.30" width="32.50" height="9.80" fill="#f3f3f3" stroke="none" stroke-width="1" />
<rect x="228.30" y="338.30" width="32.50" height="9.70" fill="#f3f3f3" stroke="none" stroke-width="1" />
<rect x="228.30" y="351.20" width="32.50" height="10.30" fill="#f3f3f3" stroke="none" stroke-width="1" />
<rect x="264.20" y="287.30" width="32.50" height="8.70" fill="#f3f3f3" stroke="none" stroke-width="1" />
<rect x="264.20" y="299.20" width="32.50" height="10.00" fill="#f3f3f3" stroke="none" stroke-width="1" />
<rect x="264.20" y="312.40" width="32.50" height="9.70" fill="#f3f3f3" stroke="none" stroke-width="1" />
<rect x="264.20" y="325.30" width="32.50" height="9.80" fill="#f3f3f3" stroke="none" stroke-width="1" />
<rect x="264.20" y="338.30" width="32.50" height="9.70" fill="#f3f3f3" stroke="none" stroke-width="1" />
<rect x="264.20" y="351.20" width="32.50" height="10.30" fill="#f3f3f3" stroke="none" stroke-width="1" />
<rect x="300.10" y="287.30" width="32.80" height="8.70" fill="#f3f3f3" stroke="none" stroke-width="1" />
<rect x="300.10" y="299.20" width="32.80" height="10.00" fill="#f3f3f3" stroke="none" stroke-width="1" />
<rect x="300.10" y="312.40" width="32.80" height="9.70" fill="#f3f3f3" stroke="none" stroke-width="1" />
<rect x="300.10" y="325.30" width="32.80" height="9.80" fill="#f3f3f3" stroke="none" stroke-width="1" />
<rect x="300.10" y="338.30" width="32.80" height="9.70" fill="#f3f3f3" stroke="none" stroke-width="1" />
<rect x="300.10" y="351.20" width="32.80" height="10.30" fill="#f3f3f3" stroke="none" stroke-width="1" />
<path d="M192.40,296.00 L192.40,295.99 L192.90,295.83 L193.40,295.18 L193.90,295.37 L194.40,295.29 L194.90,295.85 L195.40,295.08 L195.90,295.73 L196.40,296.00 L196.90,295.83 L197.40,296.00 L197.90,294.54 L198.40,294.47 L198.90,295.93 L199.40,295.95 L199.90,295.18 L200.40,295.98 L200.90,295.99 L201.40,295.99 L201.90,295.92 L202.40,295.56 L202.90,294.39 L203.40,295.98 L203.90,294.43 L204.40,295.69 L204.90,294.68 L205.40,295.01 L205.90,295.99 L206.40,295.51 L206.90,296.00 L207.40,296.00 L207.90,295.89 L208.40,295.17 L208.90,295.67 L209.40,295.99 L209.90,294.93 L210.40,294.63 L210.90,295.98 L211.40,295.84 L211.90,295.53 L212.40,294.68 L212.90,296.00 L213.40,295.69 L213.90,294.36 L214.40,295.59 L214.90,295.34 L215.40,295.16 L215.90,295.77 L216.40,295.96 L216.90,295.63 L217.40,295.73 L217.90,295.93 L218.40,294.88 L218.90,295.91 L219.40,295.80 L219.90,295.21 L220.40,295.03 L220.90,294.73 L221.40,295.50 L221.90,295.97 L222.40,294.90 L222.90,294.65 L223.40,295.34 L223.90,295.19 L224.40,295.76 L224.90,295.78 L225.40,295.64 L225.80,296.00 Z" fill="#222" stroke="#222" stroke-width="0.25" stroke-linejoin="round"/>
<path d="M192.40,309.20 L192.40,309.03 L192.90,308.26 L193.40,309.16 L193.90,308.28 L194.40,308.74 L194.90,308.75 L195.40,309.20 L195.90,309.02 L196.40,308.24 L196.48,308.05 L196.90,306.35 L197.20,305.35 L197.40,304.09 L197.80,299.20 L197.90,300.14 L198.40,303.29 L198.90,306.96 L199.40,306.01 L199.90,308.01 L200.13,307.43 L200.40,307.42 L200.90,308.02 L201.15,307.27 L201.40,308.47 L201.90,308.05 L202.33,308.76 L202.40,307.58 L202.90,308.00 L203.05,308.85 L203.40,309.05 L203.90,308.82 L204.11,308.54 L204.38,308.99 L204.40,309.05 L204.90,308.72 L204.99,307.88 L205.10,308.56 L205.40,306.33 L205.70,306.18 L205.90,307.05 L206.30,308.59 L206.40,307.35 L206.90,308.09 L207.39,309.01 L207.40,309.05 L207.90,308.77 L208.40,308.19 L208.86,309.11 L208.90,308.75 L209.40,307.72 L209.70,308.01 L209.90,306.80 L210.30,303.47 L210.40,304.90 L210.90,308.11 L211.40,308.49 L211.90,308.86 L212.40,308.96 L212.90,309.15 L213.40,308.05 L213.90,309.17 L214.40,308.76 L214.90,308.20 L215.40,309.11 L215.90,309.20 L216.40,309.19 L216.90,309.20 L217.40,309.19 L217.90,309.16 L217.99,309.10 L218.40,308.91 L218.80,308.56 L218.90,307.93 L219.40,305.77 L219.90,307.89 L220.00,308.68 L220.40,308.60 L220.90,308.89 L220.94,309.12 L221.26,308.89 L221.40,309.04 L221.90,308.34 L222.40,306.07 L222.50,306.18 L222.90,307.80 L223.10,308.29 L223.40,308.72 L223.90,309.06 L223.92,309.05 L224.40,307.78 L224.90,308.63 L225.40,309.08 L225.80,309.20 Z" fill="#1f1fd6" stroke="#1f1fd6" stroke-width="0.25" stroke-linejoin="round"/>
<path d="M192.40,322.10 L192.40,322.10 L192.90,322.03 L193.40,322.10 L193.90,321.99 L194.40,322.03 L194.90,322.08 L195.40,322.03 L195.90,322.05 L196.40,322.10 L196.90,322.06 L197.40,322.03 L197.90,322.06 L198.40,321.90 L198.90,321.98 L199.40,322.08 L199.90,322.10 L200.40,322.10 L200.90,321.94 L201.40,322.00 L201.90,322.03 L202.40,322.07 L202.90,322.06 L203.40,322.10 L203.90,322.06 L204.40,322.10 L204.90,322.03 L205.40,322.02 L205.90,322.01 L206.40,322.10 L206.90,322.10 L207.40,322.09 L207.90,322.00 L208.40,322.06 L208.90,321.97 L209.40,322.08 L209.90,322.08 L210.40,321.88 L210.90,322.10 L211.40,322.10 L211.90,322.04 L212.40,322.02 L212.90,322.08 L213.40,322.05 L213.90,322.07 L214.40,322.01 L214.90,321.89 L215.40,321.93 L215.90,322.02 L216.40,322.07 L216.90,321.84 L217.40,322.07 L217.90,322.03 L218.40,321.90 L218.90,322.00 L219.40,322.08 L219.90,321.98 L220.40,322.04 L220.90,321.87 L221.40,322.03 L221.90,322.05 L222.40,321.82 L222.90,322.06 L223.40,322.08 L223.90,321.85 L224.40,321.85 L224.90,322.10 L225.40,322.10 L225.80,322.10 Z" fill="#b0b0b0" stroke="#b0b0b0" stroke-width="0.25" stroke-linejoin="round"/>
<path d="M192.40,335.10 L192.40,335.06 L192.90,334.92 L193.40,335.10 L193.90,334.98 L194.40,335.07 L194.90,335.10 L195.40,333.86 L195.90,334.57 L196.13,333.47 L196.40,334.01 L196.90,331.82 L197.00,331.10 L197.40,326.02 L197.60,323.90 L197.90,328.81 L198.20,329.30 L198.40,330.91 L198.85,329.87 L198.90,330.02 L199.40,331.89 L199.52,331.53 L199.90,332.64 L200.40,333.02 L200.65,331.41 L200.90,333.13 L201.33,333.61 L201.40,333.89 L201.90,333.33 L202.06,332.31 L202.40,333.96 L202.67,333.90 L202.90,334.10 L203.34,334.43 L203.40,334.41 L203.90,334.55 L204.25,334.19 L204.40,334.63 L204.90,334.56 L205.10,334.54 L205.40,334.54 L205.90,334.42 L206.13,334.76 L206.40,334.41 L206.90,334.00 L207.20,334.65 L207.40,333.44 L207.90,335.05 L208.40,333.86 L208.90,335.09 L209.40,335.02 L209.90,334.23 L210.40,335.10 L210.90,334.73 L211.40,333.97 L211.58,333.66 L211.90,334.48 L212.40,334.66 L212.90,333.33 L213.00,332.70 L213.40,334.24 L213.60,334.61 L213.90,333.72 L214.40,334.65 L214.48,335.03 L214.90,334.95 L215.40,335.06 L215.90,334.05 L216.40,335.06 L216.90,334.49 L217.40,334.44 L217.90,335.05 L218.40,335.07 L218.90,334.87 L219.40,335.00 L219.90,334.76 L220.40,334.75 L220.80,333.58 L220.90,333.55 L221.40,330.10 L221.90,332.93 L222.00,332.53 L222.40,333.99 L222.90,334.76 L223.14,333.92 L223.40,333.72 L223.90,335.10 L224.40,334.91 L224.90,335.10 L225.40,335.04 L225.80,335.10 Z" fill="#e3242b" stroke="#e3242b" stroke-width="0.25" stroke-linejoin="round"/>
<path d="M192.40,348.00 L192.40,347.74 L192.90,347.59 L193.40,346.78 L193.90,346.42 L194.40,347.99 L194.90,347.77 L195.40,347.84 L195.88,347.40 L195.90,347.50 L196.40,347.45 L196.90,344.37 L197.00,344.21 L197.40,340.49 L197.60,337.50 L197.90,341.14 L198.20,342.54 L198.40,344.11 L198.90,345.06 L199.23,342.61 L199.40,343.97 L199.84,345.33 L199.90,345.56 L200.40,346.93 L200.90,346.67 L200.98,345.61 L201.40,346.90 L201.90,345.97 L201.97,345.74 L202.40,346.62 L202.90,346.81 L202.96,346.73 L203.40,346.98 L203.90,347.17 L204.40,347.75 L204.70,346.33 L204.90,347.67 L205.40,347.66 L205.68,347.60 L205.90,347.82 L206.40,347.54 L206.56,347.48 L206.90,347.04 L207.40,347.63 L207.90,347.95 L208.40,347.71 L208.90,346.59 L209.40,347.59 L209.90,347.04 L210.40,348.00 L210.90,347.47 L211.40,347.94 L211.46,347.94 L211.90,347.84 L212.40,347.64 L212.90,346.28 L213.00,345.98 L213.40,347.12 L213.60,347.43 L213.90,346.87 L214.40,347.97 L214.70,347.95 L214.90,347.97 L215.40,347.79 L215.90,347.98 L216.40,347.76 L216.90,347.98 L217.40,347.99 L217.90,347.81 L218.40,348.00 L218.90,346.89 L219.40,347.69 L219.90,347.77 L219.99,347.59 L220.40,346.18 L220.80,346.73 L220.90,346.47 L221.40,342.98 L221.90,346.48 L222.00,345.87 L222.40,347.04 L222.62,347.61 L222.90,346.62 L223.40,348.00 L223.90,347.93 L224.40,347.25 L224.90,346.77 L225.40,347.85 L225.80,348.00 Z" fill="#e3242b" stroke="#e3242b" stroke-width="0.25" stroke-linejoin="round"/>
<path d="M192.40,361.50 L192.40,361.29 L192.90,360.80 L193.40,361.11 L193.90,360.60 L194.40,361.28 L194.90,361.17 L195.40,360.07 L195.90,360.18 L196.19,359.31 L196.40,360.33 L196.90,358.39 L197.00,357.76 L197.40,353.96 L197.60,350.97 L197.90,355.50 L198.20,356.13 L198.40,357.49 L198.90,359.03 L199.26,356.95 L199.40,357.24 L199.90,358.76 L199.96,358.85 L200.40,360.51 L200.90,360.27 L201.01,359.00 L201.40,360.80 L201.90,359.93 L202.01,360.23 L202.40,360.68 L202.71,359.62 L202.90,360.40 L203.40,360.98 L203.54,360.45 L203.90,361.12 L204.40,359.68 L204.67,360.94 L204.90,361.12 L205.40,359.84 L205.90,361.27 L206.37,361.23 L206.40,360.44 L206.90,360.19 L207.40,361.31 L207.90,361.49 L208.40,360.46 L208.90,361.44 L209.40,361.48 L209.90,361.50 L210.40,360.41 L210.90,361.48 L211.40,361.41 L211.65,361.29 L211.90,360.82 L212.40,359.45 L212.90,359.77 L213.00,359.12 L213.40,360.61 L213.60,359.99 L213.90,361.04 L214.27,360.84 L214.40,360.44 L214.90,361.24 L215.40,361.33 L215.90,361.50 L216.40,361.49 L216.90,360.97 L217.40,360.80 L217.90,361.19 L218.40,361.50 L218.90,360.83 L219.40,360.52 L219.90,360.50 L220.40,360.46 L220.80,360.19 L220.90,360.29 L221.40,357.42 L221.90,360.35 L222.00,359.88 L222.40,360.93 L222.90,360.57 L223.04,361.38 L223.40,361.42 L223.90,361.50 L224.40,361.46 L224.90,360.75 L225.40,360.60 L225.80,361.50 Z" fill="#e3242b" stroke="#e3242b" stroke-width="0.25" stroke-linejoin="round"/>
<path d="M227.40,296.00 L227.40,295.27 L227.90,295.95 L228.40,295.50 L228.90,295.99 L229.40,295.90 L229.90,295.98 L230.40,295.86 L230.90,296.00 L231.40,295.93 L231.90,295.97 L232.40,296.00 L232.90,295.51 L233.40,295.32 L233.90,296.00 L234.40,295.77 L234.90,295.87 L235.40,295.93 L235.90,295.82 L236.40,295.74 L236.90,295.98 L237.40,295.96 L237.90,295.88 L238.40,295.12 L238.90,295.27 L239.40,295.58 L239.90,295.91 L240.40,295.32 L240.90,295.16 L241.40,295.38 L241.90,295.99 L242.40,295.94 L242.90,295.99 L243.40,295.92 L243.90,295.44 L244.40,295.89 L244.90,295.97 L245.40,296.00 L245.90,296.00 L246.40,295.50 L246.90,295.22 L247.40,295.37 L247.90,296.00 L248.40,295.98 L248.90,296.00 L249.40,295.91 L249.90,295.99 L250.40,295.90 L250.90,295.92 L251.40,295.77 L251.90,295.88 L252.40,295.89 L252.90,296.00 L253.40,295.25 L253.90,295.93 L254.40,295.41 L254.90,295.97 L255.40,296.00 L255.90,295.12 L256.40,295.89 L256.90,296.00 L257.40,295.20 L257.90,295.28 L258.40,296.00 L258.90,295.23 L259.40,296.00 L259.90,296.00 L260.40,296.00 L260.90,295.40 L261.40,295.80 L261.70,296.00 Z" fill="#222" stroke="#222" stroke-width="0.25" stroke-linejoin="round"/>
<path d="M227.40,309.20 L227.40,308.37 L227.90,309.20 L228.40,309.20 L228.90,308.95 L229.40,308.35 L229.90,308.50 L230.40,308.87 L230.90,308.80 L231.40,309.09 L231.90,309.08 L232.40,308.57 L232.90,309.14 L233.37,308.71 L233.40,308.66 L233.90,308.47 L234.10,307.72 L234.40,306.34 L234.70,303.29 L234.90,305.18 L235.30,308.05 L235.40,308.10 L235.90,308.13 L236.27,309.02 L236.40,309.09 L236.90,308.86 L237.40,308.46 L237.90,309.20 L238.40,308.75 L238.90,309.14 L239.40,308.88 L239.90,309.09 L240.40,308.34 L240.90,309.01 L241.40,308.30 L241.90,308.31 L242.40,309.20 L242.90,308.37 L243.40,308.76 L243.90,309.20 L244.40,309.01 L244.90,309.18 L245.40,309.20 L245.90,309.20 L246.40,309.15 L246.90,308.47 L247.36,309.02 L247.40,308.83 L247.90,307.85 L248.10,308.20 L248.40,305.40 L248.70,302.99 L248.90,304.47 L249.30,307.84 L249.40,307.18 L249.90,308.96 L250.07,308.95 L250.40,309.07 L250.89,309.05 L250.90,309.07 L251.40,307.76 L251.70,308.14 L251.90,306.46 L252.30,303.74 L252.40,304.81 L252.90,307.87 L253.40,308.81 L253.64,308.11 L253.90,308.96 L254.40,308.72 L254.90,309.20 L255.40,309.20 L255.90,309.15 L256.40,309.16 L256.90,309.19 L257.40,308.94 L257.90,309.01 L258.40,309.02 L258.90,309.17 L259.40,308.68 L259.60,308.55 L259.90,307.32 L260.20,306.14 L260.40,306.78 L260.80,307.81 L260.90,308.74 L261.40,308.83 L261.46,309.02 L261.70,309.20 Z" fill="#1f1fd6" stroke="#1f1fd6" stroke-width="0.25" stroke-linejoin="round"/>
<path d="M227.40,322.10 L227.40,322.07 L227.90,322.01 L228.40,322.03 L228.90,322.00 L229.40,321.88 L229.90,321.97 L230.40,322.10 L230.90,322.10 L231.40,322.07 L231.90,322.08 L232.40,321.83 L232.90,321.98 L233.40,322.07 L233.90,322.09 L234.40,322.10 L234.90,322.03 L235.40,321.86 L235.90,322.10 L236.40,322.07 L236.90,322.09 L237.40,322.03 L237.90,322.10 L238.40,322.10 L238.90,322.01 L239.40,322.09 L239.90,322.02 L240.40,321.88 L240.90,322.04 L241.40,321.87 L241.90,321.94 L242.40,322.10 L242.90,322.10 L243.40,322.01 L243.90,322.07 L244.40,322.10 L244.90,321.93 L245.40,322.02 L245.90,322.08 L246.40,322.06 L246.90,322.10 L247.40,322.05 L247.90,322.10 L248.40,322.01 L248.90,321.85 L249.40,322.10 L249.90,322.09 L250.40,322.04 L250.90,321.90 L251.40,322.10 L251.90,322.08 L252.40,322.03 L252.90,322.10 L253.40,322.10 L253.90,321.97 L254.40,322.03 L254.90,322.04 L255.40,322.05 L255.90,322.10 L256.40,322.07 L256.90,322.07 L257.40,322.06 L257.90,322.10 L258.40,322.10 L258.90,322.06 L259.40,322.00 L259.90,322.01 L260.40,321.85 L260.90,322.08 L261.40,322.08 L261.70,322.10 Z" fill="#b0b0b0" stroke="#b0b0b0" stroke-width="0.25" stroke-linejoin="round"/>
<path d="M227.40,335.10 L227.40,334.24 L227.90,335.07 L228.40,334.36 L228.90,334.41 L229.40,335.10 L229.90,334.18 L230.40,335.09 L230.90,334.97 L231.40,335.10 L231.90,335.10 L232.40,334.75 L232.90,334.39 L233.40,335.10 L233.90,334.32 L234.10,333.54 L234.40,329.71 L234.70,326.10 L234.90,328.27 L235.30,332.25 L235.40,331.68 L235.90,333.83 L235.91,333.82 L236.40,333.88 L236.65,334.76 L236.90,334.88 L237.40,334.81 L237.90,334.24 L238.40,334.13 L238.90,334.50 L239.40,334.84 L239.90,335.04 L240.40,334.51 L240.90,334.79 L241.40,334.29 L241.90,334.58 L242.40,334.96 L242.90,334.78 L243.40,335.09 L243.90,335.07 L244.40,334.56 L244.90,334.68 L245.40,335.10 L245.90,335.09 L246.40,335.01 L246.90,334.78 L247.14,334.90 L247.40,334.94 L247.90,333.05 L248.10,333.58 L248.40,329.28 L248.70,324.11 L248.90,327.92 L249.30,332.77 L249.40,333.24 L249.90,334.06 L250.14,334.02 L250.40,334.83 L250.90,334.64 L251.08,334.86 L251.40,333.62 L251.70,333.60 L251.90,332.07 L252.30,327.00 L252.40,328.96 L252.90,333.03 L253.40,333.49 L253.86,334.82 L253.90,334.75 L254.40,334.15 L254.90,335.05 L255.40,334.35 L255.90,334.81 L256.40,334.06 L256.90,334.86 L257.40,334.26 L257.90,334.96 L258.40,335.05 L258.76,334.98 L258.90,334.90 L259.40,334.45 L259.60,334.41 L259.90,332.76 L260.20,331.08 L260.40,332.09 L260.80,333.69 L260.90,333.92 L261.40,334.90 L261.42,334.88 L261.70,335.10 Z" fill="#e3242b" stroke="#e3242b" stroke-width="0.25" stroke-linejoin="round"/>
<path d="M227.40,348.00 L227.40,346.89 L227.90,347.05 L228.40,348.00 L228.90,348.00 L229.40,348.00 L229.90,347.65 L230.40,347.98 L230.90,347.99 L231.40,347.83 L231.90,346.93 L232.40,347.87 L232.90,347.93 L233.40,347.69 L233.44,347.65 L233.90,347.07 L234.10,346.70 L234.40,342.86 L234.70,338.95 L234.90,341.56 L235.30,345.30 L235.40,345.69 L235.90,346.88 L235.99,346.45 L236.40,347.52 L236.90,347.89 L237.00,347.78 L237.40,347.95 L237.90,348.00 L238.40,347.98 L238.90,347.12 L239.40,348.00 L239.90,347.86 L240.40,348.00 L240.90,347.95 L241.40,346.87 L241.90,347.28 L242.40,347.88 L242.90,347.98 L243.40,347.98 L243.90,347.81 L244.40,347.90 L244.90,347.98 L245.40,348.00 L245.90,347.43 L246.40,346.80 L246.90,346.93 L247.40,347.84 L247.90,346.46 L248.10,345.95 L248.40,341.13 L248.70,337.90 L248.90,340.86 L249.30,344.89 L249.40,345.94 L249.90,346.79 L249.96,347.03 L250.40,347.69 L250.90,347.17 L251.03,347.25 L251.40,347.19 L251.70,345.86 L251.90,344.99 L252.30,339.94 L252.40,341.77 L252.90,346.63 L253.40,346.90 L253.72,346.85 L253.90,347.05 L254.40,347.89 L254.90,347.73 L255.40,347.73 L255.90,347.56 L256.40,347.91 L256.90,348.00 L257.40,347.95 L257.90,347.95 L258.40,347.97 L258.63,347.95 L258.90,347.61 L259.40,347.22 L259.60,347.14 L259.90,344.98 L260.20,344.00 L260.40,345.14 L260.80,346.57 L260.90,346.21 L261.40,347.09 L261.70,348.00 Z" fill="#e3242b" stroke="#e3242b" stroke-width="0.25" stroke-linejoin="round"/>
<path d="M227.40,361.50 L227.40,361.06 L227.90,361.33 L228.40,361.23 L228.90,360.39 L229.40,360.66 L229.90,361.06 L230.40,361.24 L230.90,361.48 L231.40,360.79 L231.90,361.42 L232.40,361.44 L232.90,360.67 L233.38,361.18 L233.40,360.91 L233.90,360.13 L234.10,359.08 L234.40,355.32 L234.70,352.22 L234.90,354.34 L235.30,358.37 L235.40,358.56 L235.90,360.98 L236.40,360.96 L236.41,360.01 L236.90,361.01 L237.40,360.55 L237.90,361.46 L238.40,361.48 L238.90,361.31 L239.40,361.25 L239.90,361.50 L240.40,361.50 L240.90,361.24 L241.40,361.50 L241.90,361.50 L242.40,360.47 L242.90,360.45 L243.40,360.62 L243.90,361.47 L244.40,360.40 L244.90,361.44 L245.40,360.86 L245.90,361.47 L246.40,360.48 L246.90,361.49 L247.40,361.50 L247.90,360.18 L248.10,359.40 L248.40,355.79 L248.70,351.15 L248.90,353.70 L249.30,358.64 L249.40,358.88 L249.90,360.80 L250.23,361.07 L250.40,361.12 L250.90,361.47 L251.40,360.48 L251.70,359.79 L251.90,358.35 L252.30,353.64 L252.40,354.92 L252.90,359.39 L253.40,360.05 L253.90,361.26 L253.94,361.13 L254.40,361.43 L254.90,361.12 L255.40,361.50 L255.90,361.50 L256.40,360.70 L256.90,360.56 L257.40,361.33 L257.90,360.89 L258.40,361.31 L258.68,361.42 L258.90,361.44 L259.40,360.63 L259.60,360.06 L259.90,359.08 L260.20,356.51 L260.40,357.72 L260.80,360.42 L260.90,360.58 L261.40,360.99 L261.70,361.50 Z" fill="#e3242b" stroke="#e3242b" stroke-width="0.25" stroke-linejoin="round"/>
<path d="M263.30,296.00 L263.30,295.88 L263.80,295.99 L264.30,295.22 L264.80,295.77 L265.30,295.82 L265.80,295.25 L266.30,296.00 L266.80,295.55 L267.30,295.99 L267.80,295.99 L268.30,295.97 L268.80,295.64 L269.30,295.25 L269.80,295.68 L270.30,295.97 L270.80,296.00 L271.30,295.98 L271.80,295.99 L272.30,295.89 L272.80,295.88 L273.30,296.00 L273.80,295.99 L274.30,295.39 L274.80,295.69 L275.30,296.00 L275.80,295.41 L276.30,295.92 L276.80,295.95 L277.30,295.53 L277.80,295.71 L278.30,295.93 L278.80,295.95 L279.30,295.85 L279.80,295.48 L280.30,295.68 L280.80,296.00 L281.30,296.00 L281.80,295.96 L282.30,295.98 L282.80,295.58 L283.30,295.80 L283.80,296.00 L284.30,295.93 L284.80,295.83 L285.30,295.90 L285.80,295.98 L286.30,295.70 L286.80,295.98 L287.30,295.12 L287.80,295.95 L288.30,295.89 L288.80,295.53 L289.30,295.96 L289.80,295.34 L290.30,295.85 L290.80,295.86 L291.30,295.99 L291.80,295.97 L292.30,295.87 L292.80,295.51 L293.30,296.00 L293.80,295.45 L294.30,295.29 L294.80,296.00 L295.30,295.76 L295.80,295.99 L296.30,296.00 L296.80,295.16 L297.30,295.99 L297.60,296.00 Z" fill="#222" stroke="#222" stroke-width="0.25" stroke-linejoin="round"/>
<path d="M263.30,309.20 L263.30,308.45 L263.60,307.29 L263.80,304.02 L264.20,299.20 L264.30,300.63 L264.80,303.04 L265.30,307.65 L265.71,305.66 L265.80,305.89 L266.30,307.54 L266.48,307.19 L266.80,307.58 L267.30,307.79 L267.34,308.17 L267.80,308.41 L268.30,308.79 L268.52,308.55 L268.80,308.67 L269.30,308.67 L269.48,308.31 L269.80,309.05 L270.10,309.05 L270.30,309.09 L270.80,309.19 L271.30,308.61 L271.80,308.44 L272.30,309.14 L272.80,308.81 L273.30,308.60 L273.80,308.43 L274.30,308.65 L274.80,308.96 L275.30,308.59 L275.80,309.16 L276.30,308.95 L276.80,309.18 L277.30,309.12 L277.80,309.13 L278.30,309.05 L278.80,309.20 L279.30,309.10 L279.80,309.05 L280.30,308.30 L280.80,308.77 L281.30,309.20 L281.80,309.13 L282.30,308.67 L282.80,309.14 L282.82,308.36 L283.30,309.09 L283.63,308.62 L283.80,308.82 L284.30,307.22 L284.50,307.85 L284.80,306.88 L285.10,305.19 L285.30,306.32 L285.70,307.33 L285.80,307.40 L286.30,308.91 L286.69,308.77 L286.80,308.07 L287.30,309.07 L287.40,308.00 L287.80,309.12 L288.25,308.62 L288.30,308.68 L288.80,308.15 L289.30,308.65 L289.80,309.20 L290.30,308.67 L290.80,308.11 L291.30,308.61 L291.80,309.03 L292.30,309.20 L292.80,309.20 L293.30,309.18 L293.80,308.75 L294.30,309.20 L294.80,308.99 L295.30,308.69 L295.80,308.98 L296.30,308.73 L296.80,308.58 L297.30,308.74 L297.60,309.20 Z" fill="#1f1fd6" stroke="#1f1fd6" stroke-width="0.25" stroke-linejoin="round"/>
<path d="M263.30,322.10 L263.30,322.06 L263.80,322.04 L264.30,322.09 L264.80,321.86 L265.30,321.98 L265.80,321.97 L266.30,322.07 L266.80,321.93 L267.30,321.98 L267.80,322.04 L268.30,322.10 L268.80,322.07 L269.30,321.83 L269.80,322.05 L270.30,322.08 L270.80,322.03 L271.30,322.10 L271.80,322.09 L272.30,321.96 L272.80,322.07 L273.30,322.08 L273.80,321.82 L274.30,322.06 L274.80,322.07 L275.30,322.10 L275.80,322.04 L276.30,322.06 L276.80,322.09 L277.30,321.86 L277.80,322.03 L278.30,322.05 L278.80,321.91 L279.30,322.08 L279.80,321.82 L280.30,322.00 L280.80,322.08 L281.30,322.07 L281.80,321.83 L282.30,322.03 L282.80,322.10 L283.30,321.91 L283.80,322.08 L284.30,322.09 L284.80,322.07 L285.30,322.10 L285.80,322.01 L286.30,322.03 L286.80,322.07 L287.30,322.07 L287.80,322.09 L288.30,322.00 L288.80,321.93 L289.30,322.10 L289.80,322.02 L290.30,321.94 L290.80,321.81 L291.30,321.96 L291.80,321.84 L292.30,322.02 L292.80,321.92 L293.30,321.98 L293.80,322.10 L294.30,321.99 L294.80,322.03 L295.30,322.05 L295.80,322.10 L296.30,321.85 L296.80,321.94 L297.30,321.95 L297.60,322.10 Z" fill="#b0b0b0" stroke="#b0b0b0" stroke-width="0.25" stroke-linejoin="round"/>
<path d="M263.30,335.10 L263.30,333.91 L263.40,333.19 L263.80,327.87 L264.00,325.10 L264.30,328.70 L264.60,327.31 L264.80,328.66 L265.22,328.79 L265.30,330.10 L265.80,331.87 L266.02,330.33 L266.30,332.16 L266.72,332.40 L266.80,332.56 L267.30,333.47 L267.52,333.12 L267.80,333.94 L268.12,333.28 L268.30,333.35 L268.77,333.48 L268.80,333.47 L269.30,334.17 L269.41,333.78 L269.80,334.01 L270.28,332.73 L270.30,333.54 L270.80,333.09 L270.94,333.10 L271.30,334.43 L271.80,334.83 L272.01,334.57 L272.30,334.88 L272.80,333.36 L273.16,334.59 L273.30,334.12 L273.80,334.82 L273.92,334.76 L274.30,334.94 L274.80,334.94 L274.98,334.86 L275.30,334.97 L275.80,334.97 L276.30,334.98 L276.80,335.10 L277.30,335.10 L277.80,335.03 L278.30,335.10 L278.80,334.97 L279.30,335.10 L279.80,334.85 L280.30,335.10 L280.80,334.56 L281.30,334.99 L281.80,333.57 L282.30,335.07 L282.80,334.91 L283.30,334.25 L283.43,334.82 L283.80,334.86 L284.30,333.67 L284.40,332.46 L284.80,329.35 L285.00,328.48 L285.30,330.79 L285.60,332.40 L285.80,333.45 L286.30,334.15 L286.44,333.94 L286.80,333.45 L287.30,334.72 L287.35,334.47 L287.80,334.71 L288.30,334.97 L288.33,334.51 L288.80,333.83 L289.30,334.35 L289.80,335.01 L290.30,335.10 L290.80,333.62 L291.30,334.88 L291.80,334.70 L292.30,334.27 L292.80,335.01 L293.30,335.10 L293.80,335.10 L294.30,334.62 L294.80,335.03 L295.30,334.04 L295.80,334.45 L296.30,333.59 L296.80,334.62 L297.30,335.06 L297.60,335.10 Z" fill="#e3242b" stroke="#e3242b" stroke-width="0.25" stroke-linejoin="round"/>
<path d="M263.30,348.00 L263.30,345.39 L263.40,344.52 L263.80,340.85 L264.00,337.76 L264.30,342.29 L264.60,340.88 L264.80,343.84 L265.30,346.39 L265.67,344.52 L265.80,345.42 L266.30,343.83 L266.37,343.38 L266.80,345.96 L267.30,346.34 L267.46,345.78 L267.80,347.00 L268.30,346.33 L268.35,346.33 L268.80,347.40 L269.08,346.94 L269.30,345.91 L269.80,347.11 L269.87,347.19 L270.30,347.22 L270.59,346.33 L270.80,346.37 L271.30,347.45 L271.40,347.09 L271.80,347.76 L272.24,346.71 L272.30,347.58 L272.80,347.93 L273.30,347.69 L273.38,346.80 L273.80,346.74 L274.30,347.71 L274.38,346.24 L274.80,347.85 L275.04,347.80 L275.30,347.87 L275.80,347.86 L275.93,347.24 L276.30,347.63 L276.80,346.77 L277.30,347.99 L277.80,347.99 L278.30,347.00 L278.80,347.82 L279.30,347.83 L279.80,347.30 L280.30,348.00 L280.80,348.00 L281.30,348.00 L281.80,347.93 L282.30,348.00 L282.80,347.76 L283.30,347.73 L283.72,347.54 L283.80,347.63 L284.30,346.65 L284.40,345.88 L284.80,341.96 L285.00,340.00 L285.30,344.29 L285.60,344.35 L285.80,345.03 L286.30,346.00 L286.47,346.78 L286.80,347.47 L287.30,347.69 L287.55,346.36 L287.80,347.82 L288.30,347.68 L288.40,347.79 L288.80,347.89 L289.30,348.00 L289.80,347.85 L290.30,347.68 L290.80,347.18 L291.30,346.59 L291.80,347.95 L292.30,347.96 L292.80,348.00 L293.30,347.77 L293.80,347.23 L294.30,347.55 L294.80,347.86 L295.30,346.60 L295.80,346.61 L296.30,346.82 L296.80,347.94 L297.30,347.45 L297.60,348.00 Z" fill="#e3242b" stroke="#e3242b" stroke-width="0.25" stroke-linejoin="round"/>
<path d="M263.30,361.50 L263.30,358.76 L263.40,359.26 L263.80,354.10 L264.00,350.87 L264.30,355.34 L264.60,353.67 L264.80,356.13 L265.30,357.25 L265.41,356.13 L265.80,359.06 L266.30,358.95 L266.38,359.08 L266.80,360.29 L267.30,359.26 L267.40,359.61 L267.80,360.61 L268.30,359.35 L268.31,359.21 L268.80,360.85 L269.29,359.63 L269.30,360.01 L269.80,360.82 L270.07,360.40 L270.30,359.53 L270.78,360.69 L270.80,360.54 L271.30,360.55 L271.46,360.19 L271.80,359.78 L272.23,360.66 L272.30,361.03 L272.80,361.31 L273.15,361.15 L273.30,360.59 L273.80,360.01 L274.29,361.07 L274.30,360.94 L274.80,361.40 L275.30,360.85 L275.35,361.34 L275.80,360.99 L276.30,361.45 L276.80,361.15 L277.30,360.29 L277.80,360.17 L278.30,360.84 L278.80,361.48 L279.30,361.20 L279.80,361.35 L280.30,361.27 L280.80,360.68 L281.30,359.97 L281.80,361.48 L282.30,361.27 L282.80,359.97 L283.30,361.16 L283.33,361.17 L283.80,361.36 L284.30,360.68 L284.40,360.20 L284.80,357.20 L285.00,354.79 L285.30,357.28 L285.60,359.09 L285.80,359.88 L286.30,359.79 L286.51,360.49 L286.80,360.78 L287.30,361.16 L287.49,361.01 L287.80,361.07 L288.30,360.63 L288.31,361.26 L288.80,361.18 L289.30,360.39 L289.80,361.50 L290.30,361.50 L290.80,360.01 L291.30,361.44 L291.80,361.49 L292.30,360.27 L292.80,360.17 L293.30,361.50 L293.80,360.40 L294.30,361.35 L294.80,361.49 L295.30,361.18 L295.80,360.81 L296.30,361.27 L296.80,361.35 L297.30,361.50 L297.60,361.50 Z" fill="#e3242b" stroke="#e3242b" stroke-width="0.25" stroke-linejoin="round"/>
<path d="M299.20,296.00 L299.20,295.91 L299.70,295.25 L300.00,295.09 L300.20,295.32 L300.70,295.20 L300.90,294.29 L301.20,294.47 L301.70,294.87 L302.20,295.44 L302.38,294.34 L302.70,295.63 L303.00,295.57 L303.20,295.71 L303.70,295.41 L303.97,294.81 L304.20,295.32 L304.70,295.88 L305.20,294.44 L305.30,295.22 L305.70,295.77 L306.20,295.31 L306.64,295.49 L306.70,295.71 L307.20,295.93 L307.70,295.56 L307.99,294.96 L308.20,294.39 L308.70,295.56 L308.82,295.35 L309.20,295.78 L309.70,294.89 L309.87,293.97 L310.20,295.50 L310.70,295.83 L310.88,295.70 L311.20,295.66 L311.70,295.87 L312.20,294.99 L312.38,295.01 L312.70,295.35 L313.20,295.35 L313.35,294.86 L313.70,295.60 L314.20,295.26 L314.70,295.82 L315.20,296.00 L315.70,295.67 L316.20,295.95 L316.70,295.86 L317.20,296.00 L317.70,295.58 L318.20,295.97 L318.70,296.00 L319.20,295.87 L319.70,295.99 L320.20,295.85 L320.70,295.99 L321.20,295.99 L321.70,296.00 L322.20,295.99 L322.70,295.11 L323.20,295.99 L323.70,295.93 L324.20,295.73 L324.70,295.99 L325.20,295.99 L325.70,295.97 L326.20,295.04 L326.70,295.06 L327.20,295.62 L327.70,296.00 L328.20,295.99 L328.70,295.47 L329.20,295.97 L329.70,296.00 L330.20,295.95 L330.70,294.93 L331.20,295.99 L331.70,295.23 L332.20,296.00 L332.70,295.63 L333.20,295.40 L333.70,296.00 L333.80,296.00 Z" fill="#222" stroke="#222" stroke-width="0.25" stroke-linejoin="round"/>
<path d="M299.20,309.20 L299.20,309.11 L299.70,309.02 L300.20,308.67 L300.70,308.95 L301.20,308.63 L301.70,308.65 L302.20,309.20 L302.70,309.20 L303.20,309.13 L303.70,309.14 L304.20,308.65 L304.70,309.20 L305.20,308.24 L305.70,308.67 L306.20,308.92 L306.70,309.18 L307.20,308.72 L307.70,308.85 L308.20,308.56 L308.70,309.17 L309.20,308.71 L309.70,309.19 L310.20,309.11 L310.70,309.20 L311.20,309.18 L311.70,308.35 L312.20,308.20 L312.70,309.20 L313.20,308.93 L313.70,307.73 L314.00,306.21 L314.20,307.16 L314.70,309.19 L315.20,308.17 L315.45,307.15 L315.70,307.46 L316.20,306.76 L316.36,305.83 L316.70,307.33 L317.20,308.83 L317.70,307.03 L317.95,306.07 L318.20,306.55 L318.70,308.40 L319.03,307.37 L319.20,307.13 L319.70,306.64 L319.99,303.42 L320.10,304.96 L320.20,305.87 L320.70,300.89 L321.20,303.71 L321.30,305.01 L321.70,308.37 L322.00,307.13 L322.20,305.89 L322.28,305.04 L322.70,308.02 L323.10,306.52 L323.20,306.89 L323.70,306.83 L323.76,306.53 L324.20,308.47 L324.23,308.72 L324.70,305.24 L324.86,304.60 L325.20,307.20 L325.40,307.34 L325.70,305.23 L326.00,302.99 L326.20,304.85 L326.27,304.57 L326.60,307.13 L326.70,307.90 L327.20,308.90 L327.46,306.36 L327.70,304.62 L327.76,303.77 L328.20,304.98 L328.37,303.32 L328.70,305.61 L329.20,307.49 L329.52,305.64 L329.70,306.43 L330.20,306.88 L330.22,306.26 L330.70,307.49 L330.89,307.36 L331.20,308.14 L331.70,309.19 L332.20,309.16 L332.70,309.10 L333.20,309.19 L333.70,308.62 L333.80,309.20 Z" fill="#1f1fd6" stroke="#1f1fd6" stroke-width="0.25" stroke-linejoin="round"/>
<path d="M299.20,322.10 L299.20,322.10 L299.70,321.82 L300.20,322.09 L300.70,321.95 L301.20,322.10 L301.70,322.04 L302.20,322.08 L302.70,322.00 L303.20,321.96 L303.70,321.92 L304.20,321.93 L304.70,321.90 L305.20,322.03 L305.70,322.05 L306.20,321.96 L306.70,322.03 L307.20,321.95 L307.70,322.08 L308.20,321.84 L308.70,321.89 L309.20,322.10 L309.70,321.95 L310.20,322.05 L310.70,322.03 L311.20,321.95 L311.70,322.01 L312.20,322.01 L312.70,321.89 L313.20,322.10 L313.70,322.10 L314.20,322.09 L314.70,322.09 L315.20,322.10 L315.70,322.10 L316.20,322.07 L316.70,321.91 L317.20,321.96 L317.70,322.07 L318.20,321.90 L318.70,322.04 L319.20,321.92 L319.56,321.85 L319.70,321.89 L320.20,321.53 L320.40,321.32 L320.70,320.37 L321.00,319.04 L321.20,319.96 L321.60,321.37 L321.70,321.34 L322.20,321.98 L322.70,321.85 L322.71,321.93 L323.20,322.05 L323.70,321.95 L324.20,321.97 L324.70,322.10 L325.20,322.03 L325.70,321.96 L326.20,321.97 L326.70,321.97 L327.20,321.95 L327.70,322.08 L328.20,322.03 L328.70,322.09 L329.20,322.05 L329.70,321.97 L330.20,321.91 L330.70,321.98 L331.20,322.00 L331.70,322.10 L332.20,321.88 L332.70,322.08 L333.20,321.91 L333.70,322.10 L333.80,322.10 Z" fill="#b0b0b0" stroke="#b0b0b0" stroke-width="0.25" stroke-linejoin="round"/>
<path d="M299.20,335.10 L299.20,335.08 L299.70,334.89 L300.20,335.02 L300.70,334.31 L301.20,335.00 L301.70,335.05 L302.20,334.51 L302.70,334.56 L303.20,334.20 L303.70,334.48 L304.20,334.91 L304.70,334.53 L305.20,335.10 L305.70,335.10 L306.20,335.10 L306.70,334.80 L307.20,334.60 L307.70,335.09 L308.20,334.67 L308.70,335.09 L309.20,334.49 L309.70,335.10 L310.20,335.08 L310.70,335.07 L311.20,335.00 L311.70,334.63 L312.20,334.97 L312.70,334.54 L313.20,335.10 L313.70,332.75 L314.00,330.93 L314.20,332.32 L314.70,333.42 L315.13,328.74 L315.20,329.75 L315.70,334.44 L316.20,334.10 L316.62,330.99 L316.70,331.50 L317.20,334.81 L317.70,330.66 L317.82,330.09 L318.20,332.77 L318.70,333.91 L319.20,328.19 L319.56,332.40 L319.70,333.70 L320.20,333.04 L320.40,330.62 L320.62,327.95 L320.70,328.40 L321.00,324.33 L321.20,327.25 L321.60,333.12 L321.70,333.40 L321.95,332.23 L322.20,333.25 L322.44,334.54 L322.70,334.01 L322.86,333.65 L323.20,334.24 L323.70,334.01 L324.02,332.81 L324.20,333.51 L324.70,333.06 L324.93,332.84 L325.20,332.18 L325.47,330.03 L325.54,329.16 L325.70,330.75 L326.20,332.48 L326.40,330.65 L326.49,329.89 L326.70,331.08 L327.00,327.99 L327.20,330.10 L327.60,332.27 L327.70,333.37 L328.09,332.08 L328.20,332.42 L328.44,333.74 L328.70,334.91 L329.20,333.42 L329.33,332.41 L329.70,332.79 L330.05,329.67 L330.20,330.98 L330.70,327.91 L330.75,328.19 L331.20,333.24 L331.63,328.77 L331.70,329.50 L332.20,334.45 L332.70,334.41 L333.20,334.78 L333.70,335.09 L333.80,335.10 Z" fill="#e3242b" stroke="#e3242b" stroke-width="0.25" stroke-linejoin="round"/>
<path d="M299.20,348.00 L299.20,348.00 L299.70,347.49 L300.20,348.00 L300.70,347.96 L301.20,347.75 L301.70,347.97 L302.20,347.75 L302.70,347.98 L303.20,347.66 L303.70,347.69 L304.20,347.48 L304.70,347.94 L305.20,347.99 L305.70,347.95 L306.20,347.50 L306.70,348.00 L307.20,347.21 L307.70,347.53 L308.20,347.44 L308.70,348.00 L309.20,347.64 L309.70,348.00 L310.20,347.99 L310.70,347.99 L311.20,347.20 L311.70,347.53 L312.20,347.86 L312.70,347.87 L313.20,347.76 L313.70,345.67 L314.00,344.14 L314.20,345.40 L314.70,342.03 L314.82,341.59 L315.20,345.66 L315.70,347.36 L316.20,343.89 L316.42,342.75 L316.70,344.90 L317.20,348.00 L317.70,347.14 L317.94,346.56 L318.20,347.18 L318.70,347.93 L319.20,346.69 L319.38,345.84 L319.40,346.09 L319.70,347.11 L320.20,345.02 L320.40,344.07 L320.41,343.76 L320.70,342.29 L321.00,337.83 L321.20,340.28 L321.28,341.83 L321.60,345.01 L321.70,345.77 L322.20,346.97 L322.38,346.10 L322.51,346.73 L322.70,347.28 L323.20,344.64 L323.30,343.98 L323.70,346.23 L324.20,347.12 L324.70,343.06 L324.77,342.93 L325.20,346.32 L325.36,345.08 L325.67,341.24 L325.70,342.20 L326.20,346.52 L326.40,345.27 L326.70,343.73 L327.00,340.98 L327.09,341.87 L327.20,342.98 L327.60,345.40 L327.70,343.90 L327.98,341.96 L328.20,344.30 L328.44,346.51 L328.70,347.84 L329.20,346.47 L329.59,344.73 L329.70,345.30 L330.20,347.35 L330.70,344.01 L330.98,341.96 L331.20,344.17 L331.70,348.00 L332.20,348.00 L332.70,347.96 L333.20,347.78 L333.70,348.00 L333.80,348.00 Z" fill="#e3242b" stroke="#e3242b" stroke-width="0.25" stroke-linejoin="round"/>
<path d="M299.20,361.50 L299.20,361.48 L299.70,361.50 L300.20,361.10 L300.70,360.96 L301.20,361.43 L301.70,361.50 L302.20,361.50 L302.70,361.50 L303.20,361.49 L303.70,361.36 L304.20,361.50 L304.70,361.41 L305.20,361.45 L305.70,361.50 L306.20,361.49 L306.70,361.21 L307.20,361.17 L307.70,361.49 L308.20,361.38 L308.70,360.84 L309.20,361.35 L309.70,360.98 L310.20,360.69 L310.70,361.40 L311.20,361.50 L311.70,361.50 L312.20,361.27 L312.70,360.62 L313.20,361.27 L313.70,359.07 L314.00,356.72 L314.20,357.87 L314.70,361.41 L315.20,357.56 L315.29,356.76 L315.70,359.95 L316.20,357.42 L316.42,355.97 L316.70,358.49 L317.16,357.81 L317.20,358.79 L317.70,361.21 L318.20,359.71 L318.41,358.78 L318.70,360.38 L319.20,361.01 L319.57,359.05 L319.70,358.10 L319.71,357.62 L320.20,359.66 L320.40,358.79 L320.70,355.78 L321.00,351.48 L321.20,354.28 L321.23,354.66 L321.60,359.28 L321.70,358.92 L322.20,360.34 L322.45,358.04 L322.70,354.97 L322.75,355.22 L323.20,359.90 L323.66,358.87 L323.70,358.91 L324.20,359.15 L324.30,358.56 L324.70,360.52 L325.18,357.41 L325.20,357.62 L325.62,360.22 L325.70,360.93 L326.20,360.45 L326.40,360.34 L326.70,357.58 L326.85,356.78 L327.00,354.63 L327.20,357.17 L327.60,359.63 L327.70,359.59 L328.20,358.58 L328.24,358.37 L328.68,360.54 L328.70,360.37 L329.20,359.08 L329.22,358.45 L329.70,360.97 L330.20,360.87 L330.70,355.48 L330.75,355.18 L331.20,359.76 L331.59,356.50 L331.70,357.35 L332.20,361.38 L332.70,361.22 L333.20,361.01 L333.70,361.43 L333.80,361.50 Z" fill="#e3242b" stroke="#e3242b" stroke-width="0.25" stroke-linejoin="round"/>
<line x1="159.30" y1="285.40" x2="334.60" y2="285.40" stroke="#333" stroke-width="1.0" />
<line x1="159.30" y1="297.30" x2="334.60" y2="297.30" stroke="#333" stroke-width="1.0" />
<line x1="159.30" y1="310.50" x2="334.60" y2="310.50" stroke="#333" stroke-width="1.0" />
<line x1="159.30" y1="323.40" x2="334.60" y2="323.40" stroke="#333" stroke-width="1.0" />
<line x1="159.30" y1="336.40" x2="334.60" y2="336.40" stroke="#333" stroke-width="1.0" />
<line x1="159.30" y1="349.30" x2="334.60" y2="349.30" stroke="#333" stroke-width="1.0" />
<line x1="159.30" y1="362.80" x2="334.60" y2="362.80" stroke="#333" stroke-width="1.0" />
<line x1="159.30" y1="285.40" x2="159.30" y2="362.80" stroke="#333" stroke-width="1.0" />
<line x1="191.60" y1="285.40" x2="191.60" y2="362.80" stroke="#333" stroke-width="1.0" />
<line x1="226.60" y1="285.40" x2="226.60" y2="362.80" stroke="#333" stroke-width="1.0" />
<line x1="262.50" y1="285.40" x2="262.50" y2="362.80" stroke="#333" stroke-width="1.0" />
<line x1="298.40" y1="285.40" x2="298.40" y2="362.80" stroke="#333" stroke-width="1.0" />
<line x1="334.60" y1="285.40" x2="334.60" y2="362.80" stroke="#333" stroke-width="1.0" />
<line x1="194.20" y1="366.40" x2="224.70" y2="366.40" stroke="#1c1cc8" stroke-width="0.9" />
<path d="M197.20,365.2 L198.50,366.4 L197.20,367.6" fill="none" stroke="#1c1cc8" stroke-width="0.6"/>
<path d="M201.40,365.2 L202.70,366.4 L201.40,367.6" fill="none" stroke="#1c1cc8" stroke-width="0.6"/>
<path d="M205.60,365.2 L206.90,366.4 L205.60,367.6" fill="none" stroke="#1c1cc8" stroke-width="0.6"/>
<path d="M209.80,365.2 L211.10,366.4 L209.80,367.6" fill="none" stroke="#1c1cc8" stroke-width="0.6"/>
<path d="M214.00,365.2 L215.30,366.4 L214.00,367.6" fill="none" stroke="#1c1cc8" stroke-width="0.6"/>
<path d="M218.20,365.2 L219.50,366.4 L218.20,367.6" fill="none" stroke="#1c1cc8" stroke-width="0.6"/>
<path d="M222.40,365.2 L223.70,366.4 L222.40,367.6" fill="none" stroke="#1c1cc8" stroke-width="0.6"/>
<rect x="195.80" y="364.40" width="2.60" height="4.00" rx="0.91" fill="#1c1cc8"/>
<rect x="202.60" y="365.10" width="1.20" height="2.60" rx="0.42" fill="#1c1cc8"/>
<rect x="210.20" y="365.10" width="1.20" height="2.60" rx="0.42" fill="#1c1cc8"/>
<rect x="216.40" y="365.10" width="1.20" height="2.60" rx="0.42" fill="#1c1cc8"/>
<rect x="220.60" y="365.10" width="1.20" height="2.60" rx="0.42" fill="#1c1cc8"/>
<text x="203.00" y="373.68" font-size="5.8" fill="#231f20" stroke="#231f20" stroke-width="0.04" font-weight="normal" textLength="15.50" lengthAdjust="spacingAndGlyphs" >MEIS1</text>
<line x1="228.20" y1="366.40" x2="259.50" y2="366.40" stroke="#1c1cc8" stroke-width="0.9" />
<path d="M231.20,365.2 L232.50,366.4 L231.20,367.6" fill="none" stroke="#1c1cc8" stroke-width="0.6"/>
<path d="M235.40,365.2 L236.70,366.4 L235.40,367.6" fill="none" stroke="#1c1cc8" stroke-width="0.6"/>
<path d="M239.60,365.2 L240.90,366.4 L239.60,367.6" fill="none" stroke="#1c1cc8" stroke-width="0.6"/>
<path d="M243.80,365.2 L245.10,366.4 L243.80,367.6" fill="none" stroke="#1c1cc8" stroke-width="0.6"/>
<path d="M248.00,365.2 L249.30,366.4 L248.00,367.6" fill="none" stroke="#1c1cc8" stroke-width="0.6"/>
<path d="M252.20,365.2 L253.50,366.4 L252.20,367.6" fill="none" stroke="#1c1cc8" stroke-width="0.6"/>
<path d="M256.40,365.2 L257.70,366.4 L256.40,367.6" fill="none" stroke="#1c1cc8" stroke-width="0.6"/>
<rect x="228.20" y="364.40" width="3.50" height="4.00" rx="1.22" fill="#1c1cc8"/>
<rect x="250.50" y="365.10" width="1.00" height="2.60" rx="0.35" fill="#1c1cc8"/>
<rect x="254.00" y="365.10" width="1.00" height="2.60" rx="0.35" fill="#1c1cc8"/>
<rect x="257.50" y="364.90" width="1.40" height="3.00" rx="0.49" fill="#1c1cc8"/>
<text x="235.70" y="373.68" font-size="5.8" fill="#231f20" stroke="#231f20" stroke-width="0.04" font-weight="normal" textLength="20.80" lengthAdjust="spacingAndGlyphs" >JMJD1C</text>
<line x1="265.50" y1="366.40" x2="297.00" y2="366.40" stroke="#1c1cc8" stroke-width="0.9" />
<path d="M268.50,365.2 L269.80,366.4 L268.50,367.6" fill="none" stroke="#1c1cc8" stroke-width="0.6"/>
<path d="M272.70,365.2 L274.00,366.4 L272.70,367.6" fill="none" stroke="#1c1cc8" stroke-width="0.6"/>
<path d="M276.90,365.2 L278.20,366.4 L276.90,367.6" fill="none" stroke="#1c1cc8" stroke-width="0.6"/>
<path d="M281.10,365.2 L282.40,366.4 L281.10,367.6" fill="none" stroke="#1c1cc8" stroke-width="0.6"/>
<path d="M285.30,365.2 L286.60,366.4 L285.30,367.6" fill="none" stroke="#1c1cc8" stroke-width="0.6"/>
<path d="M289.50,365.2 L290.80,366.4 L289.50,367.6" fill="none" stroke="#1c1cc8" stroke-width="0.6"/>
<path d="M293.70,365.2 L295.00,366.4 L293.70,367.6" fill="none" stroke="#1c1cc8" stroke-width="0.6"/>
<rect x="265.50" y="364.90" width="1.00" height="3.00" rx="0.35" fill="#1c1cc8"/>
<rect x="290.00" y="365.10" width="1.00" height="2.60" rx="0.35" fill="#1c1cc8"/>
<rect x="293.00" y="364.90" width="1.20" height="3.00" rx="0.42" fill="#1c1cc8"/>
<rect x="296.00" y="364.90" width="1.00" height="3.00" rx="0.35" fill="#1c1cc8"/>
<text x="275.00" y="373.68" font-size="5.8" fill="#231f20" stroke="#231f20" stroke-width="0.04" font-weight="normal" textLength="13.50" lengthAdjust="spacingAndGlyphs" >PBX3</text>
<line x1="300.50" y1="366.40" x2="333.00" y2="366.40" stroke="#1c1cc8" stroke-width="0.9" />
<path d="M303.50,365.2 L304.80,366.4 L303.50,367.6" fill="none" stroke="#1c1cc8" stroke-width="0.6"/>
<path d="M307.70,365.2 L309.00,366.4 L307.70,367.6" fill="none" stroke="#1c1cc8" stroke-width="0.6"/>
<path d="M311.90,365.2 L313.20,366.4 L311.90,367.6" fill="none" stroke="#1c1cc8" stroke-width="0.6"/>
<path d="M316.10,365.2 L317.40,366.4 L316.10,367.6" fill="none" stroke="#1c1cc8" stroke-width="0.6"/>
<path d="M320.30,365.2 L321.60,366.4 L320.30,367.6" fill="none" stroke="#1c1cc8" stroke-width="0.6"/>
<path d="M324.50,365.2 L325.80,366.4 L324.50,367.6" fill="none" stroke="#1c1cc8" stroke-width="0.6"/>
<path d="M328.70,365.2 L330.00,366.4 L328.70,367.6" fill="none" stroke="#1c1cc8" stroke-width="0.6"/>
<rect x="301.00" y="364.90" width="1.20" height="3.00" rx="0.42" fill="#1c1cc8"/>
<rect x="303.50" y="364.90" width="1.20" height="3.00" rx="0.42" fill="#1c1cc8"/>
<rect x="306.00" y="364.90" width="1.20" height="3.00" rx="0.42" fill="#1c1cc8"/>
<rect x="315.00" y="364.80" width="1.60" height="3.20" rx="0.56" fill="#1c1cc8"/>
<rect x="318.50" y="364.80" width="1.60" height="3.20" rx="0.56" fill="#1c1cc8"/>
<rect x="322.00" y="364.80" width="1.60" height="3.20" rx="0.56" fill="#1c1cc8"/>
<rect x="325.50" y="364.80" width="1.60" height="3.20" rx="0.56" fill="#1c1cc8"/>
<rect x="329.00" y="364.80" width="1.60" height="3.20" rx="0.56" fill="#1c1cc8"/>
<rect x="332.00" y="364.70" width="1.40" height="3.40" rx="0.49" fill="#1c1cc8"/>
<text x="300.30" y="373.68" font-size="5.8" fill="#231f20" stroke="#231f20" stroke-width="0.04" font-weight="normal" textLength="33.20" lengthAdjust="spacingAndGlyphs" >HOXA-cluster</text>
<text x="349.80" y="280.73" font-size="6.8" fill="#231f20" stroke="#231f20" stroke-width="0.1" font-weight="normal" textLength="124.60" lengthAdjust="spacingAndGlyphs" >Menin-ChIPseq (4 days of drug treatment)</text>
<rect x="342.90" y="287.30" width="32.00" height="8.70" fill="#f3f3f3" stroke="none" stroke-width="1" />
<rect x="342.90" y="299.20" width="32.00" height="10.00" fill="#f3f3f3" stroke="none" stroke-width="1" />
<rect x="342.90" y="312.40" width="32.00" height="9.70" fill="#f3f3f3" stroke="none" stroke-width="1" />
<rect x="342.90" y="325.30" width="32.00" height="9.80" fill="#f3f3f3" stroke="none" stroke-width="1" />
<rect x="342.90" y="338.30" width="32.00" height="9.70" fill="#f3f3f3" stroke="none" stroke-width="1" />
<rect x="342.90" y="351.20" width="32.00" height="10.30" fill="#f3f3f3" stroke="none" stroke-width="1" />
<rect x="378.30" y="287.30" width="32.70" height="8.70" fill="#f3f3f3" stroke="none" stroke-width="1" />
<rect x="378.30" y="299.20" width="32.70" height="10.00" fill="#f3f3f3" stroke="none" stroke-width="1" />
<rect x="378.30" y="312.40" width="32.70" height="9.70" fill="#f3f3f3" stroke="none" stroke-width="1" />
<rect x="378.30" y="325.30" width="32.70" height="9.80" fill="#f3f3f3" stroke="none" stroke-width="1" />
<rect x="378.30" y="338.30" width="32.70" height="9.70" fill="#f3f3f3" stroke="none" stroke-width="1" />
<rect x="378.30" y="351.20" width="32.70" height="10.30" fill="#f3f3f3" stroke="none" stroke-width="1" />
<rect x="414.40" y="287.30" width="30.70" height="8.70" fill="#f3f3f3" stroke="none" stroke-width="1" />
<rect x="414.40" y="299.20" width="30.70" height="10.00" fill="#f3f3f3" stroke="none" stroke-width="1" />
<rect x="414.40" y="312.40" width="30.70" height="9.70" fill="#f3f3f3" stroke="none" stroke-width="1" />
<rect x="414.40" y="325.30" width="30.70" height="9.80" fill="#f3f3f3" stroke="none" stroke-width="1" />
<rect x="414.40" y="338.30" width="30.70" height="9.70" fill="#f3f3f3" stroke="none" stroke-width="1" />
<rect x="414.40" y="351.20" width="30.70" height="10.30" fill="#f3f3f3" stroke="none" stroke-width="1" />
<rect x="448.50" y="287.30" width="32.80" height="8.70" fill="#f3f3f3" stroke="none" stroke-width="1" />
<rect x="448.50" y="299.20" width="32.80" height="10.00" fill="#f3f3f3" stroke="none" stroke-width="1" />
<rect x="448.50" y="312.40" width="32.80" height="9.70" fill="#f3f3f3" stroke="none" stroke-width="1" />
<rect x="448.50" y="325.30" width="32.80" height="9.80" fill="#f3f3f3" stroke="none" stroke-width="1" />
<rect x="448.50" y="338.30" width="32.80" height="9.70" fill="#f3f3f3" stroke="none" stroke-width="1" />
<rect x="448.50" y="351.20" width="32.80" height="10.30" fill="#f3f3f3" stroke="none" stroke-width="1" />
<path d="M342.00,296.00 L342.00,296.00 L342.50,295.99 L343.00,295.43 L343.50,296.00 L344.00,294.98 L344.50,295.97 L345.00,296.00 L345.50,295.86 L346.00,295.99 L346.50,296.00 L347.00,295.97 L347.50,295.84 L348.00,295.99 L348.50,295.01 L349.00,295.96 L349.50,295.45 L350.00,295.93 L350.50,296.00 L351.00,295.87 L351.50,295.48 L352.00,295.82 L352.50,295.58 L353.00,296.00 L353.50,296.00 L354.00,296.00 L354.50,295.81 L355.00,294.98 L355.50,295.91 L356.00,295.12 L356.50,296.00 L357.00,295.98 L357.50,295.51 L358.00,295.22 L358.50,295.20 L359.00,296.00 L359.50,295.75 L360.00,295.98 L360.50,295.33 L361.00,295.69 L361.50,295.48 L362.00,295.23 L362.50,294.47 L363.00,295.84 L363.50,294.42 L364.00,295.96 L364.50,294.90 L365.00,296.00 L365.50,295.41 L366.00,294.85 L366.50,295.73 L367.00,295.92 L367.50,295.10 L368.00,295.14 L368.50,295.42 L369.00,295.93 L369.50,295.78 L370.00,296.00 L370.50,295.76 L371.00,295.95 L371.50,295.51 L372.00,296.00 L372.50,295.86 L373.00,296.00 L373.50,295.93 L374.00,294.50 L374.50,295.30 L375.00,295.57 L375.50,295.92 L375.80,296.00 Z" fill="#222" stroke="#222" stroke-width="0.25" stroke-linejoin="round"/>
<path d="M342.00,309.20 L342.00,309.06 L342.50,308.48 L343.00,309.05 L343.50,307.40 L344.00,309.20 L344.50,308.93 L344.90,307.70 L345.00,307.23 L345.50,307.79 L345.70,307.56 L346.00,303.07 L346.30,299.14 L346.50,301.38 L346.90,302.45 L347.00,303.47 L347.50,307.37 L347.92,304.78 L348.00,305.86 L348.50,308.07 L348.97,306.68 L349.00,306.85 L349.50,308.68 L350.00,307.84 L350.09,306.43 L350.50,308.30 L350.77,307.21 L351.00,306.77 L351.50,308.68 L351.66,307.76 L352.00,308.62 L352.39,308.67 L352.50,308.73 L353.00,308.71 L353.10,308.71 L353.50,307.75 L353.84,308.91 L354.00,308.06 L354.50,308.87 L354.55,307.32 L355.00,307.26 L355.50,309.19 L356.00,308.11 L356.50,309.20 L357.00,309.09 L357.35,307.74 L357.50,308.98 L358.00,308.93 L358.30,308.73 L358.50,305.99 L358.90,304.93 L359.00,304.84 L359.50,308.34 L360.00,308.92 L360.42,308.35 L360.50,309.01 L361.00,308.73 L361.50,309.19 L362.00,309.19 L362.50,308.33 L363.00,309.17 L363.50,307.27 L364.00,308.60 L364.50,308.77 L365.00,308.67 L365.50,309.13 L365.92,307.34 L366.00,309.11 L366.50,307.16 L366.70,308.14 L367.00,307.05 L367.30,305.88 L367.50,306.94 L367.90,308.34 L368.00,308.39 L368.50,308.55 L369.00,308.99 L369.04,308.04 L369.50,308.48 L370.00,309.20 L370.50,309.20 L371.00,307.99 L371.50,308.89 L372.00,309.20 L372.50,308.90 L373.00,308.87 L373.50,308.49 L374.00,308.98 L374.50,307.59 L375.00,309.20 L375.50,307.80 L375.80,309.20 Z" fill="#1f1fd6" stroke="#1f1fd6" stroke-width="0.25" stroke-linejoin="round"/>
<path d="M342.00,322.10 L342.00,321.97 L342.50,322.02 L343.00,322.08 L343.50,322.10 L344.00,322.01 L344.50,321.83 L345.00,322.08 L345.50,321.92 L346.00,322.10 L346.50,322.06 L347.00,322.10 L347.50,322.06 L348.00,322.03 L348.50,321.91 L349.00,322.06 L349.50,321.90 L350.00,322.09 L350.50,322.10 L351.00,322.07 L351.50,321.99 L352.00,321.99 L352.50,322.10 L353.00,322.10 L353.50,322.10 L354.00,322.07 L354.50,321.91 L355.00,322.09 L355.50,322.10 L356.00,321.88 L356.50,321.90 L357.00,321.96 L357.50,322.10 L358.00,322.09 L358.50,322.10 L359.00,321.87 L359.50,322.10 L360.00,322.10 L360.50,322.10 L361.00,321.95 L361.50,322.10 L362.00,321.81 L362.50,322.09 L363.00,322.02 L363.50,322.10 L364.00,322.09 L364.50,321.91 L365.00,321.80 L365.50,322.10 L366.00,322.09 L366.50,322.10 L367.00,322.10 L367.50,322.08 L368.00,322.06 L368.50,322.04 L369.00,322.09 L369.50,322.10 L370.00,322.05 L370.50,322.09 L371.00,322.09 L371.50,321.82 L372.00,322.04 L372.50,322.10 L373.00,321.84 L373.50,321.83 L374.00,322.08 L374.50,321.82 L375.00,322.10 L375.50,321.87 L375.80,322.10 Z" fill="#b0b0b0" stroke="#b0b0b0" stroke-width="0.25" stroke-linejoin="round"/>
<path d="M342.00,335.10 L342.00,335.10 L342.50,334.64 L343.00,334.07 L343.50,335.06 L344.00,334.91 L344.50,334.79 L344.59,334.76 L345.00,333.46 L345.50,333.85 L345.70,332.65 L346.00,329.10 L346.30,323.90 L346.50,327.60 L346.90,327.10 L347.00,329.00 L347.50,332.76 L347.86,330.36 L348.00,331.30 L348.50,332.71 L348.82,332.01 L349.00,332.95 L349.50,334.48 L349.89,333.59 L350.00,333.29 L350.50,333.28 L350.55,333.46 L351.00,333.55 L351.22,332.70 L351.50,333.04 L352.00,333.16 L352.41,333.26 L352.50,332.99 L353.00,334.20 L353.17,334.18 L353.50,334.57 L353.89,334.70 L354.00,333.80 L354.50,334.90 L354.67,333.64 L355.00,334.88 L355.50,335.10 L356.00,334.00 L356.50,334.89 L357.00,335.10 L357.50,334.11 L358.00,334.20 L358.50,333.89 L359.00,334.92 L359.50,335.09 L360.00,335.08 L360.50,334.82 L361.00,334.55 L361.50,334.79 L362.00,335.07 L362.50,335.09 L363.00,333.44 L363.50,333.31 L364.00,333.60 L364.50,334.85 L365.00,335.10 L365.50,335.00 L365.69,334.68 L366.00,333.67 L366.40,333.92 L366.50,334.24 L367.00,330.72 L367.50,333.77 L367.60,334.20 L368.00,333.95 L368.50,334.83 L368.56,334.65 L369.00,335.04 L369.50,335.10 L370.00,333.65 L370.50,334.96 L371.00,334.21 L371.50,335.01 L372.00,334.99 L372.50,335.10 L373.00,333.80 L373.50,335.07 L374.00,334.29 L374.50,335.09 L375.00,335.05 L375.50,335.10 L375.80,335.10 Z" fill="#e3242b" stroke="#e3242b" stroke-width="0.25" stroke-linejoin="round"/>
<path d="M342.00,348.00 L342.00,347.73 L342.50,347.85 L343.00,346.44 L343.50,347.99 L344.00,347.75 L344.37,346.41 L344.50,346.80 L345.00,346.55 L345.05,346.24 L345.50,346.49 L345.70,345.35 L346.00,342.05 L346.30,336.80 L346.50,339.19 L346.90,341.43 L347.00,341.51 L347.50,343.19 L347.59,342.45 L348.00,345.03 L348.24,344.55 L348.50,345.75 L349.00,346.29 L349.24,345.41 L349.50,344.84 L350.00,347.02 L350.36,346.21 L350.50,346.22 L351.00,345.85 L351.05,346.62 L351.50,347.31 L351.83,347.33 L352.00,347.03 L352.50,346.92 L352.53,347.29 L353.00,346.24 L353.36,347.64 L353.50,346.49 L354.00,346.13 L354.44,347.05 L354.50,347.67 L355.00,347.69 L355.50,347.91 L356.00,347.07 L356.50,347.19 L357.00,347.99 L357.50,347.90 L358.00,347.21 L358.50,347.99 L359.00,347.24 L359.50,347.69 L360.00,347.99 L360.50,347.91 L361.00,346.70 L361.50,348.00 L362.00,347.81 L362.50,346.27 L363.00,347.96 L363.50,347.12 L364.00,347.88 L364.50,346.55 L365.00,346.49 L365.36,347.19 L365.50,347.94 L366.00,346.25 L366.40,347.24 L366.50,346.21 L367.00,344.47 L367.50,346.72 L367.60,347.03 L368.00,346.83 L368.47,346.12 L368.50,346.64 L369.00,346.93 L369.50,347.97 L370.00,347.97 L370.50,347.26 L371.00,347.83 L371.50,346.72 L372.00,347.77 L372.50,346.38 L373.00,348.00 L373.50,346.55 L374.00,347.96 L374.50,347.26 L375.00,347.63 L375.50,347.54 L375.80,348.00 Z" fill="#e3242b" stroke="#e3242b" stroke-width="0.25" stroke-linejoin="round"/>
<path d="M342.00,361.50 L342.00,361.30 L342.50,360.85 L343.00,359.71 L343.50,359.79 L344.00,361.44 L344.50,361.28 L344.67,359.68 L345.00,361.33 L345.50,359.39 L345.70,359.33 L346.00,355.56 L346.30,350.82 L346.50,352.80 L346.90,354.46 L347.00,355.40 L347.50,356.21 L347.64,355.90 L348.00,358.92 L348.50,359.58 L348.55,359.51 L349.00,360.02 L349.50,359.81 L349.59,360.12 L350.00,360.71 L350.50,359.99 L350.77,359.34 L351.00,360.07 L351.49,360.22 L351.50,360.38 L352.00,359.57 L352.29,360.68 L352.50,361.02 L352.89,361.13 L353.00,361.13 L353.50,361.28 L353.87,361.26 L354.00,361.24 L354.50,360.26 L354.67,361.37 L355.00,361.43 L355.50,361.48 L356.00,361.49 L356.50,359.79 L357.00,360.46 L357.50,360.49 L358.00,361.50 L358.50,360.95 L359.00,360.80 L359.50,361.49 L360.00,361.47 L360.50,361.26 L361.00,361.38 L361.50,361.38 L362.00,361.24 L362.50,360.63 L363.00,360.68 L363.50,360.30 L364.00,360.54 L364.50,361.49 L365.00,361.05 L365.50,361.34 L365.62,361.05 L366.00,361.05 L366.40,359.26 L366.50,360.46 L367.00,358.30 L367.50,360.60 L367.60,360.32 L368.00,360.72 L368.50,361.43 L368.80,359.81 L369.00,361.18 L369.50,361.48 L370.00,360.46 L370.50,361.50 L371.00,360.86 L371.50,361.40 L372.00,360.01 L372.50,361.50 L373.00,360.20 L373.50,361.05 L374.00,360.85 L374.50,361.37 L375.00,361.44 L375.50,361.12 L375.80,361.50 Z" fill="#e3242b" stroke="#e3242b" stroke-width="0.25" stroke-linejoin="round"/>
<path d="M377.40,296.00 L377.40,295.94 L377.90,295.68 L378.40,295.62 L378.90,295.93 L379.40,296.00 L379.90,296.00 L380.40,295.98 L380.90,296.00 L381.40,296.00 L381.90,295.84 L382.40,295.89 L382.90,295.39 L383.40,296.00 L383.90,296.00 L384.40,296.00 L384.90,295.93 L385.40,296.00 L385.90,295.53 L386.40,295.80 L386.90,295.00 L387.40,295.98 L387.90,295.13 L388.40,295.96 L388.90,295.53 L389.40,295.40 L389.90,295.97 L390.40,295.97 L390.90,296.00 L391.40,295.73 L391.90,295.87 L392.40,295.74 L392.90,296.00 L393.40,296.00 L393.90,295.60 L394.40,295.98 L394.90,295.04 L395.40,295.69 L395.90,295.99 L396.40,295.49 L396.90,295.53 L397.40,295.84 L397.90,295.12 L398.40,295.27 L398.90,295.52 L399.40,295.43 L399.90,295.65 L400.40,295.83 L400.90,295.96 L401.40,295.85 L401.90,295.94 L402.40,295.97 L402.90,295.65 L403.40,295.42 L403.90,296.00 L404.40,296.00 L404.90,295.78 L405.40,295.82 L405.90,296.00 L406.40,295.49 L406.90,296.00 L407.40,295.04 L407.90,295.64 L408.40,295.01 L408.90,295.78 L409.40,295.76 L409.90,295.89 L410.40,295.24 L410.90,295.53 L411.40,296.00 L411.90,296.00 Z" fill="#222" stroke="#222" stroke-width="0.25" stroke-linejoin="round"/>
<path d="M377.40,309.20 L377.40,309.20 L377.90,309.04 L378.40,309.18 L378.90,309.19 L379.40,308.74 L379.90,308.89 L380.40,308.46 L380.90,308.10 L381.40,309.18 L381.90,309.02 L382.40,309.05 L382.70,309.00 L382.90,309.02 L383.40,308.62 L383.90,306.50 L384.00,305.81 L384.40,306.80 L384.60,307.29 L384.90,308.58 L385.40,309.08 L385.63,308.10 L385.90,308.15 L386.40,309.01 L386.90,309.19 L387.40,309.20 L387.90,309.20 L388.40,308.19 L388.90,308.65 L389.40,308.98 L389.90,308.90 L390.40,309.15 L390.90,309.04 L391.40,309.19 L391.90,306.03 L392.00,305.66 L392.40,307.87 L392.90,309.04 L393.40,308.14 L393.41,308.12 L393.90,308.45 L394.40,308.17 L394.63,307.44 L394.90,305.70 L394.99,305.62 L395.40,307.97 L395.65,308.56 L395.90,306.97 L396.30,304.85 L396.40,304.93 L396.90,303.23 L397.00,303.19 L397.28,304.70 L397.40,305.73 L397.60,306.51 L397.90,308.33 L398.40,308.05 L398.43,308.00 L398.63,307.63 L398.90,308.31 L399.18,308.89 L399.40,308.80 L399.84,306.45 L399.90,306.10 L400.00,305.84 L400.40,307.08 L400.90,308.86 L401.40,305.57 L401.51,304.02 L401.90,306.67 L402.40,308.24 L402.83,305.65 L402.90,306.15 L403.40,308.49 L403.90,308.94 L404.40,309.19 L404.90,308.94 L405.40,308.41 L405.90,308.96 L406.40,309.14 L406.90,309.19 L407.40,309.20 L407.90,309.15 L408.40,308.49 L408.90,309.13 L409.40,309.20 L409.90,309.20 L410.40,308.10 L410.90,308.05 L411.40,309.20 L411.90,309.20 Z" fill="#1f1fd6" stroke="#1f1fd6" stroke-width="0.25" stroke-linejoin="round"/>
<path d="M377.40,322.10 L377.40,322.08 L377.90,321.82 L378.40,321.99 L378.90,322.10 L379.40,322.05 L379.90,322.10 L380.40,322.10 L380.90,321.93 L381.40,321.81 L381.90,322.06 L382.40,322.02 L382.90,322.10 L383.40,322.10 L383.90,322.09 L384.40,322.10 L384.90,321.96 L385.40,322.10 L385.90,322.07 L386.40,322.10 L386.90,322.10 L387.40,322.09 L387.90,322.06 L388.40,322.09 L388.90,322.05 L389.40,322.03 L389.90,322.10 L390.40,322.05 L390.90,322.10 L391.40,322.02 L391.90,321.94 L392.40,321.85 L392.90,321.90 L393.40,322.04 L393.90,321.85 L394.40,322.00 L394.90,322.01 L395.40,322.10 L395.90,322.10 L396.40,322.09 L396.90,321.89 L397.40,321.88 L397.90,321.93 L398.40,322.07 L398.90,322.10 L399.40,322.08 L399.90,321.85 L400.40,322.10 L400.90,321.90 L401.40,322.03 L401.90,322.05 L402.40,322.09 L402.90,322.09 L403.40,322.10 L403.90,321.94 L404.40,322.10 L404.90,322.08 L405.40,322.02 L405.90,322.09 L406.40,322.10 L406.90,321.80 L407.40,322.09 L407.90,321.81 L408.40,322.05 L408.90,321.99 L409.40,322.08 L409.90,322.05 L410.40,322.08 L410.90,321.94 L411.40,322.10 L411.90,322.10 Z" fill="#b0b0b0" stroke="#b0b0b0" stroke-width="0.25" stroke-linejoin="round"/>
<path d="M377.40,335.10 L377.40,334.36 L377.90,334.80 L378.40,334.70 L378.90,334.92 L379.40,334.16 L379.90,334.78 L380.40,335.00 L380.90,333.70 L381.40,334.81 L381.67,334.97 L381.90,334.91 L382.40,333.64 L382.90,331.93 L383.00,331.93 L383.40,333.46 L383.60,333.98 L383.90,334.47 L384.39,334.74 L384.40,334.30 L384.90,334.84 L385.30,334.13 L385.40,334.58 L385.90,334.97 L386.10,334.57 L386.40,335.04 L386.90,335.00 L387.40,334.53 L387.90,334.88 L388.40,335.10 L388.90,335.10 L389.40,334.39 L389.90,334.75 L390.40,335.10 L390.90,334.09 L391.40,335.05 L391.90,334.98 L392.40,335.10 L392.90,334.55 L393.40,335.02 L393.90,334.96 L393.92,333.56 L394.40,334.88 L394.90,333.92 L395.00,333.66 L395.40,331.32 L395.60,330.10 L395.90,332.17 L396.20,333.41 L396.40,333.61 L396.90,334.90 L397.23,334.71 L397.26,334.59 L397.40,334.00 L397.90,333.43 L398.10,333.46 L398.40,329.40 L398.70,326.09 L398.90,328.67 L399.30,332.81 L399.40,333.14 L399.90,334.73 L400.13,334.67 L400.40,333.94 L400.69,334.01 L400.90,334.85 L401.03,334.87 L401.40,333.54 L401.70,332.77 L401.90,329.90 L402.30,325.82 L402.40,327.36 L402.90,332.43 L403.40,334.07 L403.55,334.21 L403.90,334.11 L404.40,334.86 L404.52,334.69 L404.90,333.73 L405.40,335.10 L405.90,335.09 L406.40,334.78 L406.90,335.10 L407.40,334.58 L407.90,335.10 L408.40,335.06 L408.90,334.44 L409.40,334.75 L409.90,333.77 L410.40,334.84 L410.90,335.08 L411.40,335.10 L411.90,335.10 Z" fill="#e3242b" stroke="#e3242b" stroke-width="0.25" stroke-linejoin="round"/>
<path d="M377.40,348.00 L377.40,347.65 L377.90,347.70 L378.40,347.89 L378.90,347.11 L379.40,347.72 L379.90,347.03 L380.40,348.00 L380.90,347.92 L381.40,346.60 L381.59,347.77 L381.90,346.79 L382.40,347.18 L382.90,344.46 L383.00,344.55 L383.40,346.70 L383.60,346.98 L383.90,347.41 L384.33,347.64 L384.40,346.74 L384.90,347.59 L385.06,347.53 L385.40,347.10 L385.90,348.00 L386.40,347.26 L386.90,348.00 L387.40,347.47 L387.90,347.57 L388.40,347.93 L388.90,346.89 L389.40,347.95 L389.90,347.86 L390.40,347.29 L390.90,347.11 L391.40,347.53 L391.90,347.32 L392.40,347.99 L392.90,347.92 L393.40,347.96 L393.90,347.84 L394.24,347.41 L394.40,347.74 L394.90,346.92 L395.00,346.73 L395.40,343.44 L395.60,341.76 L395.90,345.13 L396.20,345.71 L396.40,346.81 L396.83,347.36 L396.90,347.32 L397.40,347.56 L397.41,347.30 L397.90,346.07 L397.92,346.85 L398.10,346.70 L398.40,343.96 L398.70,340.63 L398.90,342.95 L399.30,345.79 L399.40,346.07 L399.90,347.50 L400.32,346.43 L400.40,347.61 L400.90,347.60 L401.04,347.27 L401.09,347.56 L401.40,346.98 L401.70,346.22 L401.90,344.13 L402.30,339.85 L402.40,340.45 L402.90,346.21 L403.40,347.41 L403.74,347.41 L403.90,347.47 L404.36,347.62 L404.40,347.77 L404.90,347.96 L405.40,347.84 L405.90,347.03 L406.40,347.99 L406.90,347.40 L407.40,346.62 L407.90,347.98 L408.40,347.97 L408.90,347.98 L409.40,347.36 L409.90,347.78 L410.40,348.00 L410.90,346.85 L411.40,346.63 L411.90,348.00 Z" fill="#e3242b" stroke="#e3242b" stroke-width="0.25" stroke-linejoin="round"/>
<path d="M377.40,361.50 L377.40,361.23 L377.90,361.32 L378.40,361.32 L378.90,361.29 L379.40,361.28 L379.90,360.80 L380.40,361.50 L380.90,360.84 L381.25,360.80 L381.40,361.29 L381.90,360.03 L382.40,359.70 L382.90,358.92 L383.00,358.49 L383.40,360.21 L383.60,360.66 L383.90,360.84 L384.22,360.29 L384.40,360.39 L384.90,361.41 L385.23,360.61 L385.40,361.32 L385.90,361.14 L386.19,361.26 L386.40,361.45 L386.90,361.47 L387.40,361.32 L387.90,361.50 L388.40,361.50 L388.90,361.50 L389.40,360.85 L389.90,360.92 L390.40,361.45 L390.90,361.50 L391.40,360.78 L391.90,361.49 L392.40,361.50 L392.90,360.94 L393.40,361.30 L393.90,361.21 L393.92,360.46 L394.40,361.37 L394.90,360.59 L395.00,360.63 L395.40,356.71 L395.60,356.48 L395.90,358.64 L396.20,360.37 L396.40,360.74 L396.90,361.14 L397.06,361.14 L397.21,361.21 L397.40,360.94 L397.90,359.94 L397.91,359.87 L398.10,359.21 L398.40,356.93 L398.70,353.43 L398.90,355.00 L399.30,358.53 L399.40,358.37 L399.90,360.97 L399.99,359.56 L400.40,361.24 L400.55,361.31 L400.62,360.90 L400.90,361.04 L401.40,360.30 L401.70,359.70 L401.90,357.11 L402.30,353.49 L402.40,354.64 L402.90,359.40 L403.40,360.94 L403.90,360.97 L403.91,360.93 L404.40,360.67 L404.90,361.41 L405.40,361.36 L405.90,360.99 L406.40,361.49 L406.90,361.19 L407.40,361.47 L407.90,360.99 L408.40,361.49 L408.90,360.87 L409.40,361.50 L409.90,361.48 L410.40,360.57 L410.90,361.26 L411.40,361.41 L411.90,361.50 Z" fill="#e3242b" stroke="#e3242b" stroke-width="0.25" stroke-linejoin="round"/>
<path d="M413.50,296.00 L413.50,295.58 L414.00,295.99 L414.50,295.98 L415.00,295.98 L415.50,295.94 L416.00,295.88 L416.50,295.64 L417.00,295.99 L417.50,295.28 L418.00,295.94 L418.50,295.94 L419.00,295.99 L419.50,295.80 L420.00,295.71 L420.50,295.99 L421.00,295.65 L421.50,295.85 L422.00,295.97 L422.50,295.97 L423.00,296.00 L423.50,295.55 L424.00,295.01 L424.50,295.63 L425.00,295.99 L425.50,295.97 L426.00,295.59 L426.50,296.00 L427.00,295.80 L427.50,295.72 L428.00,295.85 L428.50,295.99 L429.00,296.00 L429.50,296.00 L430.00,295.30 L430.50,295.45 L431.00,295.94 L431.50,295.95 L432.00,295.77 L432.50,295.88 L433.00,295.98 L433.50,295.74 L434.00,295.95 L434.50,295.56 L435.00,295.79 L435.50,295.98 L436.00,295.86 L436.50,295.80 L437.00,295.86 L437.50,295.52 L438.00,295.75 L438.50,295.94 L439.00,295.19 L439.50,296.00 L440.00,295.92 L440.50,295.61 L441.00,296.00 L441.50,296.00 L442.00,295.27 L442.50,295.98 L443.00,295.97 L443.50,295.63 L444.00,295.78 L444.50,295.99 L445.00,295.24 L445.50,295.99 L446.00,296.00 L446.00,296.00 Z" fill="#222" stroke="#222" stroke-width="0.25" stroke-linejoin="round"/>
<path d="M413.50,309.20 L413.50,307.84 L413.60,308.06 L414.00,304.18 L414.20,301.85 L414.50,304.07 L414.80,305.77 L415.00,307.74 L415.50,308.58 L415.86,308.60 L416.00,306.65 L416.50,307.98 L416.73,308.95 L417.00,306.82 L417.37,309.06 L417.50,308.46 L418.00,309.07 L418.50,309.20 L419.00,308.50 L419.50,308.05 L420.00,309.19 L420.50,307.24 L421.00,308.90 L421.50,309.20 L422.00,309.19 L422.50,309.20 L423.00,307.02 L423.50,309.06 L424.00,309.18 L424.50,309.20 L425.00,308.67 L425.41,309.13 L425.50,309.03 L426.00,308.88 L426.49,308.91 L426.50,308.21 L427.00,308.30 L427.20,308.41 L427.50,305.20 L427.80,305.91 L428.00,306.40 L428.40,308.24 L428.50,308.24 L429.00,307.03 L429.50,306.58 L429.56,308.96 L430.00,307.19 L430.50,309.03 L430.61,308.24 L431.00,308.95 L431.50,307.83 L432.00,308.74 L432.50,308.95 L432.73,306.94 L433.00,308.44 L433.40,306.43 L433.50,306.02 L434.00,300.01 L434.50,304.39 L434.60,301.10 L435.00,306.78 L435.50,306.18 L435.61,305.69 L436.00,306.79 L436.50,307.73 L436.53,307.04 L437.00,308.34 L437.30,308.56 L437.50,308.72 L438.00,309.00 L438.49,308.25 L438.50,308.24 L439.00,308.86 L439.11,308.92 L439.50,308.57 L440.00,309.17 L440.50,307.90 L441.00,308.03 L441.50,309.14 L442.00,307.37 L442.50,308.53 L443.00,308.06 L443.50,309.06 L444.00,309.15 L444.50,306.97 L445.00,309.15 L445.50,308.52 L446.00,308.99 L446.00,309.20 Z" fill="#1f1fd6" stroke="#1f1fd6" stroke-width="0.25" stroke-linejoin="round"/>
<path d="M413.50,322.10 L413.50,321.96 L414.00,322.10 L414.50,322.09 L415.00,322.10 L415.50,322.10 L416.00,321.98 L416.50,322.07 L417.00,322.10 L417.50,322.10 L418.00,321.85 L418.50,322.10 L419.00,322.06 L419.50,322.06 L420.00,322.09 L420.50,322.10 L421.00,322.09 L421.50,322.07 L422.00,322.07 L422.50,321.88 L423.00,321.88 L423.50,322.10 L424.00,322.09 L424.50,322.10 L425.00,322.06 L425.50,322.01 L426.00,322.06 L426.50,322.10 L427.00,322.09 L427.50,322.10 L428.00,321.98 L428.50,321.94 L429.00,322.03 L429.50,322.06 L430.00,321.88 L430.50,322.03 L431.00,322.10 L431.50,321.87 L432.00,322.03 L432.50,321.89 L433.00,322.08 L433.50,322.05 L434.00,322.02 L434.50,322.05 L435.00,322.10 L435.50,322.10 L436.00,322.09 L436.50,322.10 L437.00,322.10 L437.50,322.00 L438.00,321.92 L438.50,321.97 L439.00,322.08 L439.50,321.90 L440.00,322.08 L440.50,322.10 L441.00,322.09 L441.50,321.89 L442.00,321.89 L442.50,321.93 L443.00,322.08 L443.50,322.10 L444.00,322.08 L444.50,322.06 L445.00,322.09 L445.50,322.10 L446.00,322.10 L446.00,322.10 Z" fill="#b0b0b0" stroke="#b0b0b0" stroke-width="0.25" stroke-linejoin="round"/>
<path d="M413.50,335.10 L413.50,332.22 L414.00,323.90 L414.50,331.22 L414.60,329.89 L415.00,333.13 L415.50,332.77 L415.60,332.37 L416.00,333.15 L416.50,331.32 L416.53,333.45 L417.00,331.59 L417.50,334.52 L417.59,334.43 L418.00,334.72 L418.50,334.85 L418.77,334.57 L419.00,334.87 L419.50,333.65 L419.92,334.95 L420.00,335.01 L420.50,334.58 L421.00,335.09 L421.50,335.10 L422.00,333.55 L422.50,334.43 L423.00,334.91 L423.50,335.10 L424.00,335.06 L424.50,335.09 L425.00,334.41 L425.50,332.85 L426.00,334.60 L426.50,333.50 L426.56,334.27 L427.00,334.56 L427.40,333.85 L427.50,332.96 L428.00,328.00 L428.50,332.59 L428.60,331.33 L429.00,333.89 L429.50,334.74 L429.79,334.07 L430.00,332.41 L430.50,332.36 L430.88,334.17 L431.00,334.88 L431.50,333.79 L431.82,334.20 L432.00,332.51 L432.50,334.45 L432.73,334.42 L433.00,332.71 L433.40,332.90 L433.50,329.36 L434.00,325.56 L434.50,330.83 L434.60,331.50 L435.00,333.14 L435.41,329.81 L435.50,332.16 L436.00,334.43 L436.48,331.88 L436.50,333.50 L437.00,334.53 L437.50,333.84 L438.00,333.20 L438.44,334.18 L438.50,334.31 L439.00,333.13 L439.22,333.67 L439.50,334.57 L440.00,333.54 L440.11,333.87 L440.50,333.44 L441.00,335.10 L441.50,335.10 L442.00,333.44 L442.50,334.96 L443.00,335.10 L443.50,334.95 L444.00,335.05 L444.50,335.02 L445.00,334.99 L445.50,335.10 L446.00,333.19 L446.00,335.10 Z" fill="#e3242b" stroke="#e3242b" stroke-width="0.25" stroke-linejoin="round"/>
<path d="M413.50,348.00 L413.50,345.07 L414.00,338.20 L414.50,342.23 L414.60,344.01 L415.00,346.36 L415.46,342.10 L415.50,343.22 L416.00,345.24 L416.37,347.05 L416.50,345.93 L417.00,346.97 L417.17,347.15 L417.50,347.51 L417.83,344.75 L418.00,347.36 L418.50,347.31 L418.68,345.87 L419.00,347.84 L419.50,347.20 L419.54,347.86 L420.00,347.19 L420.50,346.86 L421.00,346.87 L421.50,347.71 L422.00,347.26 L422.50,345.55 L423.00,347.42 L423.50,347.78 L424.00,346.14 L424.50,348.00 L425.00,347.54 L425.50,348.00 L426.00,347.84 L426.37,347.72 L426.50,347.65 L427.00,347.29 L427.40,343.45 L427.50,346.57 L428.00,341.07 L428.50,346.29 L428.60,343.19 L429.00,345.06 L429.50,344.86 L429.57,346.90 L430.00,347.62 L430.50,347.67 L430.57,347.79 L431.00,346.04 L431.50,347.40 L431.73,347.86 L432.00,347.88 L432.50,344.93 L432.75,345.95 L433.00,346.93 L433.40,346.51 L433.50,344.82 L434.00,338.50 L434.50,342.15 L434.60,342.64 L435.00,345.45 L435.50,343.96 L436.00,346.72 L436.50,344.80 L436.60,345.86 L437.00,345.83 L437.50,344.31 L437.52,346.68 L438.00,345.95 L438.50,346.97 L438.54,345.31 L439.00,347.28 L439.50,346.00 L439.70,347.50 L440.00,345.58 L440.50,345.78 L440.73,347.76 L441.00,345.97 L441.50,346.52 L442.00,347.66 L442.50,348.00 L443.00,347.97 L443.50,347.09 L444.00,347.81 L444.50,345.04 L445.00,348.00 L445.50,347.64 L446.00,346.68 L446.00,348.00 Z" fill="#e3242b" stroke="#e3242b" stroke-width="0.25" stroke-linejoin="round"/>
<path d="M413.50,361.50 L413.50,358.29 L414.00,350.30 L414.50,357.10 L414.60,355.03 L415.00,356.66 L415.31,357.98 L415.50,358.19 L416.00,361.00 L416.37,360.45 L416.50,358.28 L416.98,359.17 L417.00,357.60 L417.50,359.03 L417.59,360.79 L418.00,360.70 L418.50,360.95 L419.00,361.38 L419.22,359.66 L419.50,360.39 L419.88,361.32 L420.00,359.68 L420.50,361.29 L421.00,361.45 L421.50,361.10 L422.00,361.11 L422.50,360.47 L423.00,361.39 L423.50,361.50 L424.00,361.26 L424.50,358.72 L425.00,361.50 L425.50,358.70 L425.76,361.40 L426.00,360.87 L426.50,361.04 L426.77,360.87 L427.00,359.62 L427.40,360.45 L427.50,360.04 L428.00,356.49 L428.50,357.64 L428.60,358.97 L429.00,357.89 L429.39,360.04 L429.50,359.43 L430.00,361.29 L430.39,361.03 L430.50,360.68 L431.00,361.37 L431.29,361.22 L431.50,361.38 L432.00,361.13 L432.50,361.00 L432.70,361.14 L433.00,360.45 L433.40,358.38 L433.50,358.74 L434.00,352.00 L434.50,356.67 L434.60,357.49 L435.00,358.99 L435.50,358.01 L435.61,357.73 L436.00,359.99 L436.39,357.41 L436.50,358.27 L437.00,361.15 L437.50,360.31 L438.00,361.16 L438.50,360.46 L438.54,360.81 L439.00,359.46 L439.37,360.42 L439.50,361.29 L440.00,360.33 L440.48,360.16 L440.50,361.35 L441.00,361.25 L441.50,358.64 L442.00,361.27 L442.50,361.38 L443.00,361.30 L443.50,361.50 L444.00,360.37 L444.50,361.38 L445.00,360.40 L445.50,360.73 L446.00,360.70 L446.00,361.50 Z" fill="#e3242b" stroke="#e3242b" stroke-width="0.25" stroke-linejoin="round"/>
<path d="M447.60,296.00 L447.60,295.58 L448.10,295.97 L448.60,295.01 L449.10,295.17 L449.60,295.81 L450.10,295.66 L450.60,295.46 L451.10,295.86 L451.60,295.10 L452.10,295.20 L452.60,295.20 L453.10,295.71 L453.60,295.47 L454.10,294.85 L454.60,296.00 L455.10,295.61 L455.60,295.33 L456.10,296.00 L456.60,295.45 L457.10,295.96 L457.60,295.07 L458.10,296.00 L458.60,295.87 L459.10,295.78 L459.60,295.77 L460.10,295.97 L460.60,296.00 L461.10,294.91 L461.60,295.96 L462.10,295.55 L462.60,295.84 L463.10,295.97 L463.60,295.99 L464.10,295.89 L464.60,295.09 L465.10,295.69 L465.60,295.92 L466.10,295.90 L466.60,295.34 L467.10,295.26 L467.60,296.00 L468.10,295.97 L468.60,295.63 L469.10,296.00 L469.60,295.91 L470.10,295.35 L470.60,295.34 L471.10,295.33 L471.60,296.00 L472.10,295.99 L472.60,295.81 L473.10,296.00 L473.60,295.14 L474.10,296.00 L474.60,295.97 L475.10,295.06 L475.60,296.00 L476.10,295.93 L476.60,295.72 L477.10,295.80 L477.60,294.90 L478.10,295.82 L478.60,295.35 L479.10,295.97 L479.60,296.00 L480.10,295.94 L480.60,295.73 L481.10,295.72 L481.60,295.85 L482.10,295.96 L482.20,296.00 Z" fill="#222" stroke="#222" stroke-width="0.25" stroke-linejoin="round"/>
<path d="M447.60,309.20 L447.60,308.39 L448.10,308.87 L448.60,309.20 L449.10,309.11 L449.60,308.23 L450.10,309.20 L450.60,308.88 L451.10,309.05 L451.60,308.70 L452.10,308.88 L452.60,309.16 L453.10,309.15 L453.60,309.18 L454.10,309.20 L454.60,308.63 L455.10,309.07 L455.60,308.49 L456.10,308.95 L456.60,309.20 L457.10,308.94 L457.60,309.17 L458.10,309.15 L458.60,309.20 L459.10,308.51 L459.60,308.95 L460.10,309.13 L460.60,308.41 L461.10,308.81 L461.60,309.15 L462.10,309.17 L462.60,309.18 L463.10,309.16 L463.60,306.31 L464.00,303.01 L464.10,304.05 L464.60,309.20 L465.10,308.28 L465.60,303.01 L465.66,303.21 L466.10,307.55 L466.60,309.20 L467.10,303.33 L467.20,301.38 L467.60,306.81 L468.10,308.04 L468.60,302.59 L468.63,302.61 L469.10,307.13 L469.49,303.30 L469.60,303.69 L470.10,309.20 L470.60,306.64 L470.71,305.89 L471.10,307.10 L471.60,307.13 L471.82,305.20 L472.10,307.49 L472.60,309.20 L473.10,306.90 L473.46,303.13 L473.60,304.74 L474.10,306.38 L474.38,303.36 L474.60,305.22 L475.10,306.89 L475.12,306.23 L475.60,308.44 L476.10,308.32 L476.60,303.63 L476.67,302.97 L477.10,307.45 L477.60,306.31 L477.65,305.91 L478.10,308.22 L478.60,307.34 L478.64,307.54 L479.10,308.39 L479.60,309.08 L480.10,309.11 L480.60,309.14 L481.10,309.13 L481.60,308.41 L482.10,308.97 L482.20,309.20 Z" fill="#1f1fd6" stroke="#1f1fd6" stroke-width="0.25" stroke-linejoin="round"/>
<path d="M447.60,322.10 L447.60,322.09 L448.10,322.10 L448.60,322.10 L449.10,321.91 L449.60,322.09 L450.10,322.09 L450.60,321.85 L451.10,322.08 L451.60,322.06 L452.10,322.10 L452.60,322.09 L453.10,322.09 L453.60,322.10 L454.10,322.10 L454.60,322.07 L455.10,321.94 L455.60,322.02 L456.10,322.10 L456.60,322.03 L457.10,321.81 L457.60,322.00 L458.10,322.04 L458.60,322.10 L459.10,322.10 L459.60,322.10 L460.10,322.07 L460.60,322.09 L461.10,321.84 L461.60,322.10 L462.10,322.05 L462.60,322.09 L463.10,322.10 L463.60,321.81 L464.10,321.95 L464.60,322.10 L465.10,322.10 L465.60,322.09 L466.10,322.10 L466.60,321.91 L467.10,322.10 L467.60,322.08 L468.10,322.05 L468.60,322.10 L469.10,322.07 L469.60,322.07 L470.10,322.09 L470.60,321.94 L471.10,322.08 L471.60,321.95 L472.10,322.10 L472.60,322.07 L473.10,322.00 L473.60,322.10 L474.10,322.10 L474.60,322.09 L475.10,321.93 L475.60,322.10 L476.10,322.07 L476.60,322.10 L477.10,322.06 L477.60,321.99 L478.10,322.10 L478.60,322.10 L479.10,322.09 L479.60,321.90 L480.10,322.05 L480.60,322.09 L481.10,322.09 L481.60,322.10 L482.10,322.10 L482.20,322.10 Z" fill="#b0b0b0" stroke="#b0b0b0" stroke-width="0.25" stroke-linejoin="round"/>
<path d="M447.60,335.10 L447.60,335.10 L448.10,335.10 L448.60,334.57 L449.10,335.09 L449.60,335.05 L450.10,335.06 L450.60,334.93 L451.10,334.93 L451.60,335.10 L452.10,335.10 L452.60,334.42 L453.10,335.10 L453.60,335.05 L454.10,334.47 L454.60,335.10 L455.10,335.10 L455.60,335.04 L456.10,335.03 L456.60,334.26 L457.10,333.96 L457.60,335.10 L458.10,334.95 L458.60,333.99 L459.10,334.65 L459.60,335.10 L460.10,335.04 L460.60,335.03 L461.10,334.80 L461.60,335.05 L462.10,334.83 L462.60,334.62 L463.10,335.10 L463.60,334.37 L464.10,334.92 L464.60,332.73 L465.00,327.61 L465.10,329.19 L465.60,334.71 L466.10,330.84 L466.29,329.22 L466.60,332.20 L467.10,334.98 L467.60,330.83 L467.77,329.49 L468.10,332.33 L468.60,326.92 L469.10,332.16 L469.49,327.45 L469.60,328.96 L470.10,335.10 L470.60,333.77 L470.88,332.62 L471.10,333.23 L471.60,334.42 L472.10,327.29 L472.22,325.79 L472.60,331.61 L473.10,334.48 L473.60,330.57 L474.10,333.17 L474.51,328.97 L474.60,329.19 L475.10,330.29 L475.35,326.64 L475.60,329.40 L476.10,329.73 L476.27,328.88 L476.60,332.35 L477.04,328.11 L477.10,328.69 L477.60,331.63 L478.01,324.76 L478.10,327.13 L478.60,334.58 L479.10,328.05 L479.16,326.45 L479.60,332.90 L480.10,333.26 L480.21,332.84 L480.60,334.32 L481.10,335.10 L481.60,334.78 L482.10,335.10 L482.20,335.10 Z" fill="#e3242b" stroke="#e3242b" stroke-width="0.25" stroke-linejoin="round"/>
<path d="M447.60,348.00 L447.60,347.72 L448.10,347.31 L448.60,347.91 L449.10,346.96 L449.60,347.97 L450.10,346.88 L450.60,347.76 L451.10,347.67 L451.60,347.13 L452.10,347.71 L452.60,347.97 L453.10,347.73 L453.60,348.00 L454.10,347.95 L454.60,347.13 L455.10,348.00 L455.60,347.56 L456.10,347.78 L456.60,348.00 L457.10,348.00 L457.60,348.00 L458.10,347.67 L458.60,348.00 L459.10,347.99 L459.60,348.00 L460.10,347.92 L460.60,347.61 L461.10,348.00 L461.60,347.97 L462.10,347.92 L462.60,346.81 L463.10,347.84 L463.60,347.79 L464.10,348.00 L464.60,346.74 L465.00,343.36 L465.10,344.09 L465.60,347.85 L466.10,346.25 L466.55,340.72 L466.60,340.96 L467.10,347.38 L467.60,346.95 L468.10,343.18 L468.17,342.83 L468.60,346.43 L469.10,342.54 L469.30,339.66 L469.60,344.34 L470.10,347.18 L470.60,344.64 L470.94,339.18 L471.10,342.25 L471.60,345.41 L471.92,343.18 L472.10,344.39 L472.60,347.40 L473.10,345.76 L473.49,344.47 L473.60,344.83 L474.10,345.75 L474.52,341.94 L474.60,342.57 L475.10,346.93 L475.55,343.94 L475.60,343.41 L476.10,346.57 L476.45,344.05 L476.60,345.42 L477.07,343.98 L477.10,344.14 L477.60,343.90 L477.79,341.99 L478.10,344.40 L478.60,346.17 L479.04,341.57 L479.10,341.93 L479.60,345.50 L479.91,344.91 L480.10,345.73 L480.60,347.84 L481.10,347.87 L481.60,347.40 L482.10,347.60 L482.20,348.00 Z" fill="#e3242b" stroke="#e3242b" stroke-width="0.25" stroke-linejoin="round"/>
<path d="M447.60,361.50 L447.60,361.45 L448.10,361.48 L448.60,361.50 L449.10,361.50 L449.60,360.92 L450.10,360.68 L450.60,361.05 L451.10,361.22 L451.60,360.73 L452.10,361.19 L452.60,360.74 L453.10,361.02 L453.60,361.43 L454.10,361.48 L454.60,361.28 L455.10,361.21 L455.60,361.09 L456.10,361.43 L456.60,361.49 L457.10,360.71 L457.60,361.47 L458.10,361.48 L458.60,361.43 L459.10,361.29 L459.60,361.50 L460.10,361.29 L460.60,360.92 L461.10,361.38 L461.60,361.48 L462.10,361.30 L462.60,361.41 L463.10,360.57 L463.60,360.70 L464.10,360.91 L464.60,360.02 L465.00,357.02 L465.10,357.91 L465.60,360.23 L466.10,359.66 L466.17,359.13 L466.60,360.26 L466.85,358.85 L467.10,360.27 L467.60,360.98 L468.10,360.24 L468.42,359.19 L468.60,359.91 L469.09,353.71 L469.10,353.69 L469.60,359.82 L469.87,358.45 L470.10,359.55 L470.60,361.08 L471.10,358.37 L471.33,357.45 L471.60,359.37 L472.10,360.77 L472.60,356.88 L472.81,354.43 L473.10,357.29 L473.60,361.50 L474.10,355.72 L474.25,354.40 L474.60,358.16 L474.94,353.70 L475.10,355.69 L475.60,359.79 L476.06,354.25 L476.10,354.62 L476.60,360.73 L477.10,354.93 L477.17,354.09 L477.60,358.62 L478.10,359.80 L478.28,358.99 L478.60,357.98 L478.98,353.34 L479.10,355.12 L479.60,359.61 L480.04,356.24 L480.10,357.47 L480.60,360.74 L481.10,361.45 L481.60,361.19 L482.10,361.26 L482.20,361.50 Z" fill="#e3242b" stroke="#e3242b" stroke-width="0.25" stroke-linejoin="round"/>
<line x1="341.20" y1="285.40" x2="483.00" y2="285.40" stroke="#333" stroke-width="1.0" />
<line x1="341.20" y1="297.30" x2="483.00" y2="297.30" stroke="#333" stroke-width="1.0" />
<line x1="341.20" y1="310.50" x2="483.00" y2="310.50" stroke="#333" stroke-width="1.0" />
<line x1="341.20" y1="323.40" x2="483.00" y2="323.40" stroke="#333" stroke-width="1.0" />
<line x1="341.20" y1="336.40" x2="483.00" y2="336.40" stroke="#333" stroke-width="1.0" />
<line x1="341.20" y1="349.30" x2="483.00" y2="349.30" stroke="#333" stroke-width="1.0" />
<line x1="341.20" y1="362.80" x2="483.00" y2="362.80" stroke="#333" stroke-width="1.0" />
<line x1="341.20" y1="285.40" x2="341.20" y2="362.80" stroke="#333" stroke-width="1.0" />
<line x1="376.60" y1="285.40" x2="376.60" y2="362.80" stroke="#333" stroke-width="1.0" />
<line x1="412.70" y1="285.40" x2="412.70" y2="362.80" stroke="#333" stroke-width="1.0" />
<line x1="446.80" y1="285.40" x2="446.80" y2="362.80" stroke="#333" stroke-width="1.0" />
<line x1="483.00" y1="285.40" x2="483.00" y2="362.80" stroke="#333" stroke-width="1.0" />
<line x1="342.90" y1="366.40" x2="375.40" y2="366.40" stroke="#1c1cc8" stroke-width="0.9" />
<path d="M345.90,365.2 L347.20,366.4 L345.90,367.6" fill="none" stroke="#1c1cc8" stroke-width="0.6"/>
<path d="M350.10,365.2 L351.40,366.4 L350.10,367.6" fill="none" stroke="#1c1cc8" stroke-width="0.6"/>
<path d="M354.30,365.2 L355.60,366.4 L354.30,367.6" fill="none" stroke="#1c1cc8" stroke-width="0.6"/>
<path d="M358.50,365.2 L359.80,366.4 L358.50,367.6" fill="none" stroke="#1c1cc8" stroke-width="0.6"/>
<path d="M362.70,365.2 L364.00,366.4 L362.70,367.6" fill="none" stroke="#1c1cc8" stroke-width="0.6"/>
<path d="M366.90,365.2 L368.20,366.4 L366.90,367.6" fill="none" stroke="#1c1cc8" stroke-width="0.6"/>
<path d="M371.10,365.2 L372.40,366.4 L371.10,367.6" fill="none" stroke="#1c1cc8" stroke-width="0.6"/>
<rect x="345.30" y="364.40" width="2.60" height="4.00" rx="0.91" fill="#1c1cc8"/>
<rect x="351.00" y="365.10" width="1.20" height="2.60" rx="0.42" fill="#1c1cc8"/>
<rect x="360.00" y="365.10" width="1.20" height="2.60" rx="0.42" fill="#1c1cc8"/>
<rect x="368.00" y="365.10" width="1.20" height="2.60" rx="0.42" fill="#1c1cc8"/>
<rect x="372.00" y="365.10" width="1.20" height="2.60" rx="0.42" fill="#1c1cc8"/>
<text x="352.30" y="373.68" font-size="5.8" fill="#231f20" stroke="#231f20" stroke-width="0.04" font-weight="normal" textLength="15.10" lengthAdjust="spacingAndGlyphs" >MEIS1</text>
<line x1="377.50" y1="366.40" x2="408.50" y2="366.40" stroke="#1c1cc8" stroke-width="0.9" />
<path d="M380.50,365.2 L381.80,366.4 L380.50,367.6" fill="none" stroke="#1c1cc8" stroke-width="0.6"/>
<path d="M384.70,365.2 L386.00,366.4 L384.70,367.6" fill="none" stroke="#1c1cc8" stroke-width="0.6"/>
<path d="M388.90,365.2 L390.20,366.4 L388.90,367.6" fill="none" stroke="#1c1cc8" stroke-width="0.6"/>
<path d="M393.10,365.2 L394.40,366.4 L393.10,367.6" fill="none" stroke="#1c1cc8" stroke-width="0.6"/>
<path d="M397.30,365.2 L398.60,366.4 L397.30,367.6" fill="none" stroke="#1c1cc8" stroke-width="0.6"/>
<path d="M401.50,365.2 L402.80,366.4 L401.50,367.6" fill="none" stroke="#1c1cc8" stroke-width="0.6"/>
<path d="M405.70,365.2 L407.00,366.4 L405.70,367.6" fill="none" stroke="#1c1cc8" stroke-width="0.6"/>
<rect x="377.50" y="364.40" width="3.60" height="4.00" rx="1.26" fill="#1c1cc8"/>
<rect x="400.00" y="365.10" width="1.00" height="2.60" rx="0.35" fill="#1c1cc8"/>
<rect x="403.50" y="365.10" width="1.00" height="2.60" rx="0.35" fill="#1c1cc8"/>
<rect x="407.00" y="364.90" width="1.40" height="3.00" rx="0.49" fill="#1c1cc8"/>
<text x="384.00" y="373.68" font-size="5.8" fill="#231f20" stroke="#231f20" stroke-width="0.04" font-weight="normal" textLength="21.70" lengthAdjust="spacingAndGlyphs" >JMJD1C</text>
<line x1="415.40" y1="366.40" x2="445.00" y2="366.40" stroke="#1c1cc8" stroke-width="0.9" />
<path d="M418.40,365.2 L419.70,366.4 L418.40,367.6" fill="none" stroke="#1c1cc8" stroke-width="0.6"/>
<path d="M422.60,365.2 L423.90,366.4 L422.60,367.6" fill="none" stroke="#1c1cc8" stroke-width="0.6"/>
<path d="M426.80,365.2 L428.10,366.4 L426.80,367.6" fill="none" stroke="#1c1cc8" stroke-width="0.6"/>
<path d="M431.00,365.2 L432.30,366.4 L431.00,367.6" fill="none" stroke="#1c1cc8" stroke-width="0.6"/>
<path d="M435.20,365.2 L436.50,366.4 L435.20,367.6" fill="none" stroke="#1c1cc8" stroke-width="0.6"/>
<path d="M439.40,365.2 L440.70,366.4 L439.40,367.6" fill="none" stroke="#1c1cc8" stroke-width="0.6"/>
<rect x="415.40" y="364.90" width="1.00" height="3.00" rx="0.35" fill="#1c1cc8"/>
<rect x="438.50" y="365.10" width="1.00" height="2.60" rx="0.35" fill="#1c1cc8"/>
<rect x="441.50" y="364.90" width="1.20" height="3.00" rx="0.42" fill="#1c1cc8"/>
<rect x="444.50" y="364.90" width="1.00" height="3.00" rx="0.35" fill="#1c1cc8"/>
<text x="423.80" y="373.68" font-size="5.8" fill="#231f20" stroke="#231f20" stroke-width="0.04" font-weight="normal" textLength="13.20" lengthAdjust="spacingAndGlyphs" >PBX3</text>
<line x1="449.20" y1="366.40" x2="482.30" y2="366.40" stroke="#1c1cc8" stroke-width="0.9" />
<path d="M452.20,365.2 L453.50,366.4 L452.20,367.6" fill="none" stroke="#1c1cc8" stroke-width="0.6"/>
<path d="M456.40,365.2 L457.70,366.4 L456.40,367.6" fill="none" stroke="#1c1cc8" stroke-width="0.6"/>
<path d="M460.60,365.2 L461.90,366.4 L460.60,367.6" fill="none" stroke="#1c1cc8" stroke-width="0.6"/>
<path d="M464.80,365.2 L466.10,366.4 L464.80,367.6" fill="none" stroke="#1c1cc8" stroke-width="0.6"/>
<path d="M469.00,365.2 L470.30,366.4 L469.00,367.6" fill="none" stroke="#1c1cc8" stroke-width="0.6"/>
<path d="M473.20,365.2 L474.50,366.4 L473.20,367.6" fill="none" stroke="#1c1cc8" stroke-width="0.6"/>
<path d="M477.40,365.2 L478.70,366.4 L477.40,367.6" fill="none" stroke="#1c1cc8" stroke-width="0.6"/>
<rect x="450.00" y="364.90" width="1.20" height="3.00" rx="0.42" fill="#1c1cc8"/>
<rect x="452.50" y="364.90" width="1.20" height="3.00" rx="0.42" fill="#1c1cc8"/>
<rect x="455.00" y="364.90" width="1.20" height="3.00" rx="0.42" fill="#1c1cc8"/>
<rect x="463.50" y="364.80" width="1.60" height="3.20" rx="0.56" fill="#1c1cc8"/>
<rect x="467.00" y="364.80" width="1.60" height="3.20" rx="0.56" fill="#1c1cc8"/>
<rect x="470.50" y="364.80" width="1.60" height="3.20" rx="0.56" fill="#1c1cc8"/>
<rect x="474.00" y="364.80" width="1.60" height="3.20" rx="0.56" fill="#1c1cc8"/>
<rect x="477.00" y="364.80" width="1.60" height="3.20" rx="0.56" fill="#1c1cc8"/>
<rect x="480.50" y="364.70" width="1.40" height="3.40" rx="0.49" fill="#1c1cc8"/>
<text x="447.70" y="373.68" font-size="5.8" fill="#231f20" stroke="#231f20" stroke-width="0.04" font-weight="normal" textLength="34.30" lengthAdjust="spacingAndGlyphs" >HOXA-cluster</text>
<text x="169.00" y="293.50" font-size="6.0" fill="#231f20" stroke="#231f20" stroke-width="0.04" font-weight="normal" textLength="13.80" lengthAdjust="spacingAndGlyphs" >input</text>
<text x="166.80" y="306.05" font-size="6.0" fill="#231f20" stroke="#231f20" stroke-width="0.04" font-weight="normal" textLength="17.10" lengthAdjust="spacingAndGlyphs" >DMSO</text>
<text x="162.90" y="319.10" font-size="6.0" fill="#231f20" stroke="#231f20" stroke-width="0.04" font-weight="normal" textLength="24.60" lengthAdjust="spacingAndGlyphs" >VTP50469</text>
<text x="164.00" y="332.05" font-size="6.0" fill="#231f20" stroke="#231f20" stroke-width="0.04" font-weight="normal" textLength="23.00" lengthAdjust="spacingAndGlyphs" >comp. 10</text>
<text x="164.00" y="345.00" font-size="6.0" fill="#231f20" stroke="#231f20" stroke-width="0.04" font-weight="normal" textLength="23.00" lengthAdjust="spacingAndGlyphs" >comp. 11</text>
<text x="165.30" y="358.20" font-size="6.0" fill="#231f20" stroke="#231f20" stroke-width="0.04" font-weight="normal" textLength="20.70" lengthAdjust="spacingAndGlyphs" >EPZ5676</text>
</svg></body></html>
